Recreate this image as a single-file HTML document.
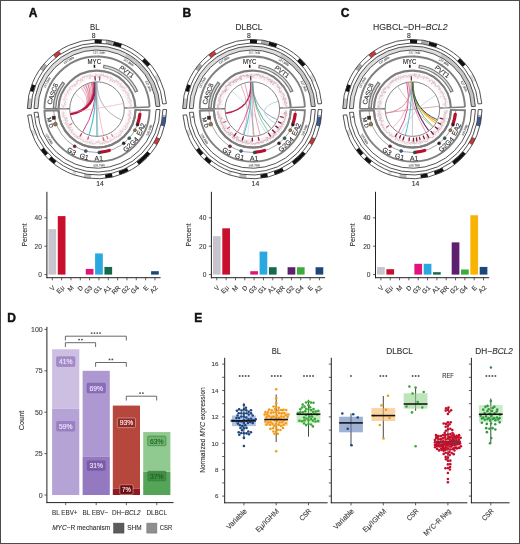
<!DOCTYPE html><html><head><meta charset="utf-8"><style>html,body{margin:0;padding:0;background:#fff;width:520px;height:544px;overflow:hidden;position:relative;font-family:"Liberation Sans",sans-serif}</style></head><body><svg width="520" height="544" viewBox="0 0 520 544" style="position:absolute;left:0;top:0;will-change:transform;font-family:'Liberation Sans', sans-serif">
<rect x="0" y="0" width="520" height="544" fill="#fff"/>
<text x="28.8" y="17" font-size="12" fill="#111" text-anchor="start" font-weight="bold" stroke="#111" stroke-width="0.45">A</text>
<text x="182.6" y="17" font-size="12" fill="#111" text-anchor="start" font-weight="bold" stroke="#111" stroke-width="0.45">B</text>
<text x="340.7" y="17" font-size="12" fill="#111" text-anchor="start" font-weight="bold" stroke="#111" stroke-width="0.45">C</text>
<text x="7.3" y="322.2" font-size="12" fill="#111" text-anchor="start" font-weight="bold" stroke="#111" stroke-width="0.45">D</text>
<text x="194.3" y="322.2" font-size="12" fill="#111" text-anchor="start" font-weight="bold" stroke="#111" stroke-width="0.45">E</text>
<text x="94.8" y="30" font-size="9" fill="#333" text-anchor="middle" font-weight="normal" textLength="9.5" lengthAdjust="spacingAndGlyphs" stroke="#333" stroke-width="0.12">BL</text>
<text x="249" y="30" font-size="9" fill="#333" text-anchor="middle" font-weight="normal" textLength="27" lengthAdjust="spacingAndGlyphs" stroke="#333" stroke-width="0.12">DLBCL</text>
<text x="410.3" y="30" font-size="9" fill="#333" text-anchor="middle" textLength="74.5" lengthAdjust="spacingAndGlyphs" stroke="#333" stroke-width="0.12">HGBCL−DH−<tspan font-style="italic">BCL2</tspan></text>
<path d="M27.4 108.49A69.6 69.6 0 0 1 166.39 103.64L162.7 103.93A65.9 65.9 0 0 0 31.1 108.52Z" fill="#fff" stroke="none"/>
<path d="M166.6 109.59A69.6 69.6 0 0 1 27.66 115.17L31.35 114.84A65.9 65.9 0 0 0 162.9 109.56Z" fill="#fff" stroke="none"/>
<path d="M27.4 108.49A69.6 69.6 0 0 1 28.26 98.21L31.91 98.79A65.9 65.9 0 0 0 31.1 108.52Z" fill="#c4c4c4" stroke="none"/>
<path d="M29.77 91.09A69.6 69.6 0 0 1 32.02 84.16L35.48 85.48A65.9 65.9 0 0 0 33.35 92.04Z" fill="#111" stroke="none"/>
<path d="M39.99 69.18A69.6 69.6 0 0 1 44.47 63.44L47.26 65.87A65.9 65.9 0 0 0 43.02 71.3Z" fill="#aaa" stroke="none"/>
<path d="M53.2 55.01A69.6 69.6 0 0 1 59.09 50.73L61.11 53.83A65.9 65.9 0 0 0 55.53 57.89Z" fill="#c23a3a" stroke="none"/>
<path d="M94.57 39.54A69.6 69.6 0 0 1 101.86 39.67L101.6 43.36A65.9 65.9 0 0 0 94.7 43.24Z" fill="#111" stroke="none"/>
<path d="M106.08 40.1A69.6 69.6 0 0 1 113.25 41.42L112.38 45.02A65.9 65.9 0 0 0 105.6 43.76Z" fill="#aaa" stroke="none"/>
<path d="M113.84 41.57A69.6 69.6 0 0 1 121.94 44.12L120.62 47.58A65.9 65.9 0 0 0 112.94 45.16Z" fill="#111" stroke="none"/>
<path d="M144.47 58.2A69.6 69.6 0 0 1 150.32 64.36L147.48 66.74A65.9 65.9 0 0 0 141.94 60.9Z" fill="#111" stroke="none"/>
<path d="M157.28 74.3A69.6 69.6 0 0 1 160.58 80.79L157.2 82.3A65.9 65.9 0 0 0 154.07 76.15Z" fill="#ddd" stroke="none"/>
<path d="M166.15 116.98A69.6 69.6 0 0 1 164.38 126.53L160.8 125.6A65.9 65.9 0 0 0 162.48 116.56Z" fill="#3d5a8e" stroke="none"/>
<path d="M166.34 115.17A69.6 69.6 0 0 1 166.15 116.98L162.48 116.56A65.9 65.9 0 0 0 162.65 114.84Z" fill="#9aaccc" stroke="none"/>
<path d="M160.08 138.51A69.6 69.6 0 0 1 156.66 144.95L153.49 143.04A65.9 65.9 0 0 0 156.73 136.95Z" fill="#c23a3a" stroke="none"/>
<path d="M150.32 153.84A69.6 69.6 0 0 1 138.89 164.69L136.66 161.73A65.9 65.9 0 0 0 147.48 151.46Z" fill="#111" stroke="none"/>
<path d="M128.6 171.11A69.6 69.6 0 0 1 119.66 174.91L118.45 171.41A65.9 65.9 0 0 0 126.92 167.82Z" fill="#111" stroke="none"/>
<path d="M112.66 176.92A69.6 69.6 0 0 1 105.48 178.18L105.03 174.51A65.9 65.9 0 0 0 111.82 173.31Z" fill="#111" stroke="none"/>
<path d="M90.93 178.44A69.6 69.6 0 0 1 83.72 177.42L84.43 173.79A65.9 65.9 0 0 0 91.26 174.75Z" fill="#bbb" stroke="none"/>
<path d="M75.49 175.29A69.6 69.6 0 0 1 72.06 174.08L73.38 170.62A65.9 65.9 0 0 0 76.64 171.77Z" fill="#ddd" stroke="none"/>
<path d="M54.15 163.95A69.6 69.6 0 0 1 48.65 159.17L51.22 156.5A65.9 65.9 0 0 0 56.43 161.03Z" fill="#111" stroke="none"/>
<path d="M45.28 155.67A69.6 69.6 0 0 1 40.69 150.01L43.69 147.84A65.9 65.9 0 0 0 48.03 153.2Z" fill="#111" stroke="none"/>
<path d="M32.93 136.29A69.6 69.6 0 0 1 30.81 130.61L34.33 129.46A65.9 65.9 0 0 0 36.34 134.85Z" fill="#ddd" stroke="none"/>
<path d="M27.4 108.49A69.6 69.6 0 0 1 166.39 103.64L162.7 103.93A65.9 65.9 0 0 0 31.1 108.52Z" fill="none" stroke="#333" stroke-width="0.85"/>
<path d="M166.6 109.59A69.6 69.6 0 0 1 27.66 115.17L31.35 114.84A65.9 65.9 0 0 0 162.9 109.56Z" fill="none" stroke="#333" stroke-width="0.85"/>
<path d="M34 108.55A63 63 0 0 1 159.94 106.35L156.04 106.52A59.1 59.1 0 0 0 37.9 108.58Z" fill="#dedede" stroke="none"/>
<path d="M126.58 53.47A63 63 0 0 1 159.94 106.35L156.04 106.52A59.1 59.1 0 0 0 124.75 56.92Z" fill="#c6c6c6" stroke="none"/>
<path d="M34 108.55A63 63 0 0 1 159.94 106.35L156.04 106.52A59.1 59.1 0 0 0 37.9 108.58Z" fill="none" stroke="#404040" stroke-width="0.9"/>
<path d="M160 109.54A63 63 0 0 1 34.09 112.4L37.98 112.19A59.1 59.1 0 0 0 156.1 109.51Z" fill="none" stroke="#404040" stroke-width="0.9"/>
<line x1="38.41" y1="116.81" x2="36.32" y2="117.09" stroke="#111" stroke-width="0.9"/>
<text x="47.2" y="82.62" font-size="3" fill="#666" text-anchor="middle" transform="rotate(-62 47.2 82.62)" dy="1" stroke="#666" stroke-width="0.12">127.5Mb</text>
<line x1="50.56" y1="84.41" x2="49.32" y2="83.75" stroke="#666" stroke-width="0.5"/>
<text x="68.8" y="60.26" font-size="3" fill="#666" text-anchor="middle" transform="rotate(-30 68.8 60.26)" dy="1" stroke="#666" stroke-width="0.12">127.6Mb</text>
<line x1="70.7" y1="63.55" x2="70" y2="62.33" stroke="#666" stroke-width="0.5"/>
<text x="98.97" y="52.73" font-size="3" fill="#666" text-anchor="middle" transform="rotate(2 98.97 52.73)" dy="1" stroke="#666" stroke-width="0.12">127.7Mb</text>
<line x1="98.84" y1="56.53" x2="98.88" y2="55.13" stroke="#666" stroke-width="0.5"/>
<text x="128.54" y="62.34" font-size="3" fill="#666" text-anchor="middle" transform="rotate(34 128.54 62.34)" dy="1" stroke="#666" stroke-width="0.12">127.8Mb</text>
<line x1="126.41" y1="65.49" x2="127.2" y2="64.33" stroke="#666" stroke-width="0.5"/>
<text x="148.52" y="86.16" font-size="3" fill="#666" text-anchor="middle" transform="rotate(66 148.52 86.16)" dy="1" stroke="#666" stroke-width="0.12">127.9Mb</text>
<line x1="145.05" y1="87.71" x2="146.33" y2="87.14" stroke="#666" stroke-width="0.5"/>
<text x="149.29" y="130.23" font-size="3" fill="#666" text-anchor="middle" transform="rotate(-68 149.29 130.23)" dy="1" stroke="#666" stroke-width="0.12">105.8Mb</text>
<line x1="145.77" y1="128.8" x2="147.07" y2="129.33" stroke="#666" stroke-width="0.5"/>
<text x="98.97" y="165.47" font-size="3" fill="#666" text-anchor="middle" transform="rotate(-2 98.97 165.47)" dy="1" stroke="#666" stroke-width="0.12">105.7Mb</text>
<line x1="98.84" y1="161.67" x2="98.88" y2="163.07" stroke="#666" stroke-width="0.5"/>
<text x="49.17" y="138.99" font-size="3" fill="#666" text-anchor="middle" transform="rotate(58 49.17 138.99)" dy="1" stroke="#666" stroke-width="0.12">105.6Mb</text>
<line x1="52.39" y1="136.97" x2="51.21" y2="137.72" stroke="#666" stroke-width="0.5"/>
<path d="M44.4 108.64A52.6 52.6 0 0 1 149.56 107.08" fill="none" stroke="#808080" stroke-width="1.9"/>
<path d="M149.59 110.2A52.6 52.6 0 0 1 44.43 110.75L58.52 110.31A38.5 38.5 0 0 0 135.49 109.91Z" fill="none" stroke="#808080" stroke-width="1.9"/>
<path d="M58.5 108.76A38.5 38.5 0 0 1 135.47 107.62" fill="none" stroke="#7c7c7c" stroke-width="2.1"/>
<path d="M135.49 109.91A38.5 38.5 0 0 1 58.52 110.31" fill="none" stroke="#7c7c7c" stroke-width="2.1"/>
<line x1="69.7" y1="108.86" x2="44.4" y2="108.64" stroke="#7e7e7e" stroke-width="1.5"/>
<line x1="124.28" y1="108.05" x2="149.56" y2="107.08" stroke="#7e7e7e" stroke-width="1.5"/>
<path d="M140.37 110.61A43.4 43.4 0 0 1 53.64 110.99" fill="none" stroke="#666" stroke-width="0.6"/>
<path d="M103.95 65.25A44.4 44.4 0 0 1 137.56 91.04L135.28 92.06A41.9 41.9 0 0 0 103.55 67.72Z" fill="#dcdcdc" stroke="#777" stroke-width="1.2"/>
<path d="M53.31 107.96A43.7 43.7 0 0 1 62.56 82.2L64.53 83.73A41.2 41.2 0 0 0 55.81 108.02Z" fill="#dcdcdc" stroke="#777" stroke-width="1.2"/>
<path d="M60.71 108.15A36.3 36.3 0 0 1 133.25 107.2L127.46 107.5A30.5 30.5 0 0 0 66.51 108.3Z" fill="#fcf6f7" stroke="none"/>
<path d="M133.28 110.37A36.3 36.3 0 0 1 60.73 110.68L66.53 110.43A30.5 30.5 0 0 0 127.48 110.16Z" fill="#fcf6f7" stroke="none"/>
<polyline points="63.76,108.23 63.47,107.51 62.48,106.89 64.12,106.6 63.65,106.01 63.72,105.33 65.89,104.84 64.87,103.93 64.01,103.42 65,103.02 66.18,102.7 65.71,102.01 64.78,101.03 63.47,99.97 63.33,99.33 64.08,99.02 64.52,98.36 65.28,98.23 65.63,97.77 64.65,96.67 65.26,96.3 65.77,95.85 66.75,95.88 65.78,94.55 66.19,94.25 66.42,93.55 66.7,93.17 67.12,92.68 68.1,92.52 66.85,90.92 68.06,90.78 69.37,90.97 69.4,90.25 69.4,89.54 69.2,88.64 71.46,89.63 69.46,87.28 70.02,86.76 71.21,86.76 71.43,86.47 72.73,86.77 72.87,86.1 72.82,85.08 74.01,85.48 75.69,86.47 74.5,84.35 75.89,84.83 75.65,83.52 77.08,84.23 77.26,83.35 76.52,81.47 77.83,82.17 77.29,79.96 78.75,80.76 79.2,80.15 79.99,80.77 81.12,81.15 80.57,78.5 82.33,80.71 82.97,80.82 82.25,78.24 82.9,77.79 82.92,76.55 84.19,78.2 84.2,76.18 85.17,76.49 86.34,77.33 86.76,77.37 86.74,75.77 87.76,76.53 87.9,75.14 89.07,76.44 90.1,79.11 89.87,74.78 90.55,74.77 91.6,77.1 92.06,75.09 92.73,75.75 93.54,76.35 93.9,76.05 94.23,75.69 94.87,76.95 95.49,75.97 95.95,73.69 96.49,75.54 96.89,75.03 97.71,75.44 98.18,77.73 99.13,74.67 99.86,73.77 100.49,74.66 100.92,76.3 101.71,73.96 102.27,74.93 102.66,75.88 103.41,74.59 103.66,75.99 104.3,75.99 104.57,76.89 104.94,76.97 105.88,75.29 106.18,77.09 106.81,77.49 107.78,75.89 107.61,78.7 108.83,77.58 109.39,77.29 110.45,76.8 111.11,77.24 110.37,79.92 110.53,81.06 112.59,78.52 113.15,79.09 112.48,81.35 113.63,80.4 114.01,80.56 115.02,80.34 114.47,82.35 116.42,80.48 116.25,81.92 116.82,82.11 118.38,81.07 117.97,82.41 117.94,83.4 118.88,83.46 119.55,83.83 120.47,83.88 121.7,83.75 119.57,86.53 120.85,86.24 121.88,86.21 121.07,87.51 123.2,86.61 122.8,87.98 124.26,87.77 125.16,87.81 125.24,88.45 122.6,90.87 124.51,90.49 124.8,90.94 125.7,90.92 125.13,91.93 126.35,91.94 126.32,92.66 127.48,92.56 128.5,92.89 128.5,93.57 127.67,94.68 127.03,95.41 129.48,95 127.82,96.6 128.46,97.01 127.88,97.78 128.82,98.03 129.99,98.41 128.94,99.43 130.12,99.59 130.1,100.38 131.06,100.75 131.62,101.37 130.78,102.01 129.31,102.84 130.44,103.19 131.38,103.68 130.87,104.49 131.35,105.1 131.36,105.66 131.83,106.44 131.97,107.17" fill="none" stroke="#d4aab8" stroke-width="0.55" stroke-opacity="0.9"/>
<polyline points="130.57,110.27 129.1,110.95 129.5,111.54 130.84,112.35 129.73,112.89 131.36,113.91 130.13,114.42 127.92,114.79 130.18,115.82 129.53,116.39 131.01,117.46 129.38,117.71 130.66,118.52 129.1,118.6 128.25,119.05 128.93,119.94 128.2,120.43 130.14,121.62 129.25,122.15 127.87,122.1 127.91,122.87 128.56,123.68 126.91,123.46 126.09,123.7 127.67,125.21 127.66,126.01 126.27,125.98 125.73,126.14 125.02,126.38 125.63,127.63 125.92,128.38 125.97,129.21 125.51,129.36 124.33,129.15 123.89,129.8 122.95,129.96 122.71,130.23 121.85,129.99 123.01,131.97 121.3,131.44 119.83,130.61 121.74,133.41 120.72,133.34 120.15,133.93 119.89,134.83 119.35,135.2 118.7,135.04 119.22,136.38 118.41,136.48 117.91,136.99 116.32,136.21 116.35,137.58 115.55,137.73 114.27,137.22 113.92,137.71 113.53,138.4 113.56,139.27 113.26,139.87 112.95,140.21 111.7,139.42 111.55,140.21 111.32,140.97 110.03,139.61 110.38,141.95 109.39,141.54 108.75,142.13 107.95,141.14 107.55,141.21 107.56,142.49 106.67,141.36 106.51,142.62 105.51,141.28 104.55,139.47 104.92,143.47 104.04,143.41 102.95,142 102.67,144.12 101.87,143.6 101.02,143.44 100.53,144.37 99.89,142.26 99.32,142.96 98.5,140.5 98.12,142.26 97.48,142.72 96.74,141.45 96.36,142.95 95.68,142.71 94.96,144.19 94.42,143.66 93.58,143.91 92.75,144.34 92.37,143.63 91.87,142.88 90.96,143.54 90.55,143.62 90.38,142.12 90.13,141.59 89.02,143.01 88.52,142.42 87.95,142.19 87.26,141.64 86.87,141.22 86.06,141.64 85.57,141.71 84.96,141.3 84.1,141.99 83.48,141.64 83.3,140.11 82.65,139.78 82.17,139.44 81.78,139.3 81.67,138.72 80.49,139.32 80.19,138.16 79.01,138.77 78.66,137.93 77.47,138.66 78.35,136.61 78.13,136.14 76.26,137.76 76.9,135.71 75.64,135.98 74.58,136.45 74.92,135.39 75.14,134.1 74.16,134.48 73.05,134.54 73.47,133.52 72.9,133.39 72.87,132.84 72.64,131.98 70.95,132.78 71.38,131.72 71.52,130.79 72.56,129.27 69.33,131.03 69.82,130.03 69.6,129.29 69.98,128.18 68.49,128.45 69.24,127.23 67.67,127.66 68.15,126.81 69.29,125.54 68.16,125.43 66.58,125.53 66.97,124.44 68.09,123.32 66.05,123.88 66.25,123.09 64.7,123.09 66.63,121.88 67.96,120.67 65.32,120.84 65.9,120.01 65.2,119.81 67.37,118.42 64.71,118.84 66.57,117.91 65.38,117.45 63.77,117.37 64,116.49 62.61,116.1 63.58,115.12 63.16,114.53 63.41,113.87 64.43,113.09 63.74,112.74 63.59,112.14 62.96,111.59 63.19,111.16" fill="none" stroke="#d4aab8" stroke-width="0.55" stroke-opacity="0.9"/>
<line x1="129.24" y1="118.3" x2="131.26" y2="118.88" stroke="#d8d0d4" stroke-width="0.45"/>
<line x1="109.79" y1="137.44" x2="110.34" y2="138.67" stroke="#d8d0d4" stroke-width="0.45"/>
<line x1="110.33" y1="137.6" x2="111.36" y2="139.82" stroke="#d8d0d4" stroke-width="0.45"/>
<line x1="76.53" y1="82.4" x2="75.81" y2="81.46" stroke="#d8d0d4" stroke-width="0.45"/>
<line x1="79.42" y1="137.67" x2="78.68" y2="138.86" stroke="#d8d0d4" stroke-width="0.45"/>
<line x1="73.48" y1="130.03" x2="71.74" y2="131.57" stroke="#d8d0d4" stroke-width="0.45"/>
<line x1="120.98" y1="87.43" x2="121.73" y2="86.75" stroke="#d8d0d4" stroke-width="0.45"/>
<line x1="122.75" y1="127.78" x2="124.37" y2="128.95" stroke="#d8d0d4" stroke-width="0.45"/>
<line x1="87.64" y1="140.55" x2="87.4" y2="141.33" stroke="#d8d0d4" stroke-width="0.45"/>
<line x1="65.07" y1="120.07" x2="63.22" y2="120.71" stroke="#d8d0d4" stroke-width="0.45"/>
<line x1="120.95" y1="86.85" x2="122.7" y2="85.23" stroke="#d8d0d4" stroke-width="0.45"/>
<line x1="129.29" y1="100.8" x2="131.11" y2="100.34" stroke="#d8d0d4" stroke-width="0.45"/>
<line x1="126.94" y1="93.4" x2="128.3" y2="92.69" stroke="#d8d0d4" stroke-width="0.45"/>
<line x1="121.67" y1="128.14" x2="122.97" y2="129.14" stroke="#d8d0d4" stroke-width="0.45"/>
<line x1="65.06" y1="100.35" x2="64.29" y2="100.14" stroke="#d8d0d4" stroke-width="0.45"/>
<line x1="67.03" y1="99.95" x2="66.03" y2="99.64" stroke="#d8d0d4" stroke-width="0.45"/>
<line x1="129.03" y1="110.71" x2="130.31" y2="110.77" stroke="#d8d0d4" stroke-width="0.45"/>
<line x1="63.59" y1="113.69" x2="61.63" y2="113.96" stroke="#d8d0d4" stroke-width="0.45"/>
<line x1="86.91" y1="141" x2="86.54" y2="142.19" stroke="#d8d0d4" stroke-width="0.45"/>
<line x1="86.28" y1="138.95" x2="85.67" y2="140.66" stroke="#d8d0d4" stroke-width="0.45"/>
<line x1="116.96" y1="84.76" x2="118.35" y2="83.06" stroke="#d8d0d4" stroke-width="0.45"/>
<line x1="69.85" y1="125.92" x2="67.82" y2="127.18" stroke="#d8d0d4" stroke-width="0.45"/>
<line x1="116.04" y1="82.18" x2="117.53" y2="80.06" stroke="#d8d0d4" stroke-width="0.45"/>
<line x1="93.28" y1="140.04" x2="93.09" y2="141.62" stroke="#d8d0d4" stroke-width="0.45"/>
<line x1="119.92" y1="86.94" x2="121.55" y2="85.36" stroke="#d8d0d4" stroke-width="0.45"/>
<line x1="127.9" y1="97.24" x2="129.71" y2="96.54" stroke="#d8d0d4" stroke-width="0.45"/>
<line x1="127.95" y1="112.77" x2="129.95" y2="113.01" stroke="#d8d0d4" stroke-width="0.45"/>
<line x1="73.09" y1="129.64" x2="71.61" y2="130.91" stroke="#d8d0d4" stroke-width="0.45"/>
<line x1="128.93" y1="106.6" x2="131" y2="106.44" stroke="#d8d0d4" stroke-width="0.45"/>
<line x1="66.49" y1="114.94" x2="64.12" y2="115.39" stroke="#d8d0d4" stroke-width="0.45"/>
<line x1="122.07" y1="86.87" x2="122.9" y2="86.13" stroke="#d8d0d4" stroke-width="0.45"/>
<line x1="103.98" y1="139.61" x2="104.3" y2="140.98" stroke="#d8d0d4" stroke-width="0.45"/>
<line x1="64.84" y1="116.36" x2="62.68" y2="116.84" stroke="#d8d0d4" stroke-width="0.45"/>
<line x1="128.48" y1="101.38" x2="130.12" y2="100.98" stroke="#d8d0d4" stroke-width="0.45"/>
<line x1="92.82" y1="142.01" x2="92.67" y2="143.14" stroke="#d8d0d4" stroke-width="0.45"/>
<line x1="127.43" y1="97.33" x2="129.13" y2="96.67" stroke="#d8d0d4" stroke-width="0.45"/>
<line x1="67.42" y1="124.87" x2="66.48" y2="125.38" stroke="#d8d0d4" stroke-width="0.45"/>
<line x1="119.5" y1="87.3" x2="120.1" y2="86.71" stroke="#d8d0d4" stroke-width="0.45"/>
<line x1="69.29" y1="94.02" x2="67.37" y2="92.98" stroke="#d8d0d4" stroke-width="0.45"/>
<line x1="113.93" y1="137.88" x2="114.6" y2="139.02" stroke="#d8d0d4" stroke-width="0.45"/>
<line x1="78.71" y1="80.54" x2="77.47" y2="78.61" stroke="#d8d0d4" stroke-width="0.45"/>
<line x1="68" y1="120.2" x2="66.58" y2="120.74" stroke="#d8d0d4" stroke-width="0.45"/>
<line x1="119.38" y1="133.64" x2="121.02" y2="135.44" stroke="#d8d0d4" stroke-width="0.45"/>
<line x1="128.29" y1="116.57" x2="129.08" y2="116.76" stroke="#d8d0d4" stroke-width="0.45"/>
<line x1="86.41" y1="141.35" x2="85.65" y2="143.66" stroke="#d8d0d4" stroke-width="0.45"/>
<line x1="114.08" y1="136.19" x2="114.74" y2="137.23" stroke="#d8d0d4" stroke-width="0.45"/>
<line x1="92.35" y1="142.58" x2="92" y2="145.09" stroke="#d8d0d4" stroke-width="0.45"/>
<line x1="82.91" y1="79.53" x2="82.16" y2="77.97" stroke="#d8d0d4" stroke-width="0.45"/>
<line x1="127.05" y1="94.55" x2="129.28" y2="93.47" stroke="#d8d0d4" stroke-width="0.45"/>
<line x1="102.77" y1="141.69" x2="103.12" y2="143.71" stroke="#d8d0d4" stroke-width="0.45"/>
<line x1="115.86" y1="135.7" x2="116.58" y2="136.72" stroke="#d8d0d4" stroke-width="0.45"/>
<line x1="91.83" y1="140.03" x2="91.5" y2="141.96" stroke="#d8d0d4" stroke-width="0.45"/>
<line x1="121.95" y1="87.99" x2="123.44" y2="86.73" stroke="#d8d0d4" stroke-width="0.45"/>
<line x1="130.64" y1="104.67" x2="131.86" y2="104.51" stroke="#d8d0d4" stroke-width="0.45"/>
<line x1="63.34" y1="105.37" x2="61.99" y2="105.21" stroke="#d8d0d4" stroke-width="0.45"/>
<line x1="103.15" y1="77.45" x2="103.51" y2="75.61" stroke="#d8d0d4" stroke-width="0.45"/>
<line x1="64.12" y1="113.1" x2="62.76" y2="113.27" stroke="#d8d0d4" stroke-width="0.45"/>
<line x1="128.6" y1="116.02" x2="130.26" y2="116.38" stroke="#d8d0d4" stroke-width="0.45"/>
<line x1="124.46" y1="93.67" x2="125.78" y2="92.93" stroke="#d8d0d4" stroke-width="0.45"/>
<line x1="121.39" y1="89.01" x2="123.14" y2="87.56" stroke="#d8d0d4" stroke-width="0.45"/>
<line x1="117.28" y1="85.06" x2="118.46" y2="83.67" stroke="#d8d0d4" stroke-width="0.45"/>
<line x1="78.96" y1="137.14" x2="77.92" y2="138.75" stroke="#d8d0d4" stroke-width="0.45"/>
<line x1="101.32" y1="140.82" x2="101.46" y2="141.86" stroke="#d8d0d4" stroke-width="0.45"/>
<line x1="98.56" y1="77.09" x2="98.62" y2="75.79" stroke="#d8d0d4" stroke-width="0.45"/>
<line x1="127.82" y1="102.84" x2="128.83" y2="102.64" stroke="#d8d0d4" stroke-width="0.45"/>
<line x1="98.09" y1="77.53" x2="98.16" y2="75.29" stroke="#d8d0d4" stroke-width="0.45"/>
<line x1="127.74" y1="116.41" x2="129.27" y2="116.77" stroke="#d8d0d4" stroke-width="0.45"/>
<line x1="74.93" y1="133.27" x2="73.72" y2="134.6" stroke="#d8d0d4" stroke-width="0.45"/>
<line x1="121.66" y1="89.35" x2="123.16" y2="88.15" stroke="#d8d0d4" stroke-width="0.45"/>
<line x1="67.96" y1="92.69" x2="67.17" y2="92.25" stroke="#d8d0d4" stroke-width="0.45"/>
<line x1="98.29" y1="141.22" x2="98.37" y2="143.25" stroke="#d8d0d4" stroke-width="0.45"/>
<line x1="123.5" y1="125.92" x2="125" y2="126.87" stroke="#d8d0d4" stroke-width="0.45"/>
<line x1="69.1" y1="94.01" x2="67.79" y2="93.3" stroke="#d8d0d4" stroke-width="0.45"/>
<line x1="104.81" y1="77.05" x2="105.42" y2="74.55" stroke="#d8d0d4" stroke-width="0.45"/>
<line x1="118.11" y1="83.07" x2="118.87" y2="82.13" stroke="#d8d0d4" stroke-width="0.45"/>
<line x1="105.55" y1="139.98" x2="106.02" y2="141.68" stroke="#d8d0d4" stroke-width="0.45"/>
<line x1="69.09" y1="90.6" x2="68.11" y2="89.95" stroke="#d8d0d4" stroke-width="0.45"/>
<line x1="128.05" y1="101.92" x2="130.25" y2="101.42" stroke="#d8d0d4" stroke-width="0.45"/>
<line x1="124.56" y1="126.97" x2="126.37" y2="128.15" stroke="#d8d0d4" stroke-width="0.45"/>
<line x1="98.49" y1="77.96" x2="98.6" y2="75.67" stroke="#d8d0d4" stroke-width="0.45"/>
<line x1="110.79" y1="78.64" x2="111.83" y2="76.34" stroke="#d8d0d4" stroke-width="0.45"/>
<line x1="118.75" y1="131.62" x2="120.38" y2="133.3" stroke="#d8d0d4" stroke-width="0.45"/>
<line x1="118.44" y1="132.5" x2="119.23" y2="133.37" stroke="#d8d0d4" stroke-width="0.45"/>
<line x1="128.33" y1="110.6" x2="130.76" y2="110.72" stroke="#d8d0d4" stroke-width="0.45"/>
<line x1="106.22" y1="141.26" x2="106.63" y2="142.69" stroke="#d8d0d4" stroke-width="0.45"/>
<line x1="69.63" y1="124.49" x2="67.81" y2="125.51" stroke="#d8d0d4" stroke-width="0.45"/>
<line x1="98.43" y1="78.12" x2="98.47" y2="77.11" stroke="#d8d0d4" stroke-width="0.45"/>
<line x1="87.68" y1="77.14" x2="87.27" y2="75.72" stroke="#d8d0d4" stroke-width="0.45"/>
<line x1="129.64" y1="105.44" x2="130.91" y2="105.3" stroke="#d8d0d4" stroke-width="0.45"/>
<line x1="118.54" y1="134.12" x2="120.14" y2="135.99" stroke="#d8d0d4" stroke-width="0.45"/>
<line x1="76.84" y1="136.36" x2="75.54" y2="138.12" stroke="#d8d0d4" stroke-width="0.45"/>
<line x1="125.08" y1="94.14" x2="125.94" y2="93.68" stroke="#d8d0d4" stroke-width="0.45"/>
<line x1="82.34" y1="136.85" x2="81.49" y2="138.45" stroke="#d8d0d4" stroke-width="0.45"/>
<line x1="126.87" y1="100.31" x2="128.01" y2="99.97" stroke="#d8d0d4" stroke-width="0.45"/>
<line x1="83.24" y1="138.67" x2="82.2" y2="140.91" stroke="#d8d0d4" stroke-width="0.45"/>
<line x1="71.3" y1="126.94" x2="69.64" y2="128.09" stroke="#d8d0d4" stroke-width="0.45"/>
<line x1="66.17" y1="99.57" x2="64.65" y2="99.09" stroke="#d8d0d4" stroke-width="0.45"/>
<line x1="65.71" y1="118.88" x2="64.62" y2="119.22" stroke="#d8d0d4" stroke-width="0.45"/>
<line x1="129.51" y1="111.07" x2="130.66" y2="111.14" stroke="#d8d0d4" stroke-width="0.45"/>
<circle cx="119.9" cy="81.87" r="0.45" fill="#eab0bd"/>
<circle cx="62.56" cy="114.31" r="0.45" fill="#eab0bd"/>
<circle cx="64.55" cy="93.99" r="0.45" fill="#eab0bd"/>
<circle cx="131.09" cy="100.1" r="0.45" fill="#eab0bd"/>
<circle cx="84.24" cy="81.83" r="0.45" fill="#eab0bd"/>
<circle cx="71.56" cy="127.06" r="0.45" fill="#eab0bd"/>
<circle cx="65.73" cy="99.34" r="0.45" fill="#eab0bd"/>
<circle cx="61.89" cy="112.39" r="0.45" fill="#eab0bd"/>
<circle cx="126.14" cy="87.21" r="0.45" fill="#eab0bd"/>
<circle cx="87.49" cy="143.11" r="0.45" fill="#eab0bd"/>
<circle cx="116.67" cy="134.29" r="0.45" fill="#eab0bd"/>
<circle cx="70.54" cy="128.02" r="0.45" fill="#eab0bd"/>
<circle cx="67.03" cy="123.25" r="0.45" fill="#eab0bd"/>
<circle cx="70.02" cy="127.36" r="0.45" fill="#eab0bd"/>
<circle cx="127.02" cy="94.42" r="0.45" fill="#eab0bd"/>
<circle cx="109.71" cy="81.79" r="0.45" fill="#eab0bd"/>
<circle cx="127.07" cy="127.75" r="0.45" fill="#eab0bd"/>
<circle cx="103.7" cy="74.25" r="0.45" fill="#eab0bd"/>
<circle cx="89.63" cy="143.13" r="0.45" fill="#eab0bd"/>
<circle cx="128.53" cy="90.74" r="0.45" fill="#eab0bd"/>
<circle cx="89.19" cy="141.49" r="0.45" fill="#eab0bd"/>
<circle cx="72.41" cy="86.64" r="0.45" fill="#eab0bd"/>
<circle cx="61.51" cy="104.67" r="0.45" fill="#eab0bd"/>
<circle cx="113.77" cy="82.12" r="0.45" fill="#eab0bd"/>
<circle cx="129.11" cy="119.6" r="0.45" fill="#eab0bd"/>
<circle cx="125.42" cy="125.15" r="0.45" fill="#eab0bd"/>
<circle cx="120.73" cy="135.3" r="0.45" fill="#eab0bd"/>
<circle cx="127.94" cy="98.36" r="0.45" fill="#eab0bd"/>
<circle cx="86.84" cy="136.29" r="0.45" fill="#eab0bd"/>
<circle cx="80.91" cy="82.09" r="0.45" fill="#eab0bd"/>
<circle cx="89.67" cy="74.14" r="0.45" fill="#eab0bd"/>
<circle cx="79.8" cy="84.75" r="0.45" fill="#eab0bd"/>
<circle cx="110.83" cy="79.34" r="0.45" fill="#eab0bd"/>
<circle cx="81.91" cy="142.3" r="0.45" fill="#eab0bd"/>
<circle cx="77.62" cy="136.51" r="0.45" fill="#eab0bd"/>
<line x1="95.23" y1="80.15" x2="95.02" y2="76.66" stroke="#8a2a48" stroke-width="1.3" stroke-linecap="round"/>
<line x1="99.53" y1="80.21" x2="99.83" y2="76.72" stroke="#a06070" stroke-width="1.3" stroke-linecap="round"/>
<line x1="81.63" y1="133.69" x2="80.04" y2="136.24" stroke="#c04060" stroke-width="1.3" stroke-linecap="round"/>
<line x1="88.52" y1="136.83" x2="87.79" y2="139.22" stroke="#d05070" stroke-width="1.3" stroke-linecap="round"/>
<line x1="103.03" y1="137.47" x2="103.65" y2="140.4" stroke="#d07080" stroke-width="1.3" stroke-linecap="round"/>
<line x1="106.92" y1="136.35" x2="107.77" y2="138.7" stroke="#e08090" stroke-width="1.3" stroke-linecap="round"/>
<line x1="111.5" y1="134.21" x2="112.75" y2="136.38" stroke="#e090a0" stroke-width="1.3" stroke-linecap="round"/>
<line x1="71.89" y1="123.6" x2="69.72" y2="124.85" stroke="#e08090" stroke-width="1.3" stroke-linecap="round"/>
<circle cx="97" cy="109.1" r="27.3" fill="none" stroke="#777" stroke-width="0.9"/>
<path d="M81.13 87.26Q97 109.1 70.5 114.25" fill="none" stroke="#e8a8b8" stroke-width="1.2" stroke-opacity="0.85"/>
<path d="M83.5 85.72Q97 109.1 70.41 113.79" fill="none" stroke="#e498ac" stroke-width="1.3" stroke-opacity="0.85"/>
<path d="M85.59 84.63Q97 109.1 70.41 113.79" fill="none" stroke="#dc8098" stroke-width="1.3" stroke-opacity="0.85"/>
<path d="M87.77 83.73Q97 109.1 70.5 114.25" fill="none" stroke="#d47088" stroke-width="1.2" stroke-opacity="0.85"/>
<path d="M89.56 83.15Q97 109.1 70.41 113.79" fill="none" stroke="#e098b0" stroke-width="1.2" stroke-opacity="0.8"/>
<path d="M91.39 82.69Q97 109.1 70.41 113.79" fill="none" stroke="#cc5878" stroke-width="1.1" stroke-opacity="0.8"/>
<path d="M92.78 82.43Q97 109.1 70.41 113.79" fill="none" stroke="#c03c5c" stroke-width="1.2" stroke-opacity="0.85"/>
<path d="M93.94 82.27Q97 109.1 70.5 114.25" fill="none" stroke="#be1e4c" stroke-width="1.4" stroke-opacity="0.85"/>
<path d="M74.88 93.61Q97 109.1 70.26 112.86" fill="none" stroke="#eab8c4" stroke-width="0.8" stroke-opacity="0.75"/>
<path d="M95.12 82.17Q97 109.1 70.5 114.25" fill="none" stroke="#b5123c" stroke-width="2.2" stroke-opacity="0.95"/>
<path d="M95.59 82.14Q97 109.1 82.69 132" fill="none" stroke="#c0206a" stroke-width="0.9" stroke-opacity="0.9"/>
<path d="M95.59 82.14Q97 109.1 89.11 134.92" fill="none" stroke="#2cb5d0" stroke-width="1.1" stroke-opacity="0.9"/>
<path d="M96.06 82.12Q97 109.1 97 136.1" fill="none" stroke="#2a8a7a" stroke-width="0.9" stroke-opacity="0.9"/>
<path d="M96.53 82.1Q97 109.1 103.53 135.3" fill="none" stroke="#e0a0b0" stroke-width="0.8" stroke-opacity="0.8"/>
<path d="M97 82.1Q97 109.1 121.67 120.08" fill="none" stroke="#888" stroke-width="0.8" stroke-opacity="0.8"/>
<path d="M70.2 112.39Q97 109.1 123.41 103.49" fill="none" stroke="#eba0a8" stroke-width="0.7" stroke-opacity="0.8"/>
<path d="M96.06 82.12Q97 109.1 97.94 136.08" fill="none" stroke="#9ab8d8" stroke-width="0.7" stroke-opacity="0.8"/>
<path d="M139.88 114.36A43.2 43.2 0 0 1 137.72 123.52" fill="none" stroke="#b80f2f" stroke-width="3.3" stroke-linecap="round"/>
<path d="M109.27 150.52A43.2 43.2 0 0 1 100.77 152.14" fill="none" stroke="#b80f2f" stroke-width="3.3" stroke-linecap="round"/>
<rect x="52.15" y="116.14" width="3.2" height="3.2" fill="#4a2418" stroke="#333" stroke-width="0.5"/>
<circle cx="55.35" cy="124.18" r="1.9" fill="#9a7a48" stroke="#333" stroke-width="0.5"/>
<circle cx="74.65" cy="146.3" r="1.5" fill="#8a1c3a" stroke="#333" stroke-width="0.5"/>
<circle cx="85.77" cy="151.02" r="1.5" fill="#3a5f8a" stroke="#333" stroke-width="0.5"/>
<circle cx="99.27" cy="152.44" r="1.5" fill="#1a5a4a" stroke="#333" stroke-width="0.5"/>
<circle cx="123.72" cy="143.3" r="1.5" fill="#222" stroke="#333" stroke-width="0.5"/>
<circle cx="129.25" cy="138.14" r="1.5" fill="#2a6a4a" stroke="#333" stroke-width="0.5"/>
<circle cx="134.96" cy="130.14" r="1.5" fill="#a07840" stroke="#333" stroke-width="0.5"/>
<circle cx="137.52" cy="124.65" r="1.5" fill="#222" stroke="#333" stroke-width="0.5"/>
<line x1="94.54" y1="67.77" x2="94.37" y2="64.78" stroke="#111" stroke-width="1.55"/>
<text x="94.3" y="64.1" font-size="6.9" fill="#222" text-anchor="middle" font-weight="normal" textLength="13.4" lengthAdjust="spacingAndGlyphs" stroke="#222" stroke-width="0.12">MYC</text>
<text x="125.41" y="73.6" font-size="6.6" fill="#333" text-anchor="middle" font-weight="normal" transform="rotate(37 125.41 73.6)" stroke="#333" stroke-width="0.12">PVT1</text>
<text x="52.56" y="93.8" font-size="6.6" fill="#333" text-anchor="middle" font-weight="normal" transform="rotate(-71 52.56 93.8)" dy="2.3" stroke="#333" stroke-width="0.12">CASC8</text>
<text x="49.49" y="119.81" font-size="5.6" fill="#2a2a2a" text-anchor="middle" font-weight="normal" transform="rotate(77.3 49.49 119.81)" dy="1.96" stroke="#2a2a2a" stroke-width="0.12">M</text>
<text x="51.05" y="125.82" font-size="5.6" fill="#2a2a2a" text-anchor="middle" font-weight="normal" transform="rotate(70 51.05 125.82)" dy="1.96" stroke="#2a2a2a" stroke-width="0.12">D</text>
<text x="71.66" y="151.27" font-size="6.9" fill="#2a2a2a" text-anchor="middle" font-weight="normal" transform="rotate(31 71.66 151.27)" dy="2.42" stroke="#2a2a2a" stroke-width="0.12">G3</text>
<text x="84.27" y="156.62" font-size="6.9" fill="#2a2a2a" text-anchor="middle" font-weight="normal" transform="rotate(15 84.27 156.62)" dy="2.42" stroke="#2a2a2a" stroke-width="0.12">G1</text>
<text x="98.72" y="158.27" font-size="6.9" fill="#2a2a2a" text-anchor="middle" font-weight="normal" transform="rotate(-2 98.72 158.27)" dy="2.42" stroke="#2a2a2a" stroke-width="0.12">A1</text>
<text x="130.72" y="144.38" font-size="6.9" fill="#2a2a2a" text-anchor="middle" font-weight="normal" transform="rotate(-43.7 130.72 144.38)" dy="2.42" stroke="#2a2a2a" stroke-width="0.12">G2G4</text>
<text x="140.97" y="129.32" font-size="6.9" fill="#2a2a2a" text-anchor="middle" font-weight="normal" transform="rotate(-65.3 140.97 129.32)" dy="2.42" stroke="#2a2a2a" stroke-width="0.12">EA2</text>
<text x="93.6" y="37.9" font-size="6.8" fill="#333" text-anchor="middle" font-weight="normal" stroke="#333" stroke-width="0.12">8</text>
<text x="100.1" y="185.7" font-size="6.8" fill="#333" text-anchor="middle" font-weight="normal" stroke="#333" stroke-width="0.12">14</text>
<path d="M182.7 108.49A69.6 69.6 0 0 1 321.69 103.64L318 103.93A65.9 65.9 0 0 0 186.4 108.52Z" fill="#fff" stroke="none"/>
<path d="M321.9 109.59A69.6 69.6 0 0 1 182.96 115.17L186.65 114.84A65.9 65.9 0 0 0 318.2 109.56Z" fill="#fff" stroke="none"/>
<path d="M182.7 108.49A69.6 69.6 0 0 1 183.56 98.21L187.21 98.79A65.9 65.9 0 0 0 186.4 108.52Z" fill="#c4c4c4" stroke="none"/>
<path d="M185.07 91.09A69.6 69.6 0 0 1 187.32 84.16L190.78 85.48A65.9 65.9 0 0 0 188.65 92.04Z" fill="#111" stroke="none"/>
<path d="M195.29 69.18A69.6 69.6 0 0 1 199.77 63.44L202.56 65.87A65.9 65.9 0 0 0 198.32 71.3Z" fill="#aaa" stroke="none"/>
<path d="M208.5 55.01A69.6 69.6 0 0 1 214.39 50.73L216.41 53.83A65.9 65.9 0 0 0 210.83 57.89Z" fill="#c23a3a" stroke="none"/>
<path d="M249.87 39.54A69.6 69.6 0 0 1 257.16 39.67L256.9 43.36A65.9 65.9 0 0 0 250 43.24Z" fill="#111" stroke="none"/>
<path d="M261.38 40.1A69.6 69.6 0 0 1 268.55 41.42L267.68 45.02A65.9 65.9 0 0 0 260.9 43.76Z" fill="#aaa" stroke="none"/>
<path d="M269.14 41.57A69.6 69.6 0 0 1 277.24 44.12L275.92 47.58A65.9 65.9 0 0 0 268.24 45.16Z" fill="#111" stroke="none"/>
<path d="M299.77 58.2A69.6 69.6 0 0 1 305.62 64.36L302.78 66.74A65.9 65.9 0 0 0 297.24 60.9Z" fill="#111" stroke="none"/>
<path d="M312.58 74.3A69.6 69.6 0 0 1 315.88 80.79L312.5 82.3A65.9 65.9 0 0 0 309.37 76.15Z" fill="#ddd" stroke="none"/>
<path d="M321.45 116.98A69.6 69.6 0 0 1 319.68 126.53L316.1 125.6A65.9 65.9 0 0 0 317.78 116.56Z" fill="#3d5a8e" stroke="none"/>
<path d="M321.64 115.17A69.6 69.6 0 0 1 321.45 116.98L317.78 116.56A65.9 65.9 0 0 0 317.95 114.84Z" fill="#9aaccc" stroke="none"/>
<path d="M315.38 138.51A69.6 69.6 0 0 1 311.96 144.95L308.79 143.04A65.9 65.9 0 0 0 312.03 136.95Z" fill="#c23a3a" stroke="none"/>
<path d="M305.62 153.84A69.6 69.6 0 0 1 294.19 164.69L291.96 161.73A65.9 65.9 0 0 0 302.78 151.46Z" fill="#111" stroke="none"/>
<path d="M283.9 171.11A69.6 69.6 0 0 1 274.96 174.91L273.75 171.41A65.9 65.9 0 0 0 282.22 167.82Z" fill="#111" stroke="none"/>
<path d="M267.96 176.92A69.6 69.6 0 0 1 260.78 178.18L260.33 174.51A65.9 65.9 0 0 0 267.12 173.31Z" fill="#111" stroke="none"/>
<path d="M246.23 178.44A69.6 69.6 0 0 1 239.02 177.42L239.73 173.79A65.9 65.9 0 0 0 246.56 174.75Z" fill="#bbb" stroke="none"/>
<path d="M230.79 175.29A69.6 69.6 0 0 1 227.36 174.08L228.68 170.62A65.9 65.9 0 0 0 231.94 171.77Z" fill="#ddd" stroke="none"/>
<path d="M209.45 163.95A69.6 69.6 0 0 1 203.95 159.17L206.52 156.5A65.9 65.9 0 0 0 211.73 161.03Z" fill="#111" stroke="none"/>
<path d="M200.58 155.67A69.6 69.6 0 0 1 195.99 150.01L198.99 147.84A65.9 65.9 0 0 0 203.33 153.2Z" fill="#111" stroke="none"/>
<path d="M188.23 136.29A69.6 69.6 0 0 1 186.11 130.61L189.63 129.46A65.9 65.9 0 0 0 191.64 134.85Z" fill="#ddd" stroke="none"/>
<path d="M182.7 108.49A69.6 69.6 0 0 1 321.69 103.64L318 103.93A65.9 65.9 0 0 0 186.4 108.52Z" fill="none" stroke="#333" stroke-width="0.85"/>
<path d="M321.9 109.59A69.6 69.6 0 0 1 182.96 115.17L186.65 114.84A65.9 65.9 0 0 0 318.2 109.56Z" fill="none" stroke="#333" stroke-width="0.85"/>
<path d="M189.3 108.55A63 63 0 0 1 315.24 106.35L311.34 106.52A59.1 59.1 0 0 0 193.2 108.58Z" fill="#dedede" stroke="none"/>
<path d="M281.88 53.47A63 63 0 0 1 315.24 106.35L311.34 106.52A59.1 59.1 0 0 0 280.05 56.92Z" fill="#c6c6c6" stroke="none"/>
<path d="M189.3 108.55A63 63 0 0 1 315.24 106.35L311.34 106.52A59.1 59.1 0 0 0 193.2 108.58Z" fill="none" stroke="#404040" stroke-width="0.9"/>
<path d="M315.3 109.54A63 63 0 0 1 189.39 112.4L193.28 112.19A59.1 59.1 0 0 0 311.4 109.51Z" fill="none" stroke="#404040" stroke-width="0.9"/>
<line x1="193.71" y1="116.81" x2="191.62" y2="117.09" stroke="#111" stroke-width="0.9"/>
<text x="202.5" y="82.62" font-size="3" fill="#666" text-anchor="middle" transform="rotate(-62 202.5 82.62)" dy="1" stroke="#666" stroke-width="0.12">127.5Mb</text>
<line x1="205.86" y1="84.41" x2="204.62" y2="83.75" stroke="#666" stroke-width="0.5"/>
<text x="224.1" y="60.26" font-size="3" fill="#666" text-anchor="middle" transform="rotate(-30 224.1 60.26)" dy="1" stroke="#666" stroke-width="0.12">127.6Mb</text>
<line x1="226" y1="63.55" x2="225.3" y2="62.33" stroke="#666" stroke-width="0.5"/>
<text x="254.27" y="52.73" font-size="3" fill="#666" text-anchor="middle" transform="rotate(2 254.27 52.73)" dy="1" stroke="#666" stroke-width="0.12">127.7Mb</text>
<line x1="254.14" y1="56.53" x2="254.18" y2="55.13" stroke="#666" stroke-width="0.5"/>
<text x="283.84" y="62.34" font-size="3" fill="#666" text-anchor="middle" transform="rotate(34 283.84 62.34)" dy="1" stroke="#666" stroke-width="0.12">127.8Mb</text>
<line x1="281.71" y1="65.49" x2="282.5" y2="64.33" stroke="#666" stroke-width="0.5"/>
<text x="303.82" y="86.16" font-size="3" fill="#666" text-anchor="middle" transform="rotate(66 303.82 86.16)" dy="1" stroke="#666" stroke-width="0.12">127.9Mb</text>
<line x1="300.35" y1="87.71" x2="301.63" y2="87.14" stroke="#666" stroke-width="0.5"/>
<text x="304.59" y="130.23" font-size="3" fill="#666" text-anchor="middle" transform="rotate(-68 304.59 130.23)" dy="1" stroke="#666" stroke-width="0.12">105.8Mb</text>
<line x1="301.07" y1="128.8" x2="302.37" y2="129.33" stroke="#666" stroke-width="0.5"/>
<text x="254.27" y="165.47" font-size="3" fill="#666" text-anchor="middle" transform="rotate(-2 254.27 165.47)" dy="1" stroke="#666" stroke-width="0.12">105.7Mb</text>
<line x1="254.14" y1="161.67" x2="254.18" y2="163.07" stroke="#666" stroke-width="0.5"/>
<text x="204.47" y="138.99" font-size="3" fill="#666" text-anchor="middle" transform="rotate(58 204.47 138.99)" dy="1" stroke="#666" stroke-width="0.12">105.6Mb</text>
<line x1="207.69" y1="136.97" x2="206.51" y2="137.72" stroke="#666" stroke-width="0.5"/>
<path d="M199.7 108.64A52.6 52.6 0 0 1 304.86 107.08" fill="none" stroke="#808080" stroke-width="1.9"/>
<path d="M304.89 110.2A52.6 52.6 0 0 1 199.73 110.75L213.82 110.31A38.5 38.5 0 0 0 290.79 109.91Z" fill="none" stroke="#808080" stroke-width="1.9"/>
<path d="M213.8 108.76A38.5 38.5 0 0 1 290.77 107.62" fill="none" stroke="#7c7c7c" stroke-width="2.1"/>
<path d="M290.79 109.91A38.5 38.5 0 0 1 213.82 110.31" fill="none" stroke="#7c7c7c" stroke-width="2.1"/>
<line x1="225" y1="108.86" x2="199.7" y2="108.64" stroke="#7e7e7e" stroke-width="1.5"/>
<line x1="279.58" y1="108.05" x2="304.86" y2="107.08" stroke="#7e7e7e" stroke-width="1.5"/>
<path d="M295.67 110.61A43.4 43.4 0 0 1 208.94 110.99" fill="none" stroke="#666" stroke-width="0.6"/>
<path d="M259.25 65.25A44.4 44.4 0 0 1 292.86 91.04L290.58 92.06A41.9 41.9 0 0 0 258.85 67.72Z" fill="#dcdcdc" stroke="#777" stroke-width="1.2"/>
<path d="M208.61 107.96A43.7 43.7 0 0 1 217.86 82.2L219.83 83.73A41.2 41.2 0 0 0 211.11 108.02Z" fill="#dcdcdc" stroke="#777" stroke-width="1.2"/>
<path d="M216.01 108.15A36.3 36.3 0 0 1 288.55 107.2L282.76 107.5A30.5 30.5 0 0 0 221.81 108.3Z" fill="#faf2f4" stroke="none"/>
<path d="M288.58 110.37A36.3 36.3 0 0 1 216.03 110.68L221.83 110.43A30.5 30.5 0 0 0 282.78 110.16Z" fill="#faf2f4" stroke="none"/>
<polyline points="216.93,108.17 219.2,107.86 217.72,107.09 217.92,106.44 218.42,106.05 217.03,105.19 218.52,104.74 219.65,104.52 218.81,103.89 218.99,103.31 219.63,102.91 220.66,102.3 218.43,101.06 218.47,100.31 220.19,99.92 219.71,99.06 218.75,98.12 220.4,97.88 220.4,97.04 220.06,96.05 221.2,96.01 219.98,95.01 221.72,94.92 221.56,94.08 221.67,93.38 222.06,93.07 223.36,93.04 223.55,92.36 222.6,91.35 223.67,91.46 226.05,92.1 224.45,90.41 225.76,90.79 224.7,89.62 227.03,90.42 226.07,89.06 226.34,88.74 226.22,87.83 226.13,87.29 225.7,85.97 226.61,85.72 227.01,85.46 227.7,85.54 227.73,84.99 228.97,85.38 228.47,84.18 229.25,84.47 231,85.83 228.82,82.53 230.73,83.46 230.5,82.44 230.89,81.73 231.98,82.22 232.71,82.31 233.66,82.85 232.85,80.91 234.38,82.28 233.66,79.72 235.08,80.86 236.5,82.12 235.45,79.28 236.31,79.49 237.1,79.87 237.11,79.02 238.04,79.41 238.71,79.59 238.58,78.39 239.52,78.57 239.44,77.21 239.81,76.56 241.54,80.01 240.67,75.67 241.28,76.29 242.08,76.47 242.41,75.55 243.23,76.18 243.66,74.85 244.58,76.5 244.93,75.9 245.63,75.33 246.14,75.84 246.64,76.27 247.08,74.02 248,77.56 248.38,75.29 248.76,74.98 249.57,76.06 250.22,75.6 250.73,74.41 251.58,74.17 252.03,76.74 252.79,75.73 253.38,75.16 254.22,74.42 254.97,75.45 255.74,74.39 256.17,74.8 256.97,73.97 257.16,75.34 258.01,74.98 258.5,74.3 259.14,74.52 259.51,74.83 259.92,75.11 260,76.74 260.61,76.59 261.13,76.85 261.35,77.46 262.56,76.04 263.14,76.18 263.24,77.39 263.84,77.81 264.73,77.5 265.54,77.44 265.96,77.85 266.39,77.77 266.85,78.04 267.75,77.51 267.9,78.71 268.1,80.01 269.25,78.96 269.5,79.86 270.17,79.53 271,79.38 270.02,82.11 271.13,81.25 272.27,80.32 271.13,82.84 272.49,81.69 273.88,81.17 274.43,81.58 272.43,84.66 274.22,83.33 275.34,82.75 275.79,83.1 276.56,83.44 277.11,83.89 277.48,84.56 278.2,84.9 278.06,85.94 277.46,87.2 278.39,87.09 279.22,86.98 278.77,88.03 280.08,88 279.35,89.31 279.76,89.67 280.07,89.97 279.09,91.11 280.46,90.86 280.69,91.26 281.25,91.52 280.93,92.15 281.3,92.57 282.01,93.03 282.44,93.53 282.87,93.92 283.95,93.97 283.52,94.89 284.58,95.34 283.37,96.45 283.38,97.32 284.48,97.63 282.4,99.1 284.02,99.01 286.18,98.76 284.71,99.61 284.38,100.34 284.64,100.66 285.63,101.18 284.83,102.14 283.95,102.74 285.18,102.87 286.94,103.22 286.15,104.07 285.17,104.64 285.52,105.24 286.15,105.67 287.15,106.13 286.35,106.83" fill="none" stroke="#b88a9a" stroke-width="0.55" stroke-opacity="0.9"/>
<polyline points="285.84,110.27 285.26,110.92 285.63,111.38 286.69,112.13 284.2,112.57 287.08,113.65 283.62,113.55 285.26,114.39 286.95,115.53 285.09,115.68 285.12,116.38 285.33,117.06 285.26,117.77 285.77,118.34 284.34,118.75 284.6,119.46 283.88,120.05 285.08,121.21 283.8,121.35 283.25,121.64 283.75,122.32 282.84,122.48 282.66,123.22 283.92,124.57 282.12,124.23 281.44,124.43 281.93,125.19 282.63,126.13 281.66,126.23 281.14,126.35 279.62,126.15 281.2,128.08 280.46,128.48 279.35,128.69 279.73,129.93 278.13,129.45 278.02,130.19 278.27,131.1 277.99,131.58 277.2,131.49 276.45,131.79 275.92,132.2 275.32,132.35 276.44,134.35 275.47,134.34 273.59,133.11 274.72,135.32 273.25,134.81 273.87,136.21 272.96,135.74 273.49,137.4 273.02,137.68 272.47,137.63 271.57,137.78 270.73,137.94 270.19,137.76 270.33,138.69 269.17,138.11 268.85,138.84 267.09,137.07 267.94,140.47 267.13,139.98 266.87,141.17 265.32,139.63 264.9,139.59 264.85,140.92 263.82,140.06 263.56,141.13 263.19,141.32 263.12,142.84 262.12,141.7 261.59,142.82 260.72,141.26 260.74,142.79 260,142.61 259.39,142.46 258.79,141.94 258.27,143.62 257.68,142.35 256.97,143.11 256.19,142.42 255.83,144.02 255.08,143.33 254.57,144.4 253.93,143.27 253.23,143.69 252.81,143.55 252.23,144.5 251.68,143.6 251.01,142.92 250.52,142.33 249.82,142.97 248.9,143.94 248.17,143.23 247.42,143.7 246.79,143.29 246.91,140.34 245.91,142.98 245.35,143.47 245.08,142.8 244.52,141.7 244,142.26 243.74,141.75 242.53,143.15 242.68,140.32 241.97,141.17 241.03,142.01 240.75,141.3 240,141.97 240.14,140.35 239.52,140.05 238.44,141.39 238.62,139.48 238.26,138.9 236.61,140.73 236.6,139.3 237.52,136.17 235.92,138.18 235.51,137.42 234.33,138.42 234.56,137.26 233.49,137.52 233.61,136.64 232.32,137.83 233.84,134.46 232.93,134.96 232.54,134.58 232.43,133.62 229.75,135.85 230.27,134.08 231.44,132.24 228.21,134.9 228.16,133.75 228.51,132.26 228.45,131.83 226.37,132.81 226.32,132.28 226.37,131.32 225.83,131.27 225.17,131.27 225.64,130.2 224.32,130.43 223.96,130.18 225,128.51 224.87,128.13 223.55,128.36 222.67,128.3 224.02,126.83 223.99,126.08 222.87,126.12 222.99,125.53 223.04,124.62 222.51,124.13 220.98,124.15 222.53,122.87 223.05,122.06 220.66,122.52 220.5,122.06 221.33,121.23 220.12,120.84 220.52,120.27 220.11,120.03 222.44,118.51 220.98,118.43 221.47,117.81 219.67,117.55 218.18,117.31 219.7,116.12 218.57,115.85 219.61,115.01 217.52,114.55 217.58,114.13 218.95,113.35 217.68,112.74 217.01,112.23 217.81,111.55 219.07,110.73" fill="none" stroke="#b88a9a" stroke-width="0.55" stroke-opacity="0.9"/>
<line x1="266.26" y1="137.52" x2="267.24" y2="139.51" stroke="#d6b8c0" stroke-width="0.45"/>
<line x1="221.07" y1="99.46" x2="218.76" y2="98.75" stroke="#d6b8c0" stroke-width="0.45"/>
<line x1="282.89" y1="118.17" x2="285.38" y2="118.91" stroke="#d6b8c0" stroke-width="0.45"/>
<line x1="257.65" y1="142.04" x2="258.04" y2="144.42" stroke="#d6b8c0" stroke-width="0.45"/>
<line x1="222.68" y1="123.01" x2="220.61" y2="123.98" stroke="#d6b8c0" stroke-width="0.45"/>
<line x1="253.86" y1="77.3" x2="253.92" y2="76.03" stroke="#d6b8c0" stroke-width="0.45"/>
<line x1="220.05" y1="102.78" x2="218.56" y2="102.48" stroke="#d6b8c0" stroke-width="0.45"/>
<line x1="226.45" y1="126.49" x2="224.62" y2="127.72" stroke="#d6b8c0" stroke-width="0.45"/>
<line x1="242.1" y1="78.8" x2="241.68" y2="77.54" stroke="#d6b8c0" stroke-width="0.45"/>
<line x1="220.83" y1="118.84" x2="219.27" y2="119.32" stroke="#d6b8c0" stroke-width="0.45"/>
<line x1="240.43" y1="80.31" x2="239.87" y2="78.96" stroke="#d6b8c0" stroke-width="0.45"/>
<line x1="220.59" y1="115.4" x2="218.61" y2="115.79" stroke="#d6b8c0" stroke-width="0.45"/>
<line x1="230.12" y1="130.96" x2="229.14" y2="131.92" stroke="#d6b8c0" stroke-width="0.45"/>
<line x1="279.94" y1="93.63" x2="281.24" y2="92.9" stroke="#d6b8c0" stroke-width="0.45"/>
<line x1="265.76" y1="137.47" x2="266.64" y2="139.32" stroke="#d6b8c0" stroke-width="0.45"/>
<line x1="262.27" y1="77.67" x2="262.6" y2="76.61" stroke="#d6b8c0" stroke-width="0.45"/>
<line x1="245.04" y1="140.53" x2="244.52" y2="142.77" stroke="#d6b8c0" stroke-width="0.45"/>
<line x1="220.47" y1="116.77" x2="219.65" y2="116.97" stroke="#d6b8c0" stroke-width="0.45"/>
<line x1="275.15" y1="84.02" x2="276.48" y2="82.56" stroke="#d6b8c0" stroke-width="0.45"/>
<line x1="251.14" y1="141.51" x2="251.05" y2="144" stroke="#d6b8c0" stroke-width="0.45"/>
<line x1="225.44" y1="127.99" x2="223.92" y2="129.06" stroke="#d6b8c0" stroke-width="0.45"/>
<line x1="228.09" y1="89.7" x2="227.18" y2="88.97" stroke="#d6b8c0" stroke-width="0.45"/>
<line x1="258.94" y1="141.98" x2="259.37" y2="144.12" stroke="#d6b8c0" stroke-width="0.45"/>
<line x1="229.28" y1="130" x2="228.65" y2="130.57" stroke="#d6b8c0" stroke-width="0.45"/>
<line x1="253.86" y1="78.08" x2="253.95" y2="76.23" stroke="#d6b8c0" stroke-width="0.45"/>
<line x1="222.29" y1="124.42" x2="221.4" y2="124.87" stroke="#d6b8c0" stroke-width="0.45"/>
<line x1="269.58" y1="137.23" x2="270.62" y2="138.92" stroke="#d6b8c0" stroke-width="0.45"/>
<line x1="279.34" y1="92.54" x2="281.39" y2="91.29" stroke="#d6b8c0" stroke-width="0.45"/>
<line x1="225.58" y1="128.73" x2="224.15" y2="129.78" stroke="#d6b8c0" stroke-width="0.45"/>
<line x1="221.38" y1="101.54" x2="220.18" y2="101.25" stroke="#d6b8c0" stroke-width="0.45"/>
<line x1="251.42" y1="77.46" x2="251.36" y2="75.46" stroke="#d6b8c0" stroke-width="0.45"/>
<line x1="266.1" y1="137.45" x2="267.16" y2="139.63" stroke="#d6b8c0" stroke-width="0.45"/>
<line x1="218.46" y1="107.8" x2="216.61" y2="107.73" stroke="#d6b8c0" stroke-width="0.45"/>
<line x1="272.03" y1="134.1" x2="273.29" y2="135.7" stroke="#d6b8c0" stroke-width="0.45"/>
<line x1="230.34" y1="131.84" x2="229.62" y2="132.59" stroke="#d6b8c0" stroke-width="0.45"/>
<line x1="245.44" y1="140.1" x2="245.22" y2="141.06" stroke="#d6b8c0" stroke-width="0.45"/>
<line x1="240.71" y1="79.66" x2="240.23" y2="78.44" stroke="#d6b8c0" stroke-width="0.45"/>
<line x1="223.95" y1="91.33" x2="222.41" y2="90.36" stroke="#d6b8c0" stroke-width="0.45"/>
<line x1="270.78" y1="135.07" x2="272.05" y2="136.86" stroke="#d6b8c0" stroke-width="0.45"/>
<line x1="219.6" y1="118.4" x2="218.76" y2="118.64" stroke="#d6b8c0" stroke-width="0.45"/>
<line x1="264.28" y1="80.22" x2="264.92" y2="78.69" stroke="#d6b8c0" stroke-width="0.45"/>
<line x1="270.62" y1="136.34" x2="271.42" y2="137.53" stroke="#d6b8c0" stroke-width="0.45"/>
<line x1="220.54" y1="117.59" x2="218.04" y2="118.26" stroke="#d6b8c0" stroke-width="0.45"/>
<line x1="281.77" y1="94.4" x2="282.65" y2="93.97" stroke="#d6b8c0" stroke-width="0.45"/>
<line x1="284.43" y1="116.37" x2="285.62" y2="116.64" stroke="#d6b8c0" stroke-width="0.45"/>
<line x1="274.8" y1="131" x2="275.96" y2="132.14" stroke="#d6b8c0" stroke-width="0.45"/>
<line x1="277.82" y1="129.12" x2="278.67" y2="129.79" stroke="#d6b8c0" stroke-width="0.45"/>
<line x1="241.16" y1="78.97" x2="240.47" y2="77.12" stroke="#d6b8c0" stroke-width="0.45"/>
<line x1="281.2" y1="96.32" x2="282.49" y2="95.75" stroke="#d6b8c0" stroke-width="0.45"/>
<line x1="263.99" y1="79.94" x2="264.68" y2="78.21" stroke="#d6b8c0" stroke-width="0.45"/>
<line x1="283.76" y1="103.37" x2="284.55" y2="103.23" stroke="#d6b8c0" stroke-width="0.45"/>
<line x1="226.08" y1="125.9" x2="225.24" y2="126.44" stroke="#d6b8c0" stroke-width="0.45"/>
<line x1="261.82" y1="77.12" x2="262.53" y2="74.74" stroke="#d6b8c0" stroke-width="0.45"/>
<line x1="251.06" y1="140.69" x2="250.97" y2="143" stroke="#d6b8c0" stroke-width="0.45"/>
<line x1="221.84" y1="101.75" x2="220.86" y2="101.52" stroke="#d6b8c0" stroke-width="0.45"/>
<line x1="282.58" y1="121.66" x2="284.36" y2="122.4" stroke="#d6b8c0" stroke-width="0.45"/>
<line x1="221.15" y1="120.74" x2="219.14" y2="121.49" stroke="#d6b8c0" stroke-width="0.45"/>
<line x1="237.28" y1="78.9" x2="236.19" y2="76.7" stroke="#d6b8c0" stroke-width="0.45"/>
<line x1="238.18" y1="136.97" x2="237.24" y2="138.83" stroke="#d6b8c0" stroke-width="0.45"/>
<line x1="284.67" y1="113.03" x2="285.95" y2="113.18" stroke="#d6b8c0" stroke-width="0.45"/>
<line x1="248.12" y1="142.26" x2="247.85" y2="144.43" stroke="#d6b8c0" stroke-width="0.45"/>
<line x1="263.38" y1="77.8" x2="263.7" y2="76.9" stroke="#d6b8c0" stroke-width="0.45"/>
<line x1="265.78" y1="137.12" x2="266.13" y2="137.85" stroke="#d6b8c0" stroke-width="0.45"/>
<line x1="226.73" y1="88.3" x2="224.74" y2="86.68" stroke="#d6b8c0" stroke-width="0.45"/>
<line x1="284.57" y1="102.51" x2="286.38" y2="102.14" stroke="#d6b8c0" stroke-width="0.45"/>
<line x1="234.57" y1="138.01" x2="233.38" y2="139.94" stroke="#d6b8c0" stroke-width="0.45"/>
<line x1="267.94" y1="82.08" x2="269.14" y2="80" stroke="#d6b8c0" stroke-width="0.45"/>
<line x1="258.83" y1="76.47" x2="259.3" y2="74.16" stroke="#d6b8c0" stroke-width="0.45"/>
<line x1="237.39" y1="81.26" x2="236.65" y2="79.88" stroke="#d6b8c0" stroke-width="0.45"/>
<line x1="234.26" y1="137.39" x2="232.87" y2="139.58" stroke="#d6b8c0" stroke-width="0.45"/>
<line x1="257.56" y1="76.66" x2="257.94" y2="74.31" stroke="#d6b8c0" stroke-width="0.45"/>
<line x1="275.89" y1="86.37" x2="276.76" y2="85.54" stroke="#d6b8c0" stroke-width="0.45"/>
<line x1="232.85" y1="134.93" x2="231.85" y2="136.26" stroke="#d6b8c0" stroke-width="0.45"/>
<line x1="270.39" y1="135.44" x2="271.67" y2="137.31" stroke="#d6b8c0" stroke-width="0.45"/>
<line x1="283.56" y1="101.01" x2="285.6" y2="100.48" stroke="#d6b8c0" stroke-width="0.45"/>
<line x1="269.18" y1="137.61" x2="270.39" y2="139.65" stroke="#d6b8c0" stroke-width="0.45"/>
<line x1="241.26" y1="139.37" x2="240.59" y2="141.21" stroke="#d6b8c0" stroke-width="0.45"/>
<line x1="232.48" y1="133.15" x2="231.22" y2="134.69" stroke="#d6b8c0" stroke-width="0.45"/>
<line x1="284.04" y1="114.57" x2="285.04" y2="114.74" stroke="#d6b8c0" stroke-width="0.45"/>
<line x1="260.67" y1="76.92" x2="261.27" y2="74.61" stroke="#d6b8c0" stroke-width="0.45"/>
<line x1="219.27" y1="113.01" x2="216.9" y2="113.29" stroke="#d6b8c0" stroke-width="0.45"/>
<line x1="238.44" y1="137.38" x2="237.54" y2="139.22" stroke="#d6b8c0" stroke-width="0.45"/>
<line x1="230.3" y1="134.04" x2="229.44" y2="135.01" stroke="#d6b8c0" stroke-width="0.45"/>
<line x1="262.66" y1="139.56" x2="263.17" y2="141.05" stroke="#d6b8c0" stroke-width="0.45"/>
<line x1="256.8" y1="141.82" x2="256.94" y2="142.86" stroke="#d6b8c0" stroke-width="0.45"/>
<line x1="272.29" y1="133.03" x2="273.04" y2="133.93" stroke="#d6b8c0" stroke-width="0.45"/>
<line x1="237.71" y1="139.52" x2="237.16" y2="140.65" stroke="#d6b8c0" stroke-width="0.45"/>
<line x1="250.03" y1="140.57" x2="249.91" y2="142.26" stroke="#d6b8c0" stroke-width="0.45"/>
<line x1="270.69" y1="83.83" x2="271.62" y2="82.56" stroke="#d6b8c0" stroke-width="0.45"/>
<line x1="284.12" y1="119.75" x2="285.05" y2="120.06" stroke="#d6b8c0" stroke-width="0.45"/>
<line x1="260.01" y1="79.06" x2="260.3" y2="77.92" stroke="#d6b8c0" stroke-width="0.45"/>
<line x1="256.28" y1="75.88" x2="256.58" y2="73.41" stroke="#d6b8c0" stroke-width="0.45"/>
<line x1="245.86" y1="77.3" x2="245.51" y2="75.59" stroke="#d6b8c0" stroke-width="0.45"/>
<line x1="286.12" y1="107.17" x2="288.63" y2="107.02" stroke="#d6b8c0" stroke-width="0.45"/>
<line x1="221.28" y1="100.37" x2="219.59" y2="99.9" stroke="#d6b8c0" stroke-width="0.45"/>
<line x1="271.73" y1="135.26" x2="273.09" y2="137.09" stroke="#d6b8c0" stroke-width="0.45"/>
<line x1="226.47" y1="89.57" x2="224.64" y2="88.19" stroke="#d6b8c0" stroke-width="0.45"/>
<line x1="237.88" y1="81.07" x2="237" y2="79.38" stroke="#d6b8c0" stroke-width="0.45"/>
<line x1="232.95" y1="82.82" x2="232.35" y2="81.99" stroke="#d6b8c0" stroke-width="0.45"/>
<line x1="240.58" y1="79.32" x2="239.77" y2="77.26" stroke="#d6b8c0" stroke-width="0.45"/>
<line x1="277.6" y1="130.01" x2="279.09" y2="131.24" stroke="#d6b8c0" stroke-width="0.45"/>
<line x1="279.48" y1="88.8" x2="280.98" y2="87.68" stroke="#d6b8c0" stroke-width="0.45"/>
<line x1="274.06" y1="131.46" x2="274.93" y2="132.36" stroke="#d6b8c0" stroke-width="0.45"/>
<line x1="281.46" y1="126.33" x2="283.24" y2="127.38" stroke="#d6b8c0" stroke-width="0.45"/>
<line x1="221.17" y1="96.94" x2="220.07" y2="96.51" stroke="#d6b8c0" stroke-width="0.45"/>
<line x1="278.48" y1="126.74" x2="279.24" y2="127.25" stroke="#d6b8c0" stroke-width="0.45"/>
<line x1="248.3" y1="141.31" x2="248.07" y2="143.18" stroke="#d6b8c0" stroke-width="0.45"/>
<line x1="261.94" y1="140.43" x2="262.39" y2="141.91" stroke="#d6b8c0" stroke-width="0.45"/>
<circle cx="267.06" cy="79.61" r="0.45" fill="#eab0bd"/>
<circle cx="252.07" cy="78.13" r="0.45" fill="#eab0bd"/>
<circle cx="241.17" cy="138.64" r="0.45" fill="#eab0bd"/>
<circle cx="258.99" cy="142.53" r="0.45" fill="#eab0bd"/>
<circle cx="286.39" cy="101.66" r="0.45" fill="#eab0bd"/>
<circle cx="266.65" cy="83.87" r="0.45" fill="#eab0bd"/>
<circle cx="232.91" cy="137.78" r="0.45" fill="#eab0bd"/>
<circle cx="255.53" cy="144.85" r="0.45" fill="#eab0bd"/>
<circle cx="279.4" cy="91.71" r="0.45" fill="#eab0bd"/>
<circle cx="279.49" cy="131.99" r="0.45" fill="#eab0bd"/>
<circle cx="259.56" cy="75.18" r="0.45" fill="#eab0bd"/>
<circle cx="222.79" cy="118.27" r="0.45" fill="#eab0bd"/>
<circle cx="222.39" cy="104.8" r="0.45" fill="#eab0bd"/>
<circle cx="271.26" cy="133.14" r="0.45" fill="#eab0bd"/>
<circle cx="224.48" cy="119.46" r="0.45" fill="#eab0bd"/>
<circle cx="227.86" cy="129.21" r="0.45" fill="#eab0bd"/>
<circle cx="225.1" cy="125.07" r="0.45" fill="#eab0bd"/>
<circle cx="226.8" cy="86.51" r="0.45" fill="#eab0bd"/>
<circle cx="263.75" cy="74.92" r="0.45" fill="#eab0bd"/>
<circle cx="239.29" cy="137.15" r="0.45" fill="#eab0bd"/>
<circle cx="285.37" cy="107.08" r="0.45" fill="#eab0bd"/>
<circle cx="248.44" cy="139.84" r="0.45" fill="#eab0bd"/>
<circle cx="282.45" cy="122.24" r="0.45" fill="#eab0bd"/>
<circle cx="280.63" cy="126.34" r="0.45" fill="#eab0bd"/>
<circle cx="281.42" cy="96.07" r="0.45" fill="#eab0bd"/>
<circle cx="281.28" cy="86.98" r="0.45" fill="#eab0bd"/>
<circle cx="281.81" cy="113.21" r="0.45" fill="#eab0bd"/>
<circle cx="279.73" cy="87.78" r="0.45" fill="#eab0bd"/>
<circle cx="264.88" cy="135.9" r="0.45" fill="#eab0bd"/>
<circle cx="280.1" cy="92.47" r="0.45" fill="#eab0bd"/>
<circle cx="235.44" cy="135.12" r="0.45" fill="#eab0bd"/>
<circle cx="222.48" cy="127.62" r="0.45" fill="#eab0bd"/>
<circle cx="219.97" cy="103.97" r="0.45" fill="#eab0bd"/>
<circle cx="285.34" cy="115.91" r="0.45" fill="#eab0bd"/>
<circle cx="229.64" cy="129.53" r="0.45" fill="#eab0bd"/>
<line x1="250.78" y1="80.14" x2="250.6" y2="76.64" stroke="#7a3048" stroke-width="1.3" stroke-linecap="round"/>
<line x1="236.08" y1="133.14" x2="234.13" y2="136.04" stroke="#8a1030" stroke-width="1.3" stroke-linecap="round"/>
<line x1="243.34" y1="136.68" x2="242.26" y2="140.01" stroke="#8a1030" stroke-width="1.3" stroke-linecap="round"/>
<line x1="252.3" y1="138.1" x2="252.3" y2="141.1" stroke="#8a1030" stroke-width="1.3" stroke-linecap="round"/>
<line x1="258.33" y1="137.47" x2="258.95" y2="140.4" stroke="#9a2040" stroke-width="1.3" stroke-linecap="round"/>
<line x1="268.52" y1="133.14" x2="270.47" y2="136.04" stroke="#8a1030" stroke-width="1.3" stroke-linecap="round"/>
<line x1="272.45" y1="129.96" x2="274.88" y2="132.48" stroke="#8a1030" stroke-width="1.3" stroke-linecap="round"/>
<line x1="275.76" y1="126.15" x2="278.19" y2="127.91" stroke="#8a1030" stroke-width="1.3" stroke-linecap="round"/>
<line x1="278.37" y1="121.81" x2="281.06" y2="123.13" stroke="#8a1030" stroke-width="1.3" stroke-linecap="round"/>
<line x1="229.45" y1="126.95" x2="227.48" y2="128.49" stroke="#c07080" stroke-width="1.3" stroke-linecap="round"/>
<line x1="226.02" y1="121.36" x2="223.75" y2="122.41" stroke="#c07080" stroke-width="1.3" stroke-linecap="round"/>
<line x1="280.31" y1="116.61" x2="283.21" y2="117.38" stroke="#a03050" stroke-width="1.3" stroke-linecap="round"/>
<circle cx="252.3" cy="109.1" r="27.3" fill="none" stroke="#777" stroke-width="0.9"/>
<path d="M250.89 82.14Q252.3 109.1 225.63 113.32" fill="none" stroke="#b5123c" stroke-width="1.5" stroke-opacity="0.95"/>
<path d="M240.89 84.63Q252.3 109.1 243.07 134.47" fill="none" stroke="#e08aa0" stroke-width="0.8" stroke-opacity="0.8"/>
<path d="M244.86 83.15Q252.3 109.1 254.18 136.03" fill="none" stroke="#d07890" stroke-width="0.8" stroke-opacity="0.8"/>
<path d="M232.24 91.03Q252.3 109.1 265.8 132.48" fill="none" stroke="#a8d8e0" stroke-width="0.8" stroke-opacity="0.8"/>
<path d="M251.36 82.12Q252.3 109.1 243.96 134.78" fill="none" stroke="#2cb5d0" stroke-width="1" stroke-opacity="0.9"/>
<path d="M251.36 82.12Q252.3 109.1 237.59 131.74" fill="none" stroke="#d04070" stroke-width="0.9" stroke-opacity="0.9"/>
<path d="M251.83 82.1Q252.3 109.1 253.24 136.08" fill="none" stroke="#999" stroke-width="0.8" stroke-opacity="0.8"/>
<path d="M252.3 82.1Q252.3 109.1 260.19 134.92" fill="none" stroke="#d87090" stroke-width="0.8" stroke-opacity="0.8"/>
<path d="M252.3 82.1Q252.3 109.1 271.06 128.52" fill="none" stroke="#2a8a6a" stroke-width="0.8" stroke-opacity="0.9"/>
<path d="M252.77 82.1Q252.3 109.1 267.79 131.22" fill="none" stroke="#3a9a5a" stroke-width="0.7" stroke-opacity="0.8"/>
<path d="M252.77 82.1Q252.3 109.1 277.15 119.65" fill="none" stroke="#7088a8" stroke-width="0.9" stroke-opacity="0.85"/>
<path d="M278.12 101.21Q252.3 109.1 275.2 123.41" fill="none" stroke="#a8c8e0" stroke-width="1" stroke-opacity="0.8"/>
<path d="M251.83 82.1Q252.3 109.1 247.61 135.69" fill="none" stroke="#b0d0e8" stroke-width="0.7" stroke-opacity="0.8"/>
<path d="M295.18 114.36A43.2 43.2 0 0 1 293.02 123.52" fill="none" stroke="#b80f2f" stroke-width="3.3" stroke-linecap="round"/>
<path d="M264.57 150.52A43.2 43.2 0 0 1 256.07 152.14" fill="none" stroke="#b80f2f" stroke-width="3.3" stroke-linecap="round"/>
<rect x="207.45" y="116.14" width="3.2" height="3.2" fill="#4a2418" stroke="#333" stroke-width="0.5"/>
<circle cx="210.65" cy="124.18" r="1.9" fill="#9a7a48" stroke="#333" stroke-width="0.5"/>
<circle cx="229.95" cy="146.3" r="1.5" fill="#8a1c3a" stroke="#333" stroke-width="0.5"/>
<circle cx="241.07" cy="151.02" r="1.5" fill="#3a5f8a" stroke="#333" stroke-width="0.5"/>
<circle cx="254.57" cy="152.44" r="1.5" fill="#1a5a4a" stroke="#333" stroke-width="0.5"/>
<circle cx="279.02" cy="143.3" r="1.5" fill="#222" stroke="#333" stroke-width="0.5"/>
<circle cx="284.55" cy="138.14" r="1.5" fill="#2a6a4a" stroke="#333" stroke-width="0.5"/>
<circle cx="290.26" cy="130.14" r="1.5" fill="#a07840" stroke="#333" stroke-width="0.5"/>
<circle cx="292.82" cy="124.65" r="1.5" fill="#222" stroke="#333" stroke-width="0.5"/>
<line x1="249.84" y1="67.77" x2="249.67" y2="64.78" stroke="#111" stroke-width="1.55"/>
<text x="249.6" y="64.1" font-size="6.9" fill="#222" text-anchor="middle" font-weight="normal" textLength="13.4" lengthAdjust="spacingAndGlyphs" stroke="#222" stroke-width="0.12">MYC</text>
<text x="280.71" y="73.6" font-size="6.6" fill="#333" text-anchor="middle" font-weight="normal" transform="rotate(37 280.71 73.6)" stroke="#333" stroke-width="0.12">PVT1</text>
<text x="207.86" y="93.8" font-size="6.6" fill="#333" text-anchor="middle" font-weight="normal" transform="rotate(-71 207.86 93.8)" dy="2.3" stroke="#333" stroke-width="0.12">CASC8</text>
<text x="204.79" y="119.81" font-size="5.6" fill="#2a2a2a" text-anchor="middle" font-weight="normal" transform="rotate(77.3 204.79 119.81)" dy="1.96" stroke="#2a2a2a" stroke-width="0.12">M</text>
<text x="206.35" y="125.82" font-size="5.6" fill="#2a2a2a" text-anchor="middle" font-weight="normal" transform="rotate(70 206.35 125.82)" dy="1.96" stroke="#2a2a2a" stroke-width="0.12">D</text>
<text x="226.96" y="151.27" font-size="6.9" fill="#2a2a2a" text-anchor="middle" font-weight="normal" transform="rotate(31 226.96 151.27)" dy="2.42" stroke="#2a2a2a" stroke-width="0.12">G3</text>
<text x="239.57" y="156.62" font-size="6.9" fill="#2a2a2a" text-anchor="middle" font-weight="normal" transform="rotate(15 239.57 156.62)" dy="2.42" stroke="#2a2a2a" stroke-width="0.12">G1</text>
<text x="254.02" y="158.27" font-size="6.9" fill="#2a2a2a" text-anchor="middle" font-weight="normal" transform="rotate(-2 254.02 158.27)" dy="2.42" stroke="#2a2a2a" stroke-width="0.12">A1</text>
<text x="286.02" y="144.38" font-size="6.9" fill="#2a2a2a" text-anchor="middle" font-weight="normal" transform="rotate(-43.7 286.02 144.38)" dy="2.42" stroke="#2a2a2a" stroke-width="0.12">G2G4</text>
<text x="296.27" y="129.32" font-size="6.9" fill="#2a2a2a" text-anchor="middle" font-weight="normal" transform="rotate(-65.3 296.27 129.32)" dy="2.42" stroke="#2a2a2a" stroke-width="0.12">EA2</text>
<text x="248.9" y="37.9" font-size="6.8" fill="#333" text-anchor="middle" font-weight="normal" stroke="#333" stroke-width="0.12">8</text>
<text x="255.4" y="185.7" font-size="6.8" fill="#333" text-anchor="middle" font-weight="normal" stroke="#333" stroke-width="0.12">14</text>
<path d="M342.8 108.49A69.6 69.6 0 0 1 481.79 103.64L478.1 103.93A65.9 65.9 0 0 0 346.5 108.52Z" fill="#fff" stroke="none"/>
<path d="M482 109.59A69.6 69.6 0 0 1 343.06 115.17L346.75 114.84A65.9 65.9 0 0 0 478.3 109.56Z" fill="#fff" stroke="none"/>
<path d="M342.8 108.49A69.6 69.6 0 0 1 343.66 98.21L347.31 98.79A65.9 65.9 0 0 0 346.5 108.52Z" fill="#c4c4c4" stroke="none"/>
<path d="M345.17 91.09A69.6 69.6 0 0 1 347.42 84.16L350.88 85.48A65.9 65.9 0 0 0 348.75 92.04Z" fill="#111" stroke="none"/>
<path d="M355.39 69.18A69.6 69.6 0 0 1 359.87 63.44L362.66 65.87A65.9 65.9 0 0 0 358.42 71.3Z" fill="#aaa" stroke="none"/>
<path d="M368.6 55.01A69.6 69.6 0 0 1 374.49 50.73L376.51 53.83A65.9 65.9 0 0 0 370.93 57.89Z" fill="#c23a3a" stroke="none"/>
<path d="M409.97 39.54A69.6 69.6 0 0 1 417.26 39.67L417 43.36A65.9 65.9 0 0 0 410.1 43.24Z" fill="#111" stroke="none"/>
<path d="M421.48 40.1A69.6 69.6 0 0 1 428.65 41.42L427.78 45.02A65.9 65.9 0 0 0 421 43.76Z" fill="#aaa" stroke="none"/>
<path d="M429.24 41.57A69.6 69.6 0 0 1 437.34 44.12L436.02 47.58A65.9 65.9 0 0 0 428.34 45.16Z" fill="#111" stroke="none"/>
<path d="M459.87 58.2A69.6 69.6 0 0 1 465.72 64.36L462.88 66.74A65.9 65.9 0 0 0 457.34 60.9Z" fill="#111" stroke="none"/>
<path d="M472.68 74.3A69.6 69.6 0 0 1 475.98 80.79L472.6 82.3A65.9 65.9 0 0 0 469.47 76.15Z" fill="#ddd" stroke="none"/>
<path d="M481.55 116.98A69.6 69.6 0 0 1 479.78 126.53L476.2 125.6A65.9 65.9 0 0 0 477.88 116.56Z" fill="#3d5a8e" stroke="none"/>
<path d="M481.74 115.17A69.6 69.6 0 0 1 481.55 116.98L477.88 116.56A65.9 65.9 0 0 0 478.05 114.84Z" fill="#9aaccc" stroke="none"/>
<path d="M475.48 138.51A69.6 69.6 0 0 1 472.06 144.95L468.89 143.04A65.9 65.9 0 0 0 472.13 136.95Z" fill="#c23a3a" stroke="none"/>
<path d="M465.72 153.84A69.6 69.6 0 0 1 454.29 164.69L452.06 161.73A65.9 65.9 0 0 0 462.88 151.46Z" fill="#111" stroke="none"/>
<path d="M444 171.11A69.6 69.6 0 0 1 435.06 174.91L433.85 171.41A65.9 65.9 0 0 0 442.32 167.82Z" fill="#111" stroke="none"/>
<path d="M428.06 176.92A69.6 69.6 0 0 1 420.88 178.18L420.43 174.51A65.9 65.9 0 0 0 427.22 173.31Z" fill="#111" stroke="none"/>
<path d="M406.33 178.44A69.6 69.6 0 0 1 399.12 177.42L399.83 173.79A65.9 65.9 0 0 0 406.66 174.75Z" fill="#bbb" stroke="none"/>
<path d="M390.89 175.29A69.6 69.6 0 0 1 387.46 174.08L388.78 170.62A65.9 65.9 0 0 0 392.04 171.77Z" fill="#ddd" stroke="none"/>
<path d="M369.55 163.95A69.6 69.6 0 0 1 364.05 159.17L366.62 156.5A65.9 65.9 0 0 0 371.83 161.03Z" fill="#111" stroke="none"/>
<path d="M360.68 155.67A69.6 69.6 0 0 1 356.09 150.01L359.09 147.84A65.9 65.9 0 0 0 363.43 153.2Z" fill="#111" stroke="none"/>
<path d="M348.33 136.29A69.6 69.6 0 0 1 346.21 130.61L349.73 129.46A65.9 65.9 0 0 0 351.74 134.85Z" fill="#ddd" stroke="none"/>
<path d="M342.8 108.49A69.6 69.6 0 0 1 481.79 103.64L478.1 103.93A65.9 65.9 0 0 0 346.5 108.52Z" fill="none" stroke="#333" stroke-width="0.85"/>
<path d="M482 109.59A69.6 69.6 0 0 1 343.06 115.17L346.75 114.84A65.9 65.9 0 0 0 478.3 109.56Z" fill="none" stroke="#333" stroke-width="0.85"/>
<path d="M349.4 108.55A63 63 0 0 1 475.34 106.35L471.44 106.52A59.1 59.1 0 0 0 353.3 108.58Z" fill="#dedede" stroke="none"/>
<path d="M441.98 53.47A63 63 0 0 1 475.34 106.35L471.44 106.52A59.1 59.1 0 0 0 440.15 56.92Z" fill="#c6c6c6" stroke="none"/>
<path d="M349.4 108.55A63 63 0 0 1 475.34 106.35L471.44 106.52A59.1 59.1 0 0 0 353.3 108.58Z" fill="none" stroke="#404040" stroke-width="0.9"/>
<path d="M475.4 109.54A63 63 0 0 1 349.49 112.4L353.38 112.19A59.1 59.1 0 0 0 471.5 109.51Z" fill="none" stroke="#404040" stroke-width="0.9"/>
<line x1="353.81" y1="116.81" x2="351.72" y2="117.09" stroke="#111" stroke-width="0.9"/>
<text x="362.6" y="82.62" font-size="3" fill="#666" text-anchor="middle" transform="rotate(-62 362.6 82.62)" dy="1" stroke="#666" stroke-width="0.12">127.5Mb</text>
<line x1="365.96" y1="84.41" x2="364.72" y2="83.75" stroke="#666" stroke-width="0.5"/>
<text x="384.2" y="60.26" font-size="3" fill="#666" text-anchor="middle" transform="rotate(-30 384.2 60.26)" dy="1" stroke="#666" stroke-width="0.12">127.6Mb</text>
<line x1="386.1" y1="63.55" x2="385.4" y2="62.33" stroke="#666" stroke-width="0.5"/>
<text x="414.37" y="52.73" font-size="3" fill="#666" text-anchor="middle" transform="rotate(2 414.37 52.73)" dy="1" stroke="#666" stroke-width="0.12">127.7Mb</text>
<line x1="414.24" y1="56.53" x2="414.28" y2="55.13" stroke="#666" stroke-width="0.5"/>
<text x="443.94" y="62.34" font-size="3" fill="#666" text-anchor="middle" transform="rotate(34 443.94 62.34)" dy="1" stroke="#666" stroke-width="0.12">127.8Mb</text>
<line x1="441.81" y1="65.49" x2="442.6" y2="64.33" stroke="#666" stroke-width="0.5"/>
<text x="463.92" y="86.16" font-size="3" fill="#666" text-anchor="middle" transform="rotate(66 463.92 86.16)" dy="1" stroke="#666" stroke-width="0.12">127.9Mb</text>
<line x1="460.45" y1="87.71" x2="461.73" y2="87.14" stroke="#666" stroke-width="0.5"/>
<text x="464.69" y="130.23" font-size="3" fill="#666" text-anchor="middle" transform="rotate(-68 464.69 130.23)" dy="1" stroke="#666" stroke-width="0.12">105.8Mb</text>
<line x1="461.17" y1="128.8" x2="462.47" y2="129.33" stroke="#666" stroke-width="0.5"/>
<text x="414.37" y="165.47" font-size="3" fill="#666" text-anchor="middle" transform="rotate(-2 414.37 165.47)" dy="1" stroke="#666" stroke-width="0.12">105.7Mb</text>
<line x1="414.24" y1="161.67" x2="414.28" y2="163.07" stroke="#666" stroke-width="0.5"/>
<text x="364.57" y="138.99" font-size="3" fill="#666" text-anchor="middle" transform="rotate(58 364.57 138.99)" dy="1" stroke="#666" stroke-width="0.12">105.6Mb</text>
<line x1="367.79" y1="136.97" x2="366.61" y2="137.72" stroke="#666" stroke-width="0.5"/>
<path d="M359.8 108.64A52.6 52.6 0 0 1 464.96 107.08" fill="none" stroke="#808080" stroke-width="1.9"/>
<path d="M464.99 110.2A52.6 52.6 0 0 1 359.83 110.75L373.92 110.31A38.5 38.5 0 0 0 450.89 109.91Z" fill="none" stroke="#808080" stroke-width="1.9"/>
<path d="M373.9 108.76A38.5 38.5 0 0 1 450.87 107.62" fill="none" stroke="#7c7c7c" stroke-width="2.1"/>
<path d="M450.89 109.91A38.5 38.5 0 0 1 373.92 110.31" fill="none" stroke="#7c7c7c" stroke-width="2.1"/>
<line x1="385.1" y1="108.86" x2="359.8" y2="108.64" stroke="#7e7e7e" stroke-width="1.5"/>
<line x1="439.68" y1="108.05" x2="464.96" y2="107.08" stroke="#7e7e7e" stroke-width="1.5"/>
<path d="M455.77 110.61A43.4 43.4 0 0 1 369.04 110.99" fill="none" stroke="#666" stroke-width="0.6"/>
<path d="M419.35 65.25A44.4 44.4 0 0 1 452.96 91.04L450.68 92.06A41.9 41.9 0 0 0 418.95 67.72Z" fill="#dcdcdc" stroke="#777" stroke-width="1.2"/>
<path d="M368.71 107.96A43.7 43.7 0 0 1 377.96 82.2L379.93 83.73A41.2 41.2 0 0 0 371.21 108.02Z" fill="#dcdcdc" stroke="#777" stroke-width="1.2"/>
<path d="M376.11 108.15A36.3 36.3 0 0 1 448.65 107.2L442.86 107.5A30.5 30.5 0 0 0 381.91 108.3Z" fill="#fbf5f6" stroke="none"/>
<path d="M448.68 110.37A36.3 36.3 0 0 1 376.13 110.68L381.93 110.43A30.5 30.5 0 0 0 442.88 110.16Z" fill="#fbf5f6" stroke="none"/>
<polyline points="378.89,108.22 377.96,107.66 379.51,107.35 378.97,106.85 377.45,106.15 379.29,105.65 378.41,104.78 379.69,104.28 381.37,103.94 378.21,102.81 377.83,102 379.2,101.53 381.16,101.23 379.61,100 379.57,99.46 379.52,98.9 379.53,98.06 379.03,97.06 379.5,96.75 380.5,96.28 380.05,95.59 382.08,95.92 382.35,95.16 382.43,94.6 382.61,93.9 381.61,92.96 381.39,91.93 384.79,92.92 383.76,91.89 386.07,92.6 382.7,89.86 384.08,90.11 384.16,89.37 383.82,88.3 385.51,88.84 385.55,87.83 385.99,87.72 385.82,87.11 386.04,86.79 387.03,86.74 389.5,88.05 388.24,85.81 388.56,85.24 388.83,84.79 389.17,84.44 389.1,83.82 390.08,84.15 390.49,83.91 391.14,83.64 390.33,81.85 392.01,82.73 391.42,80.84 392.97,82.17 392.3,80.45 393.45,81.33 393.24,79.82 394.32,80.71 394.65,80.34 395.04,79.91 395.93,80.6 395.36,78 397.09,79.51 397.18,78 398.26,79.12 398.62,78.41 398.32,76.79 399.08,76.48 400.52,78.38 400.66,77.53 401.12,77.05 401.79,77.02 402.41,76.45 403.12,77 403.84,76.87 404.21,75.08 404.67,75.44 405.25,76.26 405.76,75.76 406.79,77.44 407.03,76.46 407.75,76.3 408.17,75.65 408.75,74.87 409.41,77.1 410,76.16 410.43,74.68 410.96,74.15 411.56,75.24 412.25,75.11 412.82,75.57 413.48,76.03 414.12,73.96 414.68,73.94 414.92,77.22 415.86,74.06 416.51,74.54 416.77,75.74 417.28,77.15 417.81,78.39 418.91,74.61 419.73,74.49 419.93,76.98 420.44,77.34 421.26,77.25 422.17,76.33 422.72,76.18 423.04,76.96 423.08,78.42 424.34,77.29 425,76.77 425.47,77.45 426.2,77.44 427.17,77.06 427.03,78.7 427.74,78.29 428.29,78.25 428.75,78.46 429.28,79.1 428.95,80.6 429.6,80.53 429.54,81.57 431.11,80.17 432.07,80.11 432.42,80.67 432.89,80.96 431.41,83.91 434.28,81.28 433.4,83.14 434.6,82.39 434.44,83.79 435.1,83.79 434.82,84.69 435.64,84.52 435.49,85.64 435.57,86.32 437.14,85.9 437.2,86.41 438.66,85.65 439.04,85.87 439.16,86.75 439.39,87.45 439.9,87.68 438.68,89.46 440.56,88.72 439.79,90.03 440.15,90.57 440.38,91.2 441.06,91.26 441.89,91.5 441.09,92.63 442.98,92.37 442.41,93.48 442.5,94.04 443.82,93.92 443.19,94.8 443.36,95.51 442.66,96.25 443.89,96.51 444.95,96.7 443.61,97.95 444.82,98 444.28,98.65 445.77,98.57 444.96,99.67 445.76,100.11 445.09,100.99 445.99,101.37 446.5,101.63 445.99,102.35 444.62,103.07 445.99,103.49 445.2,104.42 445.18,105.06 445.31,105.5 446.02,106.22 445.58,106.93" fill="none" stroke="#c4a4b0" stroke-width="0.55" stroke-opacity="0.9"/>
<polyline points="447.69,110.33 446.14,110.98 447.43,111.88 445.81,112.46 444.13,112.66 446.4,113.61 445.71,114.19 443.57,114.53 445.62,115.6 445.59,116.21 445.08,116.56 443.63,116.66 443.53,117.06 442.93,117.47 444.48,118.46 443.9,118.84 443.93,119.32 445.1,120.16 443.56,120.07 445.2,121.17 442.77,121.1 444.24,122.49 444.2,122.92 441.71,122.49 440.6,122.42 442.28,124.07 443.41,125.31 441.27,125.07 442.07,126.25 440.76,126.35 441.74,127.56 441.63,128.02 440.81,128.39 438.52,127.44 437.99,127.74 440.1,130.08 438.59,129.66 439,130.45 436.16,128.96 438.95,132.19 438.59,132.66 436.28,131.24 436.18,132.23 435.86,132.47 434.22,131.45 433.3,131.31 435.6,134.45 435.13,135.02 433.54,134.09 431.74,133.02 433.3,135.66 433.7,136.94 433.05,137.21 432.38,137.18 432.39,137.92 430.85,136.98 430.46,137.43 429.7,137.3 429.58,138.44 428.75,138.29 428.18,138.96 426.62,136.77 427.83,140.71 427.29,141.13 426.78,141.41 425.54,140.63 425.53,142.08 424.74,141.46 423.74,140.8 422.92,140.38 422.78,141.5 422.33,142.5 421.62,141.49 421.14,141.23 421.01,143.48 419.63,141.04 419.4,142.64 419.04,143.58 418.47,143.78 417.7,142.21 417.31,141.98 416.61,141.25 416.11,143.01 415.42,143.54 415.01,143.02 414.58,142.22 414.21,144.04 413.64,142.09 413.04,143.75 412.29,140.63 411.55,143.31 410.98,142.16 410.2,144.26 409.65,143.62 408.91,143.39 408.66,140.35 407.5,143.07 407.01,142.75 406.42,142.84 405.87,142.44 404.85,143.61 404.69,142.62 404.29,141.74 403.66,141.09 402.86,141.98 402.68,139.83 401.76,141.28 401.38,140.85 400.59,140.69 400.31,140.07 399.97,138.81 398.81,140.56 398,140.49 398.05,139.52 397.72,139.32 397.41,138.89 396.74,138.46 395.29,140.18 396.8,136.18 395.36,137.82 394.91,137.11 394.63,136.45 393.85,136.2 392.95,136.77 392.88,136.2 391.72,136.39 391.12,135.83 391.49,134.58 389.68,135.63 389.65,134.77 389.82,133.68 389.73,132.64 388.75,132.59 388.65,132.07 387.12,132.78 386.35,132.42 386.41,131.43 386.12,131.15 385.73,130.92 385.81,130.08 385.02,130.03 383.99,129.78 383.45,129.54 384.22,128.48 383.61,128.26 383.59,127.29 382.33,127.35 382.98,126.24 382.82,125.88 383.31,124.79 380.94,125.44 381.72,124.51 380.73,124.36 381.83,123.25 381.44,122.83 381.49,121.97 380.97,121.62 382.44,120.52 380.08,120.56 379.09,120.09 381.45,118.74 379.65,118.74 380.23,118.07 381.5,117.09 379.38,117.27 379.04,116.79 378.53,116.22 377.63,115.98 378.93,115.32 381.19,114.12 377.53,114.12 378.69,113.44 379.16,112.61 380.34,112.11 379.07,111.63 377.33,111.16 376.98,110.67" fill="none" stroke="#c4a4b0" stroke-width="0.55" stroke-opacity="0.9"/>
<line x1="403.63" y1="78.43" x2="402.97" y2="76.11" stroke="#d4c4ca" stroke-width="0.45"/>
<line x1="391.15" y1="84.38" x2="389.9" y2="82.93" stroke="#d4c4ca" stroke-width="0.45"/>
<line x1="433.06" y1="82.97" x2="434.57" y2="81.06" stroke="#d4c4ca" stroke-width="0.45"/>
<line x1="392.28" y1="135.53" x2="391.57" y2="136.45" stroke="#d4c4ca" stroke-width="0.45"/>
<line x1="382.74" y1="96.32" x2="381.49" y2="95.78" stroke="#d4c4ca" stroke-width="0.45"/>
<line x1="401.47" y1="77.31" x2="401.09" y2="76.19" stroke="#d4c4ca" stroke-width="0.45"/>
<line x1="398.16" y1="139.77" x2="397.73" y2="140.69" stroke="#d4c4ca" stroke-width="0.45"/>
<line x1="385.33" y1="126.52" x2="384.34" y2="127.16" stroke="#d4c4ca" stroke-width="0.45"/>
<line x1="400.94" y1="80.18" x2="400.31" y2="78.6" stroke="#d4c4ca" stroke-width="0.45"/>
<line x1="437.65" y1="87.01" x2="439.39" y2="85.49" stroke="#d4c4ca" stroke-width="0.45"/>
<line x1="382.6" y1="96.89" x2="381.21" y2="96.32" stroke="#d4c4ca" stroke-width="0.45"/>
<line x1="399.1" y1="80.27" x2="398.57" y2="79.11" stroke="#d4c4ca" stroke-width="0.45"/>
<line x1="423.82" y1="139.02" x2="424.18" y2="139.95" stroke="#d4c4ca" stroke-width="0.45"/>
<line x1="407.05" y1="77.22" x2="406.75" y2="75.43" stroke="#d4c4ca" stroke-width="0.45"/>
<line x1="412.05" y1="76" x2="412.04" y2="74.82" stroke="#d4c4ca" stroke-width="0.45"/>
<line x1="428.41" y1="137.76" x2="428.96" y2="138.73" stroke="#d4c4ca" stroke-width="0.45"/>
<line x1="412.75" y1="141.28" x2="412.77" y2="143.05" stroke="#d4c4ca" stroke-width="0.45"/>
<line x1="439.4" y1="127.87" x2="440.71" y2="128.78" stroke="#d4c4ca" stroke-width="0.45"/>
<line x1="381.45" y1="96.64" x2="379.28" y2="95.76" stroke="#d4c4ca" stroke-width="0.45"/>
<line x1="445.08" y1="107.1" x2="446.36" y2="107.02" stroke="#d4c4ca" stroke-width="0.45"/>
<line x1="386.38" y1="129.48" x2="385.43" y2="130.22" stroke="#d4c4ca" stroke-width="0.45"/>
<line x1="399.12" y1="140.36" x2="398.57" y2="141.66" stroke="#d4c4ca" stroke-width="0.45"/>
<line x1="380.01" y1="111.13" x2="378.89" y2="111.2" stroke="#d4c4ca" stroke-width="0.45"/>
<line x1="419.49" y1="140.32" x2="419.96" y2="142.39" stroke="#d4c4ca" stroke-width="0.45"/>
<line x1="439.61" y1="124.62" x2="441.13" y2="125.49" stroke="#d4c4ca" stroke-width="0.45"/>
<line x1="393.84" y1="135.7" x2="392.83" y2="137.15" stroke="#d4c4ca" stroke-width="0.45"/>
<line x1="391.93" y1="134.13" x2="390.86" y2="135.44" stroke="#d4c4ca" stroke-width="0.45"/>
<line x1="441.54" y1="125.57" x2="442.55" y2="126.15" stroke="#d4c4ca" stroke-width="0.45"/>
<line x1="385.24" y1="89.86" x2="383.77" y2="88.83" stroke="#d4c4ca" stroke-width="0.45"/>
<line x1="423.8" y1="77.41" x2="424.6" y2="75.16" stroke="#d4c4ca" stroke-width="0.45"/>
<line x1="445.24" y1="117.76" x2="447.47" y2="118.34" stroke="#d4c4ca" stroke-width="0.45"/>
<line x1="413.34" y1="140.96" x2="413.37" y2="141.78" stroke="#d4c4ca" stroke-width="0.45"/>
<line x1="427.18" y1="138.84" x2="427.81" y2="140.12" stroke="#d4c4ca" stroke-width="0.45"/>
<line x1="444.82" y1="104.8" x2="446.06" y2="104.63" stroke="#d4c4ca" stroke-width="0.45"/>
<line x1="423.39" y1="139.88" x2="423.89" y2="141.29" stroke="#d4c4ca" stroke-width="0.45"/>
<line x1="387.76" y1="87.66" x2="386.72" y2="86.76" stroke="#d4c4ca" stroke-width="0.45"/>
<line x1="417.84" y1="140.14" x2="418.1" y2="141.63" stroke="#d4c4ca" stroke-width="0.45"/>
<line x1="402.36" y1="78.48" x2="401.79" y2="76.73" stroke="#d4c4ca" stroke-width="0.45"/>
<line x1="388.55" y1="89.04" x2="387.27" y2="87.97" stroke="#d4c4ca" stroke-width="0.45"/>
<line x1="403.3" y1="77.88" x2="402.99" y2="76.83" stroke="#d4c4ca" stroke-width="0.45"/>
<line x1="386.66" y1="89.07" x2="384.72" y2="87.56" stroke="#d4c4ca" stroke-width="0.45"/>
<line x1="390.96" y1="133.59" x2="389.96" y2="134.73" stroke="#d4c4ca" stroke-width="0.45"/>
<line x1="383.68" y1="95.39" x2="382.44" y2="94.8" stroke="#d4c4ca" stroke-width="0.45"/>
<line x1="383.5" y1="121.26" x2="381.19" y2="122.23" stroke="#d4c4ca" stroke-width="0.45"/>
<line x1="444.37" y1="104.45" x2="445.62" y2="104.26" stroke="#d4c4ca" stroke-width="0.45"/>
<line x1="381.97" y1="117.45" x2="380.2" y2="117.93" stroke="#d4c4ca" stroke-width="0.45"/>
<line x1="443.93" y1="111.21" x2="445.13" y2="111.29" stroke="#d4c4ca" stroke-width="0.45"/>
<line x1="379.29" y1="113.28" x2="377.19" y2="113.54" stroke="#d4c4ca" stroke-width="0.45"/>
<line x1="387.27" y1="127.75" x2="385.61" y2="128.98" stroke="#d4c4ca" stroke-width="0.45"/>
<line x1="412.85" y1="140.77" x2="412.87" y2="142.4" stroke="#d4c4ca" stroke-width="0.45"/>
<line x1="381.02" y1="115.26" x2="378.89" y2="115.68" stroke="#d4c4ca" stroke-width="0.45"/>
<line x1="396.32" y1="80.28" x2="395.69" y2="79.16" stroke="#d4c4ca" stroke-width="0.45"/>
<line x1="444.47" y1="110.86" x2="446.83" y2="110.98" stroke="#d4c4ca" stroke-width="0.45"/>
<line x1="414.01" y1="141.57" x2="414.11" y2="143.61" stroke="#d4c4ca" stroke-width="0.45"/>
<line x1="442.49" y1="94.58" x2="443.63" y2="94.03" stroke="#d4c4ca" stroke-width="0.45"/>
<line x1="443.93" y1="117.97" x2="445.37" y2="118.38" stroke="#d4c4ca" stroke-width="0.45"/>
<line x1="382.53" y1="99.06" x2="380.68" y2="98.43" stroke="#d4c4ca" stroke-width="0.45"/>
<line x1="405.05" y1="76.65" x2="404.67" y2="74.98" stroke="#d4c4ca" stroke-width="0.45"/>
<line x1="380.62" y1="119.85" x2="378.63" y2="120.52" stroke="#d4c4ca" stroke-width="0.45"/>
<line x1="434.26" y1="86.94" x2="435.53" y2="85.66" stroke="#d4c4ca" stroke-width="0.45"/>
<line x1="413.9" y1="142.83" x2="413.95" y2="143.99" stroke="#d4c4ca" stroke-width="0.45"/>
<line x1="394.62" y1="80.19" x2="393.5" y2="78.37" stroke="#d4c4ca" stroke-width="0.45"/>
<line x1="445.46" y1="105.93" x2="446.53" y2="105.83" stroke="#d4c4ca" stroke-width="0.45"/>
<line x1="444.18" y1="118.02" x2="445.99" y2="118.53" stroke="#d4c4ca" stroke-width="0.45"/>
<line x1="396.4" y1="82.07" x2="395.42" y2="80.41" stroke="#d4c4ca" stroke-width="0.45"/>
<line x1="389.49" y1="130.59" x2="388.9" y2="131.15" stroke="#d4c4ca" stroke-width="0.45"/>
<line x1="383.95" y1="91.68" x2="382.67" y2="90.9" stroke="#d4c4ca" stroke-width="0.45"/>
<line x1="445.11" y1="99.88" x2="446.94" y2="99.37" stroke="#d4c4ca" stroke-width="0.45"/>
<line x1="415.71" y1="76.16" x2="415.79" y2="75.36" stroke="#d4c4ca" stroke-width="0.45"/>
<line x1="419.41" y1="76.75" x2="419.64" y2="75.67" stroke="#d4c4ca" stroke-width="0.45"/>
<line x1="380.76" y1="101.43" x2="379.41" y2="101.1" stroke="#d4c4ca" stroke-width="0.45"/>
<line x1="381.81" y1="115.74" x2="379.62" y2="116.22" stroke="#d4c4ca" stroke-width="0.45"/>
<line x1="438.11" y1="87.75" x2="439.34" y2="86.73" stroke="#d4c4ca" stroke-width="0.45"/>
<line x1="428.58" y1="136.68" x2="429.19" y2="137.72" stroke="#d4c4ca" stroke-width="0.45"/>
<line x1="444.35" y1="99.37" x2="445.71" y2="98.96" stroke="#d4c4ca" stroke-width="0.45"/>
<line x1="408.94" y1="77.04" x2="408.84" y2="76.07" stroke="#d4c4ca" stroke-width="0.45"/>
<line x1="425.92" y1="79.3" x2="426.65" y2="77.68" stroke="#d4c4ca" stroke-width="0.45"/>
<line x1="438.6" y1="127.24" x2="439.3" y2="127.72" stroke="#d4c4ca" stroke-width="0.45"/>
<line x1="381.02" y1="102.75" x2="379.89" y2="102.52" stroke="#d4c4ca" stroke-width="0.45"/>
<line x1="441.32" y1="122.31" x2="443.3" y2="123.21" stroke="#d4c4ca" stroke-width="0.45"/>
<line x1="439.06" y1="128.53" x2="440.77" y2="129.78" stroke="#d4c4ca" stroke-width="0.45"/>
<line x1="444.39" y1="113.42" x2="445.73" y2="113.6" stroke="#d4c4ca" stroke-width="0.45"/>
<line x1="382" y1="95.31" x2="380.45" y2="94.61" stroke="#d4c4ca" stroke-width="0.45"/>
<line x1="385.6" y1="88.54" x2="384.14" y2="87.41" stroke="#d4c4ca" stroke-width="0.45"/>
<line x1="435.65" y1="131.54" x2="436.39" y2="132.26" stroke="#d4c4ca" stroke-width="0.45"/>
<line x1="380.92" y1="110.29" x2="379.46" y2="110.35" stroke="#d4c4ca" stroke-width="0.45"/>
<line x1="381.06" y1="110.32" x2="379.36" y2="110.39" stroke="#d4c4ca" stroke-width="0.45"/>
<line x1="443.89" y1="105.1" x2="446.33" y2="104.79" stroke="#d4c4ca" stroke-width="0.45"/>
<line x1="439.13" y1="93.33" x2="440.55" y2="92.49" stroke="#d4c4ca" stroke-width="0.45"/>
<line x1="379.34" y1="106.98" x2="376.98" y2="106.82" stroke="#d4c4ca" stroke-width="0.45"/>
<line x1="387.07" y1="127.22" x2="385.43" y2="128.39" stroke="#d4c4ca" stroke-width="0.45"/>
<line x1="423.74" y1="78.73" x2="424.21" y2="77.48" stroke="#d4c4ca" stroke-width="0.45"/>
<line x1="423.44" y1="79.71" x2="424.12" y2="77.9" stroke="#d4c4ca" stroke-width="0.45"/>
<line x1="384.15" y1="90.38" x2="383.41" y2="89.89" stroke="#d4c4ca" stroke-width="0.45"/>
<line x1="381.87" y1="117.16" x2="380.95" y2="117.4" stroke="#d4c4ca" stroke-width="0.45"/>
<line x1="414.02" y1="141.65" x2="414.13" y2="143.83" stroke="#d4c4ca" stroke-width="0.45"/>
<line x1="445.25" y1="110.83" x2="446.19" y2="110.88" stroke="#d4c4ca" stroke-width="0.45"/>
<line x1="427.73" y1="137.8" x2="428.92" y2="140.03" stroke="#d4c4ca" stroke-width="0.45"/>
<line x1="381.28" y1="106.81" x2="379.27" y2="106.66" stroke="#d4c4ca" stroke-width="0.45"/>
<line x1="383.99" y1="124.39" x2="382.16" y2="125.38" stroke="#d4c4ca" stroke-width="0.45"/>
<circle cx="442.1" cy="120.83" r="0.45" fill="#eab0bd"/>
<circle cx="445.14" cy="101.95" r="0.45" fill="#eab0bd"/>
<circle cx="381.82" cy="102.44" r="0.45" fill="#eab0bd"/>
<circle cx="415.23" cy="139.91" r="0.45" fill="#eab0bd"/>
<circle cx="442.9" cy="103.96" r="0.45" fill="#eab0bd"/>
<circle cx="433.86" cy="82.89" r="0.45" fill="#eab0bd"/>
<circle cx="414.45" cy="145.22" r="0.45" fill="#eab0bd"/>
<circle cx="442.6" cy="104.72" r="0.45" fill="#eab0bd"/>
<circle cx="427.98" cy="84.12" r="0.45" fill="#eab0bd"/>
<circle cx="410.82" cy="75.75" r="0.45" fill="#eab0bd"/>
<circle cx="436.16" cy="128.72" r="0.45" fill="#eab0bd"/>
<circle cx="400.61" cy="81.8" r="0.45" fill="#eab0bd"/>
<circle cx="398.86" cy="79.27" r="0.45" fill="#eab0bd"/>
<circle cx="414.17" cy="73.52" r="0.45" fill="#eab0bd"/>
<circle cx="441.42" cy="121.47" r="0.45" fill="#eab0bd"/>
<circle cx="439.05" cy="96.93" r="0.45" fill="#eab0bd"/>
<circle cx="416.68" cy="143.47" r="0.45" fill="#eab0bd"/>
<circle cx="435.2" cy="83.29" r="0.45" fill="#eab0bd"/>
<circle cx="417.2" cy="78.83" r="0.45" fill="#eab0bd"/>
<circle cx="408.82" cy="78.84" r="0.45" fill="#eab0bd"/>
<circle cx="439.16" cy="129.77" r="0.45" fill="#eab0bd"/>
<circle cx="417.02" cy="138.52" r="0.45" fill="#eab0bd"/>
<circle cx="409.68" cy="141.57" r="0.45" fill="#eab0bd"/>
<circle cx="436.27" cy="86.64" r="0.45" fill="#eab0bd"/>
<circle cx="440.28" cy="96.73" r="0.45" fill="#eab0bd"/>
<circle cx="439.3" cy="88.56" r="0.45" fill="#eab0bd"/>
<circle cx="420.7" cy="143.99" r="0.45" fill="#eab0bd"/>
<circle cx="400.9" cy="75.32" r="0.45" fill="#eab0bd"/>
<circle cx="402.4" cy="141.96" r="0.45" fill="#eab0bd"/>
<circle cx="382.76" cy="113.95" r="0.45" fill="#eab0bd"/>
<circle cx="407.14" cy="144.46" r="0.45" fill="#eab0bd"/>
<circle cx="388.92" cy="85.26" r="0.45" fill="#eab0bd"/>
<circle cx="383.25" cy="120.21" r="0.45" fill="#eab0bd"/>
<circle cx="391.12" cy="137.88" r="0.45" fill="#eab0bd"/>
<circle cx="440.08" cy="97.29" r="0.45" fill="#eab0bd"/>
<line x1="411.39" y1="80.12" x2="411.27" y2="76.62" stroke="#7a3048" stroke-width="1.3" stroke-linecap="round"/>
<line x1="397.03" y1="133.69" x2="395.44" y2="136.24" stroke="#8a1030" stroke-width="1.3" stroke-linecap="round"/>
<line x1="400.6" y1="135.59" x2="399.59" y2="137.88" stroke="#a02040" stroke-width="1.3" stroke-linecap="round"/>
<line x1="403.92" y1="136.83" x2="403.04" y2="139.7" stroke="#8a1030" stroke-width="1.3" stroke-linecap="round"/>
<line x1="409.37" y1="137.94" x2="409.11" y2="140.43" stroke="#a02040" stroke-width="1.3" stroke-linecap="round"/>
<line x1="413.41" y1="138.08" x2="413.52" y2="141.08" stroke="#8a1030" stroke-width="1.3" stroke-linecap="round"/>
<line x1="416.44" y1="137.82" x2="416.85" y2="140.79" stroke="#8a1030" stroke-width="1.3" stroke-linecap="round"/>
<line x1="419.42" y1="137.24" x2="420.02" y2="139.66" stroke="#a02040" stroke-width="1.3" stroke-linecap="round"/>
<line x1="423.26" y1="135.99" x2="424.39" y2="138.77" stroke="#8a1030" stroke-width="1.3" stroke-linecap="round"/>
<line x1="426.9" y1="134.21" x2="428.65" y2="137.25" stroke="#8a1030" stroke-width="1.3" stroke-linecap="round"/>
<line x1="431.04" y1="131.32" x2="433.29" y2="134" stroke="#8a1030" stroke-width="1.3" stroke-linecap="round"/>
<line x1="435.25" y1="126.95" x2="437.62" y2="128.8" stroke="#8a1030" stroke-width="1.3" stroke-linecap="round"/>
<line x1="438.01" y1="122.71" x2="440.65" y2="124.12" stroke="#8a1030" stroke-width="1.3" stroke-linecap="round"/>
<line x1="439.98" y1="118.06" x2="442.83" y2="118.99" stroke="#a02040" stroke-width="1.3" stroke-linecap="round"/>
<line x1="388.64" y1="125.73" x2="386.6" y2="127.17" stroke="#c07080" stroke-width="1.3" stroke-linecap="round"/>
<circle cx="412.4" cy="109.1" r="27.3" fill="none" stroke="#777" stroke-width="0.9"/>
<path d="M406.79 82.69Q412.4 109.1 398.49 132.24" fill="none" stroke="#d0407a" stroke-width="1" stroke-opacity="0.9"/>
<path d="M409.11 82.3Q412.4 109.1 392.98 127.86" fill="none" stroke="#e090b0" stroke-width="0.8" stroke-opacity="0.8"/>
<path d="M408.18 82.43Q412.4 109.1 425.9 132.48" fill="none" stroke="#d86090" stroke-width="0.8" stroke-opacity="0.8"/>
<path d="M397.69 86.46Q412.4 109.1 432.46 127.17" fill="none" stroke="#c8a090" stroke-width="0.8" stroke-opacity="0.85"/>
<path d="M410.99 82.14Q412.4 109.1 385.73 113.32" fill="none" stroke="#d87a80" stroke-width="1" stroke-opacity="0.85"/>
<path d="M385.66 112.86Q412.4 109.1 439.25 106.28" fill="none" stroke="#c89098" stroke-width="0.9" stroke-opacity="0.85"/>
<path d="M411.46 82.12Q412.4 109.1 405.41 135.18" fill="none" stroke="#40b8d0" stroke-width="1" stroke-opacity="0.9"/>
<path d="M412.4 82.1Q412.4 109.1 412.4 136.1" fill="none" stroke="#aaa" stroke-width="0.8" stroke-opacity="0.8"/>
<path d="M411.93 82.1Q412.4 109.1 436.46 121.36" fill="none" stroke="#f5a800" stroke-width="1.3" stroke-opacity="0.95"/>
<path d="M413.34 82.12Q412.4 109.1 435.54 123.01" fill="none" stroke="#f0b030" stroke-width="1" stroke-opacity="0.9"/>
<path d="M412.4 82.1Q412.4 109.1 428.65 130.66" fill="none" stroke="#4a1a5a" stroke-width="1.1" stroke-opacity="0.9"/>
<path d="M412.87 82.1Q412.4 109.1 437.25 119.65" fill="none" stroke="#1c3f70" stroke-width="1" stroke-opacity="0.9"/>
<path d="M412.4 82.1Q412.4 109.1 433.08 126.46" fill="none" stroke="#3aaa3a" stroke-width="0.8" stroke-opacity="0.9"/>
<path d="M435.54 95.19Q412.4 109.1 400.99 133.57" fill="none" stroke="#a8c8e8" stroke-width="0.8" stroke-opacity="0.8"/>
<path d="M455.28 114.36A43.2 43.2 0 0 1 453.12 123.52" fill="none" stroke="#b80f2f" stroke-width="3.3" stroke-linecap="round"/>
<path d="M424.67 150.52A43.2 43.2 0 0 1 416.17 152.14" fill="none" stroke="#b80f2f" stroke-width="3.3" stroke-linecap="round"/>
<rect x="367.55" y="116.14" width="3.2" height="3.2" fill="#4a2418" stroke="#333" stroke-width="0.5"/>
<circle cx="370.75" cy="124.18" r="1.9" fill="#9a7a48" stroke="#333" stroke-width="0.5"/>
<circle cx="390.05" cy="146.3" r="1.5" fill="#8a1c3a" stroke="#333" stroke-width="0.5"/>
<circle cx="401.17" cy="151.02" r="1.5" fill="#3a5f8a" stroke="#333" stroke-width="0.5"/>
<circle cx="414.67" cy="152.44" r="1.5" fill="#1a5a4a" stroke="#333" stroke-width="0.5"/>
<circle cx="439.12" cy="143.3" r="1.5" fill="#222" stroke="#333" stroke-width="0.5"/>
<circle cx="444.65" cy="138.14" r="1.5" fill="#2a6a4a" stroke="#333" stroke-width="0.5"/>
<circle cx="450.36" cy="130.14" r="1.5" fill="#a07840" stroke="#333" stroke-width="0.5"/>
<circle cx="452.92" cy="124.65" r="1.5" fill="#222" stroke="#333" stroke-width="0.5"/>
<line x1="409.94" y1="67.77" x2="409.77" y2="64.78" stroke="#111" stroke-width="1.55"/>
<text x="409.7" y="64.1" font-size="6.9" fill="#222" text-anchor="middle" font-weight="normal" textLength="13.4" lengthAdjust="spacingAndGlyphs" stroke="#222" stroke-width="0.12">MYC</text>
<text x="440.81" y="73.6" font-size="6.6" fill="#333" text-anchor="middle" font-weight="normal" transform="rotate(37 440.81 73.6)" stroke="#333" stroke-width="0.12">PVT1</text>
<text x="367.96" y="93.8" font-size="6.6" fill="#333" text-anchor="middle" font-weight="normal" transform="rotate(-71 367.96 93.8)" dy="2.3" stroke="#333" stroke-width="0.12">CASC8</text>
<text x="364.89" y="119.81" font-size="5.6" fill="#2a2a2a" text-anchor="middle" font-weight="normal" transform="rotate(77.3 364.89 119.81)" dy="1.96" stroke="#2a2a2a" stroke-width="0.12">M</text>
<text x="366.45" y="125.82" font-size="5.6" fill="#2a2a2a" text-anchor="middle" font-weight="normal" transform="rotate(70 366.45 125.82)" dy="1.96" stroke="#2a2a2a" stroke-width="0.12">D</text>
<text x="387.06" y="151.27" font-size="6.9" fill="#2a2a2a" text-anchor="middle" font-weight="normal" transform="rotate(31 387.06 151.27)" dy="2.42" stroke="#2a2a2a" stroke-width="0.12">G3</text>
<text x="399.67" y="156.62" font-size="6.9" fill="#2a2a2a" text-anchor="middle" font-weight="normal" transform="rotate(15 399.67 156.62)" dy="2.42" stroke="#2a2a2a" stroke-width="0.12">G1</text>
<text x="414.12" y="158.27" font-size="6.9" fill="#2a2a2a" text-anchor="middle" font-weight="normal" transform="rotate(-2 414.12 158.27)" dy="2.42" stroke="#2a2a2a" stroke-width="0.12">A1</text>
<text x="446.12" y="144.38" font-size="6.9" fill="#2a2a2a" text-anchor="middle" font-weight="normal" transform="rotate(-43.7 446.12 144.38)" dy="2.42" stroke="#2a2a2a" stroke-width="0.12">G2G4</text>
<text x="456.37" y="129.32" font-size="6.9" fill="#2a2a2a" text-anchor="middle" font-weight="normal" transform="rotate(-65.3 456.37 129.32)" dy="2.42" stroke="#2a2a2a" stroke-width="0.12">EA2</text>
<text x="409" y="37.9" font-size="6.8" fill="#333" text-anchor="middle" font-weight="normal" stroke="#333" stroke-width="0.12">8</text>
<text x="415.5" y="185.7" font-size="6.8" fill="#333" text-anchor="middle" font-weight="normal" stroke="#333" stroke-width="0.12">14</text>
<rect x="48.45" y="229.16" width="7.7" height="45.44" fill="#c8c4ce"/>
<rect x="57.78" y="216.1" width="7.7" height="58.5" fill="#c8102e"/>
<rect x="85.77" y="268.92" width="7.7" height="5.68" fill="#e2137b"/>
<rect x="95.1" y="253.44" width="7.7" height="21.16" fill="#2aa8e0"/>
<rect x="104.43" y="266.93" width="7.7" height="7.67" fill="#17694c"/>
<rect x="151.08" y="271.19" width="7.7" height="3.41" fill="#1c4778"/>
<line x1="46.9" y1="191.8" x2="46.9" y2="278.2" stroke="#222" stroke-width="1"/>
<line x1="46.4" y1="277.7" x2="160.6" y2="277.7" stroke="#222" stroke-width="1"/>
<line x1="44.4" y1="274.6" x2="46.9" y2="274.6" stroke="#333" stroke-width="0.8"/>
<text x="41.9" y="276.9" font-size="6.6" fill="#444" text-anchor="end" font-weight="normal" stroke="#444" stroke-width="0.12">0</text>
<line x1="44.4" y1="246.2" x2="46.9" y2="246.2" stroke="#333" stroke-width="0.8"/>
<text x="41.9" y="248.5" font-size="6.6" fill="#444" text-anchor="end" font-weight="normal" stroke="#444" stroke-width="0.12">20</text>
<line x1="44.4" y1="217.8" x2="46.9" y2="217.8" stroke="#333" stroke-width="0.8"/>
<text x="41.9" y="220.1" font-size="6.6" fill="#444" text-anchor="end" font-weight="normal" stroke="#444" stroke-width="0.12">40</text>
<line x1="52.3" y1="277.7" x2="52.3" y2="280.3" stroke="#333" stroke-width="0.8"/>
<text x="55.5" y="288.2" font-size="6.5" fill="#3a3a3a" text-anchor="end" font-weight="normal" transform="rotate(-45 55.5 288.2)" stroke="#3a3a3a" stroke-width="0.12">V</text>
<line x1="61.63" y1="277.7" x2="61.63" y2="280.3" stroke="#333" stroke-width="0.8"/>
<text x="64.83" y="288.2" font-size="6.5" fill="#3a3a3a" text-anchor="end" font-weight="normal" transform="rotate(-45 64.83 288.2)" stroke="#3a3a3a" stroke-width="0.12">Eμ</text>
<line x1="70.96" y1="277.7" x2="70.96" y2="280.3" stroke="#333" stroke-width="0.8"/>
<text x="74.16" y="288.2" font-size="6.5" fill="#3a3a3a" text-anchor="end" font-weight="normal" transform="rotate(-45 74.16 288.2)" stroke="#3a3a3a" stroke-width="0.12">M</text>
<line x1="80.29" y1="277.7" x2="80.29" y2="280.3" stroke="#333" stroke-width="0.8"/>
<text x="83.49" y="288.2" font-size="6.5" fill="#3a3a3a" text-anchor="end" font-weight="normal" transform="rotate(-45 83.49 288.2)" stroke="#3a3a3a" stroke-width="0.12">D</text>
<line x1="89.62" y1="277.7" x2="89.62" y2="280.3" stroke="#333" stroke-width="0.8"/>
<text x="92.82" y="288.2" font-size="6.5" fill="#3a3a3a" text-anchor="end" font-weight="normal" transform="rotate(-45 92.82 288.2)" stroke="#3a3a3a" stroke-width="0.12">G3</text>
<line x1="98.95" y1="277.7" x2="98.95" y2="280.3" stroke="#333" stroke-width="0.8"/>
<text x="102.15" y="288.2" font-size="6.5" fill="#3a3a3a" text-anchor="end" font-weight="normal" transform="rotate(-45 102.15 288.2)" stroke="#3a3a3a" stroke-width="0.12">G1</text>
<line x1="108.28" y1="277.7" x2="108.28" y2="280.3" stroke="#333" stroke-width="0.8"/>
<text x="111.48" y="288.2" font-size="6.5" fill="#3a3a3a" text-anchor="end" font-weight="normal" transform="rotate(-45 111.48 288.2)" stroke="#3a3a3a" stroke-width="0.12">A1</text>
<line x1="117.61" y1="277.7" x2="117.61" y2="280.3" stroke="#333" stroke-width="0.8"/>
<text x="120.81" y="288.2" font-size="6.5" fill="#3a3a3a" text-anchor="end" font-weight="normal" transform="rotate(-45 120.81 288.2)" stroke="#3a3a3a" stroke-width="0.12">RR</text>
<line x1="126.94" y1="277.7" x2="126.94" y2="280.3" stroke="#333" stroke-width="0.8"/>
<text x="130.14" y="288.2" font-size="6.5" fill="#3a3a3a" text-anchor="end" font-weight="normal" transform="rotate(-45 130.14 288.2)" stroke="#3a3a3a" stroke-width="0.12">G2</text>
<line x1="136.27" y1="277.7" x2="136.27" y2="280.3" stroke="#333" stroke-width="0.8"/>
<text x="139.47" y="288.2" font-size="6.5" fill="#3a3a3a" text-anchor="end" font-weight="normal" transform="rotate(-45 139.47 288.2)" stroke="#3a3a3a" stroke-width="0.12">G4</text>
<line x1="145.6" y1="277.7" x2="145.6" y2="280.3" stroke="#333" stroke-width="0.8"/>
<text x="148.8" y="288.2" font-size="6.5" fill="#3a3a3a" text-anchor="end" font-weight="normal" transform="rotate(-45 148.8 288.2)" stroke="#3a3a3a" stroke-width="0.12">E</text>
<line x1="154.93" y1="277.7" x2="154.93" y2="280.3" stroke="#333" stroke-width="0.8"/>
<text x="158.13" y="288.2" font-size="6.5" fill="#3a3a3a" text-anchor="end" font-weight="normal" transform="rotate(-45 158.13 288.2)" stroke="#3a3a3a" stroke-width="0.12">A2</text>
<text x="26.8" y="235" font-size="6.7" fill="#333" text-anchor="middle" font-weight="normal" transform="rotate(-90 26.8 235)" stroke="#333" stroke-width="0.12">Percent</text>
<rect x="212.95" y="236.12" width="7.7" height="38.48" fill="#c8c4ce"/>
<rect x="222.28" y="228.31" width="7.7" height="46.29" fill="#c8102e"/>
<rect x="250.27" y="271.19" width="7.7" height="3.41" fill="#e2137b"/>
<rect x="259.6" y="251.6" width="7.7" height="23" fill="#2aa8e0"/>
<rect x="268.93" y="267.22" width="7.7" height="7.38" fill="#17694c"/>
<rect x="287.59" y="267.22" width="7.7" height="7.38" fill="#5e1f6e"/>
<rect x="296.92" y="267.22" width="7.7" height="7.38" fill="#3cad3c"/>
<rect x="315.58" y="267.22" width="7.7" height="7.38" fill="#1c4778"/>
<line x1="211.4" y1="191.8" x2="211.4" y2="278.2" stroke="#222" stroke-width="1"/>
<line x1="210.9" y1="277.7" x2="325.1" y2="277.7" stroke="#222" stroke-width="1"/>
<line x1="208.9" y1="274.6" x2="211.4" y2="274.6" stroke="#333" stroke-width="0.8"/>
<text x="206.4" y="276.9" font-size="6.6" fill="#444" text-anchor="end" font-weight="normal" stroke="#444" stroke-width="0.12">0</text>
<line x1="208.9" y1="246.2" x2="211.4" y2="246.2" stroke="#333" stroke-width="0.8"/>
<text x="206.4" y="248.5" font-size="6.6" fill="#444" text-anchor="end" font-weight="normal" stroke="#444" stroke-width="0.12">20</text>
<line x1="208.9" y1="217.8" x2="211.4" y2="217.8" stroke="#333" stroke-width="0.8"/>
<text x="206.4" y="220.1" font-size="6.6" fill="#444" text-anchor="end" font-weight="normal" stroke="#444" stroke-width="0.12">40</text>
<line x1="216.8" y1="277.7" x2="216.8" y2="280.3" stroke="#333" stroke-width="0.8"/>
<text x="220" y="288.2" font-size="6.5" fill="#3a3a3a" text-anchor="end" font-weight="normal" transform="rotate(-45 220 288.2)" stroke="#3a3a3a" stroke-width="0.12">V</text>
<line x1="226.13" y1="277.7" x2="226.13" y2="280.3" stroke="#333" stroke-width="0.8"/>
<text x="229.33" y="288.2" font-size="6.5" fill="#3a3a3a" text-anchor="end" font-weight="normal" transform="rotate(-45 229.33 288.2)" stroke="#3a3a3a" stroke-width="0.12">Eμ</text>
<line x1="235.46" y1="277.7" x2="235.46" y2="280.3" stroke="#333" stroke-width="0.8"/>
<text x="238.66" y="288.2" font-size="6.5" fill="#3a3a3a" text-anchor="end" font-weight="normal" transform="rotate(-45 238.66 288.2)" stroke="#3a3a3a" stroke-width="0.12">M</text>
<line x1="244.79" y1="277.7" x2="244.79" y2="280.3" stroke="#333" stroke-width="0.8"/>
<text x="247.99" y="288.2" font-size="6.5" fill="#3a3a3a" text-anchor="end" font-weight="normal" transform="rotate(-45 247.99 288.2)" stroke="#3a3a3a" stroke-width="0.12">D</text>
<line x1="254.12" y1="277.7" x2="254.12" y2="280.3" stroke="#333" stroke-width="0.8"/>
<text x="257.32" y="288.2" font-size="6.5" fill="#3a3a3a" text-anchor="end" font-weight="normal" transform="rotate(-45 257.32 288.2)" stroke="#3a3a3a" stroke-width="0.12">G3</text>
<line x1="263.45" y1="277.7" x2="263.45" y2="280.3" stroke="#333" stroke-width="0.8"/>
<text x="266.65" y="288.2" font-size="6.5" fill="#3a3a3a" text-anchor="end" font-weight="normal" transform="rotate(-45 266.65 288.2)" stroke="#3a3a3a" stroke-width="0.12">G1</text>
<line x1="272.78" y1="277.7" x2="272.78" y2="280.3" stroke="#333" stroke-width="0.8"/>
<text x="275.98" y="288.2" font-size="6.5" fill="#3a3a3a" text-anchor="end" font-weight="normal" transform="rotate(-45 275.98 288.2)" stroke="#3a3a3a" stroke-width="0.12">A1</text>
<line x1="282.11" y1="277.7" x2="282.11" y2="280.3" stroke="#333" stroke-width="0.8"/>
<text x="285.31" y="288.2" font-size="6.5" fill="#3a3a3a" text-anchor="end" font-weight="normal" transform="rotate(-45 285.31 288.2)" stroke="#3a3a3a" stroke-width="0.12">RR</text>
<line x1="291.44" y1="277.7" x2="291.44" y2="280.3" stroke="#333" stroke-width="0.8"/>
<text x="294.64" y="288.2" font-size="6.5" fill="#3a3a3a" text-anchor="end" font-weight="normal" transform="rotate(-45 294.64 288.2)" stroke="#3a3a3a" stroke-width="0.12">G2</text>
<line x1="300.77" y1="277.7" x2="300.77" y2="280.3" stroke="#333" stroke-width="0.8"/>
<text x="303.97" y="288.2" font-size="6.5" fill="#3a3a3a" text-anchor="end" font-weight="normal" transform="rotate(-45 303.97 288.2)" stroke="#3a3a3a" stroke-width="0.12">G4</text>
<line x1="310.1" y1="277.7" x2="310.1" y2="280.3" stroke="#333" stroke-width="0.8"/>
<text x="313.3" y="288.2" font-size="6.5" fill="#3a3a3a" text-anchor="end" font-weight="normal" transform="rotate(-45 313.3 288.2)" stroke="#3a3a3a" stroke-width="0.12">E</text>
<line x1="319.43" y1="277.7" x2="319.43" y2="280.3" stroke="#333" stroke-width="0.8"/>
<text x="322.63" y="288.2" font-size="6.5" fill="#3a3a3a" text-anchor="end" font-weight="normal" transform="rotate(-45 322.63 288.2)" stroke="#3a3a3a" stroke-width="0.12">A2</text>
<text x="191.3" y="235" font-size="6.7" fill="#333" text-anchor="middle" font-weight="normal" transform="rotate(-90 191.3 235)" stroke="#333" stroke-width="0.12">Percent</text>
<rect x="377.05" y="267.07" width="7.7" height="7.53" fill="#c8c4ce"/>
<rect x="386.38" y="269.2" width="7.7" height="5.4" fill="#c8102e"/>
<rect x="414.37" y="263.81" width="7.7" height="10.79" fill="#e2137b"/>
<rect x="423.7" y="263.81" width="7.7" height="10.79" fill="#2aa8e0"/>
<rect x="433.03" y="272.19" width="7.7" height="2.41" fill="#17694c"/>
<rect x="451.69" y="242.37" width="7.7" height="32.23" fill="#5e1f6e"/>
<rect x="461.02" y="269.49" width="7.7" height="5.11" fill="#3cad3c"/>
<rect x="470.35" y="215.24" width="7.7" height="59.36" fill="#f8b400"/>
<rect x="479.68" y="266.93" width="7.7" height="7.67" fill="#1c4778"/>
<line x1="375.5" y1="191.8" x2="375.5" y2="278.2" stroke="#222" stroke-width="1"/>
<line x1="375" y1="277.7" x2="489.2" y2="277.7" stroke="#222" stroke-width="1"/>
<line x1="373" y1="274.6" x2="375.5" y2="274.6" stroke="#333" stroke-width="0.8"/>
<text x="370.5" y="276.9" font-size="6.6" fill="#444" text-anchor="end" font-weight="normal" stroke="#444" stroke-width="0.12">0</text>
<line x1="373" y1="246.2" x2="375.5" y2="246.2" stroke="#333" stroke-width="0.8"/>
<text x="370.5" y="248.5" font-size="6.6" fill="#444" text-anchor="end" font-weight="normal" stroke="#444" stroke-width="0.12">20</text>
<line x1="373" y1="217.8" x2="375.5" y2="217.8" stroke="#333" stroke-width="0.8"/>
<text x="370.5" y="220.1" font-size="6.6" fill="#444" text-anchor="end" font-weight="normal" stroke="#444" stroke-width="0.12">40</text>
<line x1="380.9" y1="277.7" x2="380.9" y2="280.3" stroke="#333" stroke-width="0.8"/>
<text x="384.1" y="288.2" font-size="6.5" fill="#3a3a3a" text-anchor="end" font-weight="normal" transform="rotate(-45 384.1 288.2)" stroke="#3a3a3a" stroke-width="0.12">V</text>
<line x1="390.23" y1="277.7" x2="390.23" y2="280.3" stroke="#333" stroke-width="0.8"/>
<text x="393.43" y="288.2" font-size="6.5" fill="#3a3a3a" text-anchor="end" font-weight="normal" transform="rotate(-45 393.43 288.2)" stroke="#3a3a3a" stroke-width="0.12">Eμ</text>
<line x1="399.56" y1="277.7" x2="399.56" y2="280.3" stroke="#333" stroke-width="0.8"/>
<text x="402.76" y="288.2" font-size="6.5" fill="#3a3a3a" text-anchor="end" font-weight="normal" transform="rotate(-45 402.76 288.2)" stroke="#3a3a3a" stroke-width="0.12">M</text>
<line x1="408.89" y1="277.7" x2="408.89" y2="280.3" stroke="#333" stroke-width="0.8"/>
<text x="412.09" y="288.2" font-size="6.5" fill="#3a3a3a" text-anchor="end" font-weight="normal" transform="rotate(-45 412.09 288.2)" stroke="#3a3a3a" stroke-width="0.12">D</text>
<line x1="418.22" y1="277.7" x2="418.22" y2="280.3" stroke="#333" stroke-width="0.8"/>
<text x="421.42" y="288.2" font-size="6.5" fill="#3a3a3a" text-anchor="end" font-weight="normal" transform="rotate(-45 421.42 288.2)" stroke="#3a3a3a" stroke-width="0.12">G3</text>
<line x1="427.55" y1="277.7" x2="427.55" y2="280.3" stroke="#333" stroke-width="0.8"/>
<text x="430.75" y="288.2" font-size="6.5" fill="#3a3a3a" text-anchor="end" font-weight="normal" transform="rotate(-45 430.75 288.2)" stroke="#3a3a3a" stroke-width="0.12">G1</text>
<line x1="436.88" y1="277.7" x2="436.88" y2="280.3" stroke="#333" stroke-width="0.8"/>
<text x="440.08" y="288.2" font-size="6.5" fill="#3a3a3a" text-anchor="end" font-weight="normal" transform="rotate(-45 440.08 288.2)" stroke="#3a3a3a" stroke-width="0.12">A1</text>
<line x1="446.21" y1="277.7" x2="446.21" y2="280.3" stroke="#333" stroke-width="0.8"/>
<text x="449.41" y="288.2" font-size="6.5" fill="#3a3a3a" text-anchor="end" font-weight="normal" transform="rotate(-45 449.41 288.2)" stroke="#3a3a3a" stroke-width="0.12">RR</text>
<line x1="455.54" y1="277.7" x2="455.54" y2="280.3" stroke="#333" stroke-width="0.8"/>
<text x="458.74" y="288.2" font-size="6.5" fill="#3a3a3a" text-anchor="end" font-weight="normal" transform="rotate(-45 458.74 288.2)" stroke="#3a3a3a" stroke-width="0.12">G2</text>
<line x1="464.87" y1="277.7" x2="464.87" y2="280.3" stroke="#333" stroke-width="0.8"/>
<text x="468.07" y="288.2" font-size="6.5" fill="#3a3a3a" text-anchor="end" font-weight="normal" transform="rotate(-45 468.07 288.2)" stroke="#3a3a3a" stroke-width="0.12">G4</text>
<line x1="474.2" y1="277.7" x2="474.2" y2="280.3" stroke="#333" stroke-width="0.8"/>
<text x="477.4" y="288.2" font-size="6.5" fill="#3a3a3a" text-anchor="end" font-weight="normal" transform="rotate(-45 477.4 288.2)" stroke="#3a3a3a" stroke-width="0.12">E</text>
<line x1="483.53" y1="277.7" x2="483.53" y2="280.3" stroke="#333" stroke-width="0.8"/>
<text x="486.73" y="288.2" font-size="6.5" fill="#3a3a3a" text-anchor="end" font-weight="normal" transform="rotate(-45 486.73 288.2)" stroke="#3a3a3a" stroke-width="0.12">A2</text>
<text x="355.4" y="235" font-size="6.7" fill="#333" text-anchor="middle" font-weight="normal" transform="rotate(-90 355.4 235)" stroke="#333" stroke-width="0.12">Percent</text>
<rect x="52.1" y="408.89" width="27.2" height="86.11" fill="#b5a3d5"/>
<rect x="52.1" y="349.27" width="27.2" height="59.62" fill="#ccbfe1"/>
<rect x="56.6" y="356.8" width="18.2" height="9.6" rx="1.0" fill="#a58bc8" stroke="#9478bc" stroke-width="0.6"/>
<text x="65.7" y="364.2" font-size="7.3" fill="#efe8f8" text-anchor="middle" textLength="13.5" lengthAdjust="spacingAndGlyphs" stroke="#efe8f8" stroke-width="0.12">41%</text>
<rect x="56.6" y="421.5" width="18.2" height="9.6" rx="1.0" fill="#9a80c2" stroke="#9478bc" stroke-width="0.6"/>
<text x="65.7" y="428.9" font-size="7.3" fill="#efe8f8" text-anchor="middle" textLength="13.5" lengthAdjust="spacingAndGlyphs" stroke="#efe8f8" stroke-width="0.12">59%</text>
<rect x="82.6" y="456.91" width="27.2" height="38.09" fill="#9479c0"/>
<rect x="82.6" y="370.8" width="27.2" height="86.11" fill="#ad98d2"/>
<rect x="87.1" y="383.2" width="18.2" height="9.6" rx="1.0" fill="#8a6cb8" stroke="#7a5ca8" stroke-width="0.6"/>
<text x="96.2" y="390.6" font-size="7.3" fill="#efe8f8" text-anchor="middle" textLength="13.5" lengthAdjust="spacingAndGlyphs" stroke="#efe8f8" stroke-width="0.12">69%</text>
<rect x="87.1" y="460.8" width="18.2" height="9.6" rx="1.0" fill="#775aa8" stroke="#7a5ca8" stroke-width="0.6"/>
<text x="96.2" y="468.2" font-size="7.3" fill="#efe8f8" text-anchor="middle" textLength="13.5" lengthAdjust="spacingAndGlyphs" stroke="#efe8f8" stroke-width="0.12">31%</text>
<rect x="112.8" y="488.38" width="27.2" height="6.62" fill="#8b1b1f"/>
<rect x="112.8" y="405.58" width="27.2" height="82.8" fill="#b5473d"/>
<rect x="117.3" y="418" width="18.2" height="9.6" rx="1.0" fill="#922a28" stroke="#e8b0b0" stroke-width="0.6"/>
<text x="126.4" y="425.4" font-size="7.3" fill="#fff4f4" text-anchor="middle" textLength="13.5" lengthAdjust="spacingAndGlyphs" stroke="#fff4f4" stroke-width="0.12">93%</text>
<rect x="119.8" y="484.8" width="13.2" height="9.6" rx="1.0" fill="#6a0c12" stroke="#e8b0b0" stroke-width="0.6"/>
<text x="126.4" y="492.2" font-size="7.3" fill="#fff4f4" text-anchor="middle" textLength="8.6" lengthAdjust="spacingAndGlyphs" stroke="#fff4f4" stroke-width="0.12">7%</text>
<rect x="143.2" y="471.82" width="27.2" height="23.18" fill="#55a558"/>
<rect x="143.2" y="432.07" width="27.2" height="39.74" fill="#91ca90"/>
<rect x="147.7" y="436.1" width="18.2" height="9.6" rx="1.0" fill="#6fb46f" stroke="#3a7a3a" stroke-width="0.6"/>
<text x="156.8" y="443.5" font-size="7.3" fill="#1f5e24" text-anchor="middle" textLength="13.5" lengthAdjust="spacingAndGlyphs" stroke="#1f5e24" stroke-width="0.12">63%</text>
<rect x="147.7" y="471.3" width="18.2" height="9.6" rx="1.0" fill="#3f8e43" stroke="#3a7a3a" stroke-width="0.6"/>
<text x="156.8" y="478.7" font-size="7.3" fill="#1f5e24" text-anchor="middle" textLength="13.5" lengthAdjust="spacingAndGlyphs" stroke="#1f5e24" stroke-width="0.12">37%</text>
<line x1="46.9" y1="326.8" x2="46.9" y2="503.1" stroke="#222" stroke-width="1"/>
<line x1="46.4" y1="502.6" x2="173.5" y2="502.6" stroke="#222" stroke-width="1"/>
<line x1="44.4" y1="495" x2="46.9" y2="495" stroke="#333" stroke-width="0.8"/>
<text x="42.7" y="497.5" font-size="7" fill="#444" text-anchor="end" font-weight="normal" stroke="#444" stroke-width="0.12">0</text>
<line x1="44.4" y1="453.6" x2="46.9" y2="453.6" stroke="#333" stroke-width="0.8"/>
<text x="42.7" y="456.1" font-size="7" fill="#444" text-anchor="end" font-weight="normal" stroke="#444" stroke-width="0.12">25</text>
<line x1="44.4" y1="412.2" x2="46.9" y2="412.2" stroke="#333" stroke-width="0.8"/>
<text x="42.7" y="414.7" font-size="7" fill="#444" text-anchor="end" font-weight="normal" stroke="#444" stroke-width="0.12">50</text>
<line x1="44.4" y1="370.8" x2="46.9" y2="370.8" stroke="#333" stroke-width="0.8"/>
<text x="42.7" y="373.3" font-size="7" fill="#444" text-anchor="end" font-weight="normal" stroke="#444" stroke-width="0.12">75</text>
<line x1="44.4" y1="329.4" x2="46.9" y2="329.4" stroke="#333" stroke-width="0.8"/>
<text x="42.7" y="331.9" font-size="7" fill="#444" text-anchor="end" font-weight="normal" stroke="#444" stroke-width="0.12">100</text>
<line x1="65.7" y1="502.6" x2="65.7" y2="505.2" stroke="#333" stroke-width="0.8"/>
<line x1="96.2" y1="502.6" x2="96.2" y2="505.2" stroke="#333" stroke-width="0.8"/>
<line x1="126.4" y1="502.6" x2="126.4" y2="505.2" stroke="#333" stroke-width="0.8"/>
<line x1="156.8" y1="502.6" x2="156.8" y2="505.2" stroke="#333" stroke-width="0.8"/>
<text x="64.8" y="514.6" font-size="7.6" fill="#333" text-anchor="middle" textLength="25.4" lengthAdjust="spacingAndGlyphs" stroke="#333" stroke-width="0.12">BL EBV+</text>
<text x="95.3" y="514.6" font-size="7.6" fill="#333" text-anchor="middle" textLength="25.8" lengthAdjust="spacingAndGlyphs" stroke="#333" stroke-width="0.12">BL EBV−</text>
<text x="126.2" y="514.6" font-size="7.6" fill="#333" text-anchor="middle" textLength="28.5" lengthAdjust="spacingAndGlyphs" stroke="#333" stroke-width="0.12">DH−<tspan font-style="italic">BCL2</tspan></text>
<text x="156.7" y="514.6" font-size="7.6" fill="#333" text-anchor="middle" textLength="20.5" lengthAdjust="spacingAndGlyphs" stroke="#333" stroke-width="0.12">DLBCL</text>
<text x="23.9" y="420.5" font-size="7.8" fill="#333" text-anchor="middle" font-weight="normal" transform="rotate(-90 23.9 420.5)" textLength="19.5" lengthAdjust="spacingAndGlyphs" stroke="#333" stroke-width="0.12">Count</text>
<path d="M65.4 340.5V336.2H126.3V340.5" fill="none" stroke="#444" stroke-width="0.8"/>
<circle cx="91.65" cy="333.1" r="0.95" fill="#555"/>
<circle cx="94.45" cy="333.1" r="0.95" fill="#555"/>
<circle cx="97.25" cy="333.1" r="0.95" fill="#555"/>
<circle cx="100.05" cy="333.1" r="0.95" fill="#555"/>
<path d="M65.4 347V342.7H95.6V347" fill="none" stroke="#444" stroke-width="0.8"/>
<circle cx="79.1" cy="339.6" r="0.95" fill="#555"/>
<circle cx="81.9" cy="339.6" r="0.95" fill="#555"/>
<path d="M95.6 366.8V362.5H126.3V366.8" fill="none" stroke="#444" stroke-width="0.8"/>
<circle cx="109.55" cy="359.4" r="0.95" fill="#555"/>
<circle cx="112.35" cy="359.4" r="0.95" fill="#555"/>
<path d="M126.3 400.5V396.2H156.7V400.5" fill="none" stroke="#444" stroke-width="0.8"/>
<circle cx="140.1" cy="393.1" r="0.95" fill="#555"/>
<circle cx="142.9" cy="393.1" r="0.95" fill="#555"/>
<text x="52.2" y="530.3" font-size="7.5" fill="#333" textLength="58" lengthAdjust="spacingAndGlyphs" stroke="#333" stroke-width="0.12"><tspan font-style="italic">MYC</tspan>−R mechanism</text>
<rect x="113.6" y="523.1" width="10.4" height="10" fill="#5b5b5b" stroke="#444" stroke-width="0.5"/>
<text x="127.2" y="530.3" font-size="7.5" fill="#333" textLength="14.3" lengthAdjust="spacingAndGlyphs" stroke="#333" stroke-width="0.12">SHM</text>
<rect x="146.8" y="523.1" width="10.1" height="10" fill="#8e8e8e" stroke="#777" stroke-width="0.5"/>
<text x="159.8" y="530.3" font-size="7.5" fill="#333" textLength="12.4" lengthAdjust="spacingAndGlyphs" stroke="#333" stroke-width="0.12">CSR</text>
<line x1="224.7" y1="357.8" x2="224.7" y2="503.2" stroke="#222" stroke-width="1"/>
<line x1="224.2" y1="502.8" x2="327.6" y2="502.8" stroke="#222" stroke-width="1"/>
<line x1="222.2" y1="496.1" x2="224.7" y2="496.1" stroke="#333" stroke-width="0.8"/>
<line x1="222.2" y1="482.9" x2="224.7" y2="482.9" stroke="#333" stroke-width="0.8"/>
<line x1="222.2" y1="469.7" x2="224.7" y2="469.7" stroke="#333" stroke-width="0.8"/>
<line x1="222.2" y1="456.5" x2="224.7" y2="456.5" stroke="#333" stroke-width="0.8"/>
<line x1="222.2" y1="443.3" x2="224.7" y2="443.3" stroke="#333" stroke-width="0.8"/>
<line x1="222.2" y1="430.1" x2="224.7" y2="430.1" stroke="#333" stroke-width="0.8"/>
<line x1="222.2" y1="416.9" x2="224.7" y2="416.9" stroke="#333" stroke-width="0.8"/>
<line x1="222.2" y1="403.7" x2="224.7" y2="403.7" stroke="#333" stroke-width="0.8"/>
<line x1="222.2" y1="390.5" x2="224.7" y2="390.5" stroke="#333" stroke-width="0.8"/>
<line x1="222.2" y1="377.3" x2="224.7" y2="377.3" stroke="#333" stroke-width="0.8"/>
<line x1="222.2" y1="364.1" x2="224.7" y2="364.1" stroke="#333" stroke-width="0.8"/>
<line x1="331.3" y1="357.8" x2="331.3" y2="503.2" stroke="#222" stroke-width="1"/>
<line x1="330.8" y1="502.8" x2="467.4" y2="502.8" stroke="#222" stroke-width="1"/>
<line x1="328.8" y1="496.1" x2="331.3" y2="496.1" stroke="#333" stroke-width="0.8"/>
<line x1="328.8" y1="482.9" x2="331.3" y2="482.9" stroke="#333" stroke-width="0.8"/>
<line x1="328.8" y1="469.7" x2="331.3" y2="469.7" stroke="#333" stroke-width="0.8"/>
<line x1="328.8" y1="456.5" x2="331.3" y2="456.5" stroke="#333" stroke-width="0.8"/>
<line x1="328.8" y1="443.3" x2="331.3" y2="443.3" stroke="#333" stroke-width="0.8"/>
<line x1="328.8" y1="430.1" x2="331.3" y2="430.1" stroke="#333" stroke-width="0.8"/>
<line x1="328.8" y1="416.9" x2="331.3" y2="416.9" stroke="#333" stroke-width="0.8"/>
<line x1="328.8" y1="403.7" x2="331.3" y2="403.7" stroke="#333" stroke-width="0.8"/>
<line x1="328.8" y1="390.5" x2="331.3" y2="390.5" stroke="#333" stroke-width="0.8"/>
<line x1="328.8" y1="377.3" x2="331.3" y2="377.3" stroke="#333" stroke-width="0.8"/>
<line x1="328.8" y1="364.1" x2="331.3" y2="364.1" stroke="#333" stroke-width="0.8"/>
<line x1="471.4" y1="357.8" x2="471.4" y2="503.2" stroke="#222" stroke-width="1"/>
<line x1="470.9" y1="502.8" x2="509.6" y2="502.8" stroke="#222" stroke-width="1"/>
<line x1="468.9" y1="496.1" x2="471.4" y2="496.1" stroke="#333" stroke-width="0.8"/>
<line x1="468.9" y1="482.9" x2="471.4" y2="482.9" stroke="#333" stroke-width="0.8"/>
<line x1="468.9" y1="469.7" x2="471.4" y2="469.7" stroke="#333" stroke-width="0.8"/>
<line x1="468.9" y1="456.5" x2="471.4" y2="456.5" stroke="#333" stroke-width="0.8"/>
<line x1="468.9" y1="443.3" x2="471.4" y2="443.3" stroke="#333" stroke-width="0.8"/>
<line x1="468.9" y1="430.1" x2="471.4" y2="430.1" stroke="#333" stroke-width="0.8"/>
<line x1="468.9" y1="416.9" x2="471.4" y2="416.9" stroke="#333" stroke-width="0.8"/>
<line x1="468.9" y1="403.7" x2="471.4" y2="403.7" stroke="#333" stroke-width="0.8"/>
<line x1="468.9" y1="390.5" x2="471.4" y2="390.5" stroke="#333" stroke-width="0.8"/>
<line x1="468.9" y1="377.3" x2="471.4" y2="377.3" stroke="#333" stroke-width="0.8"/>
<line x1="468.9" y1="364.1" x2="471.4" y2="364.1" stroke="#333" stroke-width="0.8"/>
<text x="218.4" y="498.3" font-size="6.2" fill="#444" text-anchor="end" font-weight="normal" stroke="#444" stroke-width="0.12">6</text>
<text x="218.4" y="471.9" font-size="6.2" fill="#444" text-anchor="end" font-weight="normal" stroke="#444" stroke-width="0.12">8</text>
<text x="218.4" y="445.5" font-size="6.2" fill="#444" text-anchor="end" font-weight="normal" textLength="7" lengthAdjust="spacingAndGlyphs" stroke="#444" stroke-width="0.12">10</text>
<text x="218.4" y="419.1" font-size="6.2" fill="#444" text-anchor="end" font-weight="normal" textLength="7" lengthAdjust="spacingAndGlyphs" stroke="#444" stroke-width="0.12">12</text>
<text x="218.4" y="392.7" font-size="6.2" fill="#444" text-anchor="end" font-weight="normal" textLength="7" lengthAdjust="spacingAndGlyphs" stroke="#444" stroke-width="0.12">14</text>
<text x="218.4" y="366.3" font-size="6.2" fill="#444" text-anchor="end" font-weight="normal" textLength="7" lengthAdjust="spacingAndGlyphs" stroke="#444" stroke-width="0.12">16</text>
<text x="0" y="0" font-size="7.7" fill="#333" text-anchor="middle" transform="translate(205.2 430.0) rotate(-90)" textLength="85.5" lengthAdjust="spacingAndGlyphs" stroke="#333" stroke-width="0.12">Normalized <tspan font-style="italic">MYC</tspan> expression</text>
<text x="276.3" y="354.1" font-size="8.8" fill="#333" text-anchor="middle" font-weight="normal" textLength="9.3" lengthAdjust="spacingAndGlyphs" stroke="#333" stroke-width="0.12">BL</text>
<text x="399.6" y="354.2" font-size="8.8" fill="#333" text-anchor="middle" textLength="26.8" lengthAdjust="spacingAndGlyphs" stroke="#333" stroke-width="0.12">DLBCL</text>
<text x="494.1" y="354.2" font-size="8.8" fill="#333" text-anchor="middle" textLength="37.5" lengthAdjust="spacingAndGlyphs" stroke="#333" stroke-width="0.12">DH−<tspan font-style="italic">BCL2</tspan></text>
<circle cx="239.7" cy="376" r="1" fill="#5a5a5a"/>
<circle cx="242.7" cy="376" r="1" fill="#5a5a5a"/>
<circle cx="245.7" cy="376" r="1" fill="#5a5a5a"/>
<circle cx="248.7" cy="376" r="1" fill="#5a5a5a"/>
<circle cx="271.8" cy="376" r="1" fill="#5a5a5a"/>
<circle cx="274.8" cy="376" r="1" fill="#5a5a5a"/>
<circle cx="277.8" cy="376" r="1" fill="#5a5a5a"/>
<circle cx="280.8" cy="376" r="1" fill="#5a5a5a"/>
<circle cx="304" cy="376" r="1" fill="#5a5a5a"/>
<circle cx="307" cy="376" r="1" fill="#5a5a5a"/>
<circle cx="310" cy="376" r="1" fill="#5a5a5a"/>
<circle cx="313" cy="376" r="1" fill="#5a5a5a"/>
<circle cx="351" cy="376" r="1" fill="#5a5a5a"/>
<circle cx="380.3" cy="376" r="1" fill="#5a5a5a"/>
<circle cx="383.3" cy="376" r="1" fill="#5a5a5a"/>
<circle cx="386.3" cy="376" r="1" fill="#5a5a5a"/>
<circle cx="412.6" cy="376" r="1" fill="#5a5a5a"/>
<circle cx="415.6" cy="376" r="1" fill="#5a5a5a"/>
<circle cx="418.6" cy="376" r="1" fill="#5a5a5a"/>
<circle cx="486.4" cy="376" r="1" fill="#5a5a5a"/>
<circle cx="489.4" cy="376" r="1" fill="#5a5a5a"/>
<circle cx="492.4" cy="376" r="1" fill="#5a5a5a"/>
<circle cx="495.4" cy="376" r="1" fill="#5a5a5a"/>
<text x="448.1" y="377.8" font-size="7.8" fill="#333" text-anchor="middle" textLength="11.6" lengthAdjust="spacingAndGlyphs" stroke="#333" stroke-width="0.12">REF</text>
<line x1="243.9" y1="403.04" x2="243.9" y2="438.02" stroke="#333" stroke-width="0.9"/>
<rect x="232" y="415.58" width="23.8" height="10.56" fill="#5f86c4" fill-opacity="0.5" stroke="none"/>
<circle cx="250.9" cy="432.32" r="1.3" fill="#1d4582"/>
<circle cx="243.9" cy="416.46" r="1.3" fill="#1d4582"/>
<circle cx="246.3" cy="410.35" r="1.3" fill="#1d4582"/>
<circle cx="239.9" cy="425.28" r="1.3" fill="#1d4582"/>
<circle cx="246.5" cy="433.36" r="1.3" fill="#1d4582"/>
<circle cx="231.79" cy="420.85" r="1.3" fill="#1d4582"/>
<circle cx="252.7" cy="415.47" r="1.3" fill="#1d4582"/>
<circle cx="239.1" cy="409.33" r="1.3" fill="#1d4582"/>
<circle cx="238.7" cy="432.24" r="1.3" fill="#1d4582"/>
<circle cx="241.3" cy="433" r="1.3" fill="#1d4582"/>
<circle cx="246.5" cy="413.21" r="1.3" fill="#1d4582"/>
<circle cx="237.5" cy="415.51" r="1.3" fill="#1d4582"/>
<circle cx="243.9" cy="405.02" r="1.3" fill="#1d4582"/>
<circle cx="241.5" cy="410.47" r="1.3" fill="#1d4582"/>
<circle cx="238.9" cy="421.21" r="1.3" fill="#1d4582"/>
<circle cx="252.7" cy="422.91" r="1.3" fill="#1d4582"/>
<circle cx="243.9" cy="423.06" r="1.3" fill="#1d4582"/>
<circle cx="240.5" cy="427.97" r="1.3" fill="#1d4582"/>
<circle cx="248.3" cy="431.47" r="1.3" fill="#1d4582"/>
<circle cx="255.7" cy="419.25" r="1.3" fill="#1d4582"/>
<circle cx="251.1" cy="418.76" r="1.3" fill="#1d4582"/>
<circle cx="237.9" cy="423.61" r="1.3" fill="#1d4582"/>
<circle cx="246.5" cy="420.82" r="1.3" fill="#1d4582"/>
<circle cx="246.3" cy="417.5" r="1.3" fill="#1d4582"/>
<circle cx="241.3" cy="413.35" r="1.3" fill="#1d4582"/>
<circle cx="243.9" cy="409.34" r="1.3" fill="#1d4582"/>
<circle cx="236.5" cy="418.12" r="1.3" fill="#1d4582"/>
<circle cx="243.9" cy="437.92" r="1.3" fill="#1d4582"/>
<circle cx="238.7" cy="413.25" r="1.3" fill="#1d4582"/>
<circle cx="248.9" cy="434.26" r="1.3" fill="#1d4582"/>
<circle cx="250.3" cy="421.9" r="1.3" fill="#1d4582"/>
<circle cx="239.3" cy="434.79" r="1.3" fill="#1d4582"/>
<circle cx="253.3" cy="420.18" r="1.3" fill="#1d4582"/>
<circle cx="246.5" cy="427.91" r="1.3" fill="#1d4582"/>
<circle cx="239.1" cy="418.08" r="1.3" fill="#1d4582"/>
<circle cx="233.7" cy="420.68" r="1.3" fill="#1d4582"/>
<circle cx="248.7" cy="411.86" r="1.3" fill="#1d4582"/>
<circle cx="243.9" cy="433.3" r="1.3" fill="#1d4582"/>
<circle cx="247.9" cy="423.05" r="1.3" fill="#1d4582"/>
<circle cx="243.9" cy="413.64" r="1.3" fill="#1d4582"/>
<circle cx="236.3" cy="421.12" r="1.3" fill="#1d4582"/>
<circle cx="241.3" cy="416.54" r="1.3" fill="#1d4582"/>
<circle cx="248.5" cy="419.18" r="1.3" fill="#1d4582"/>
<circle cx="242.1" cy="430.16" r="1.3" fill="#1d4582"/>
<circle cx="248.7" cy="414.62" r="1.3" fill="#1d4582"/>
<circle cx="243.9" cy="428.24" r="1.3" fill="#1d4582"/>
<circle cx="245.3" cy="425.2" r="1.3" fill="#1d4582"/>
<circle cx="251.1" cy="413.41" r="1.3" fill="#1d4582"/>
<circle cx="243.9" cy="420.18" r="1.3" fill="#1d4582"/>
<circle cx="236.9" cy="410.77" r="1.3" fill="#1d4582"/>
<circle cx="242.3" cy="426.16" r="1.3" fill="#1d4582"/>
<circle cx="250.9" cy="410.31" r="1.3" fill="#1d4582"/>
<circle cx="241.5" cy="421.43" r="1.3" fill="#1d4582"/>
<circle cx="245.9" cy="407.69" r="1.3" fill="#1d4582"/>
<circle cx="243.9" cy="445.94" r="1.3" fill="#1d4582"/>
<line x1="232" y1="420.86" x2="255.8" y2="420.86" stroke="#111" stroke-width="1.55"/>
<line x1="276.2" y1="394.46" x2="276.2" y2="441.98" stroke="#333" stroke-width="0.9"/>
<rect x="264.3" y="412.28" width="23.8" height="13.86" fill="#f8be6e" fill-opacity="0.5" stroke="none"/>
<circle cx="281.6" cy="413.36" r="1.3" fill="#f39c1a"/>
<circle cx="270.4" cy="428.91" r="1.3" fill="#f39c1a"/>
<circle cx="275" cy="409.39" r="1.3" fill="#f39c1a"/>
<circle cx="271.8" cy="410.36" r="1.3" fill="#f39c1a"/>
<circle cx="286.2" cy="410.1" r="1.3" fill="#f39c1a"/>
<circle cx="287.6" cy="416.89" r="1.3" fill="#f39c1a"/>
<circle cx="276.2" cy="424.19" r="1.3" fill="#f39c1a"/>
<circle cx="280.4" cy="430.04" r="1.3" fill="#f39c1a"/>
<circle cx="278.4" cy="410.41" r="1.3" fill="#f39c1a"/>
<circle cx="270.6" cy="422.2" r="1.3" fill="#f39c1a"/>
<circle cx="279" cy="412.93" r="1.3" fill="#f39c1a"/>
<circle cx="276.2" cy="431.78" r="1.3" fill="#f39c1a"/>
<circle cx="277.8" cy="429.72" r="1.3" fill="#f39c1a"/>
<circle cx="276.2" cy="411.96" r="1.3" fill="#f39c1a"/>
<circle cx="278.8" cy="407.84" r="1.3" fill="#f39c1a"/>
<circle cx="277.8" cy="433.77" r="1.3" fill="#f39c1a"/>
<circle cx="266.6" cy="424.56" r="1.3" fill="#f39c1a"/>
<circle cx="273" cy="428.21" r="1.3" fill="#f39c1a"/>
<circle cx="273.6" cy="412.2" r="1.3" fill="#f39c1a"/>
<circle cx="273.8" cy="416.82" r="1.3" fill="#f39c1a"/>
<circle cx="276.2" cy="418.08" r="1.3" fill="#f39c1a"/>
<circle cx="282.54" cy="410.35" r="1.3" fill="#f39c1a"/>
<circle cx="265.4" cy="412.03" r="1.3" fill="#f39c1a"/>
<circle cx="274.6" cy="420.07" r="1.3" fill="#f39c1a"/>
<circle cx="276.2" cy="403.3" r="1.3" fill="#f39c1a"/>
<circle cx="276.2" cy="427.58" r="1.3" fill="#f39c1a"/>
<circle cx="284.2" cy="413.03" r="1.3" fill="#f39c1a"/>
<circle cx="281" cy="410.03" r="1.3" fill="#f39c1a"/>
<circle cx="281.2" cy="426.02" r="1.3" fill="#f39c1a"/>
<circle cx="268" cy="422.41" r="1.3" fill="#f39c1a"/>
<circle cx="288.4" cy="414.45" r="1.3" fill="#f39c1a"/>
<circle cx="284" cy="420.28" r="1.3" fill="#f39c1a"/>
<circle cx="274.6" cy="433.83" r="1.3" fill="#f39c1a"/>
<circle cx="271.2" cy="417.67" r="1.3" fill="#f39c1a"/>
<circle cx="279.6" cy="422.44" r="1.3" fill="#f39c1a"/>
<circle cx="282.2" cy="422.13" r="1.3" fill="#f39c1a"/>
<circle cx="267.2" cy="414.4" r="1.3" fill="#f39c1a"/>
<circle cx="276.2" cy="398.17" r="1.3" fill="#f39c1a"/>
<circle cx="280.8" cy="419.56" r="1.3" fill="#f39c1a"/>
<circle cx="285.8" cy="423.29" r="1.3" fill="#f39c1a"/>
<circle cx="274.2" cy="425.9" r="1.3" fill="#f39c1a"/>
<circle cx="276.8" cy="415.58" r="1.3" fill="#f39c1a"/>
<circle cx="268" cy="411.83" r="1.3" fill="#f39c1a"/>
<circle cx="266.6" cy="417.21" r="1.3" fill="#f39c1a"/>
<circle cx="270" cy="424.69" r="1.3" fill="#f39c1a"/>
<circle cx="285.8" cy="415.02" r="1.3" fill="#f39c1a"/>
<circle cx="281.2" cy="416.58" r="1.3" fill="#f39c1a"/>
<circle cx="283" cy="427.99" r="1.3" fill="#f39c1a"/>
<circle cx="283.8" cy="416.82" r="1.3" fill="#f39c1a"/>
<circle cx="277.2" cy="420.83" r="1.3" fill="#f39c1a"/>
<circle cx="273.4" cy="431.5" r="1.3" fill="#f39c1a"/>
<circle cx="276.2" cy="407.05" r="1.3" fill="#f39c1a"/>
<circle cx="272.6" cy="423.87" r="1.3" fill="#f39c1a"/>
<circle cx="269.2" cy="409.58" r="1.3" fill="#f39c1a"/>
<circle cx="283.6" cy="424.73" r="1.3" fill="#f39c1a"/>
<circle cx="278.8" cy="424.89" r="1.3" fill="#f39c1a"/>
<circle cx="271" cy="412.86" r="1.3" fill="#f39c1a"/>
<circle cx="273.6" cy="406.46" r="1.3" fill="#f39c1a"/>
<circle cx="272.26" cy="416.74" r="1.3" fill="#f39c1a"/>
<circle cx="269" cy="416.25" r="1.3" fill="#f39c1a"/>
<circle cx="278.8" cy="417.87" r="1.3" fill="#f39c1a"/>
<circle cx="265.4" cy="421.55" r="1.3" fill="#f39c1a"/>
<circle cx="264.6" cy="414.56" r="1.3" fill="#f39c1a"/>
<circle cx="283.6" cy="409.77" r="1.3" fill="#f39c1a"/>
<circle cx="276.2" cy="451.22" r="1.3" fill="#f39c1a"/>
<circle cx="276.2" cy="389.18" r="1.3" fill="#f39c1a"/>
<line x1="264.3" y1="419.54" x2="288.1" y2="419.54" stroke="#111" stroke-width="1.55"/>
<line x1="308.5" y1="399.74" x2="308.5" y2="436.7" stroke="#333" stroke-width="0.9"/>
<rect x="296.6" y="410.96" width="23.8" height="11.88" fill="#92d48c" fill-opacity="0.5" stroke="none"/>
<circle cx="315.7" cy="411.41" r="1.3" fill="#3aa835"/>
<circle cx="310.1" cy="407.2" r="1.3" fill="#3aa835"/>
<circle cx="306.5" cy="418.54" r="1.3" fill="#3aa835"/>
<circle cx="317.1" cy="414.52" r="1.3" fill="#3aa835"/>
<circle cx="302.1" cy="407.54" r="1.3" fill="#3aa835"/>
<circle cx="305.9" cy="414.96" r="1.3" fill="#3aa835"/>
<circle cx="302.7" cy="404.62" r="1.3" fill="#3aa835"/>
<circle cx="318.3" cy="410.89" r="1.3" fill="#3aa835"/>
<circle cx="312.9" cy="426.4" r="1.3" fill="#3aa835"/>
<circle cx="297.9" cy="413.37" r="1.3" fill="#3aa835"/>
<circle cx="311.1" cy="410.12" r="1.3" fill="#3aa835"/>
<circle cx="313.1" cy="411.81" r="1.3" fill="#3aa835"/>
<circle cx="314.5" cy="413.95" r="1.3" fill="#3aa835"/>
<circle cx="305.3" cy="411.14" r="1.3" fill="#3aa835"/>
<circle cx="308.5" cy="424.05" r="1.3" fill="#3aa835"/>
<circle cx="306.1" cy="402.48" r="1.3" fill="#3aa835"/>
<circle cx="300.3" cy="412.36" r="1.3" fill="#3aa835"/>
<circle cx="311.1" cy="414.25" r="1.3" fill="#3aa835"/>
<circle cx="308.5" cy="401.54" r="1.3" fill="#3aa835"/>
<circle cx="309.5" cy="416.58" r="1.3" fill="#3aa835"/>
<circle cx="306.1" cy="408.7" r="1.3" fill="#3aa835"/>
<circle cx="308.5" cy="409.58" r="1.3" fill="#3aa835"/>
<circle cx="313.5" cy="402.7" r="1.3" fill="#3aa835"/>
<circle cx="318.1" cy="421.08" r="1.3" fill="#3aa835"/>
<circle cx="315.5" cy="421.43" r="1.3" fill="#3aa835"/>
<circle cx="313.5" cy="409" r="1.3" fill="#3aa835"/>
<circle cx="304.5" cy="420.33" r="1.3" fill="#3aa835"/>
<circle cx="306.1" cy="425.09" r="1.3" fill="#3aa835"/>
<circle cx="300.3" cy="409.37" r="1.3" fill="#3aa835"/>
<circle cx="304.1" cy="423.44" r="1.3" fill="#3aa835"/>
<circle cx="299.5" cy="420.75" r="1.3" fill="#3aa835"/>
<circle cx="310.9" cy="402.59" r="1.3" fill="#3aa835"/>
<circle cx="312.1" cy="416.67" r="1.3" fill="#3aa835"/>
<circle cx="308.5" cy="405.14" r="1.3" fill="#3aa835"/>
<circle cx="304.1" cy="417.49" r="1.3" fill="#3aa835"/>
<circle cx="308.5" cy="420.23" r="1.3" fill="#3aa835"/>
<circle cx="302.1" cy="421.32" r="1.3" fill="#3aa835"/>
<circle cx="304.5" cy="406.58" r="1.3" fill="#3aa835"/>
<circle cx="311.1" cy="424.48" r="1.3" fill="#3aa835"/>
<circle cx="310.9" cy="418.99" r="1.3" fill="#3aa835"/>
<circle cx="314.9" cy="418.82" r="1.3" fill="#3aa835"/>
<circle cx="302.9" cy="412.28" r="1.3" fill="#3aa835"/>
<circle cx="308.5" cy="414.23" r="1.3" fill="#3aa835"/>
<circle cx="312.9" cy="420.59" r="1.3" fill="#3aa835"/>
<line x1="296.6" y1="414.26" x2="320.4" y2="414.26" stroke="#111" stroke-width="1.55"/>
<line x1="351" y1="413.5" x2="351" y2="445.8" stroke="#333" stroke-width="0.9"/>
<rect x="339.1" y="416.7" width="23.8" height="15.6" fill="#5f7fb8" fill-opacity="0.6"/>
<circle cx="342.3" cy="413.5" r="1.3" fill="#1d4582"/>
<circle cx="357.7" cy="417.5" r="1.3" fill="#1d4582"/>
<circle cx="347.7" cy="428.8" r="1.3" fill="#1d4582"/>
<circle cx="351.5" cy="445.2" r="1.3" fill="#1d4582"/>
<circle cx="353.2" cy="414.3" r="1.3" fill="#1d4582"/>
<line x1="339.1" y1="422.9" x2="362.9" y2="422.9" stroke="#111" stroke-width="1.55"/>
<line x1="383.3" y1="396" x2="383.3" y2="438.5" stroke="#333" stroke-width="0.9"/>
<rect x="371.4" y="408.1" width="23.8" height="12.9" fill="#f8b866" fill-opacity="0.6"/>
<circle cx="388" cy="395.7" r="1.3" fill="#f39c1a"/>
<circle cx="381.4" cy="405.4" r="1.3" fill="#f39c1a"/>
<circle cx="386" cy="409.7" r="1.3" fill="#f39c1a"/>
<circle cx="389.5" cy="418" r="1.3" fill="#f39c1a"/>
<circle cx="379.8" cy="425" r="1.3" fill="#f39c1a"/>
<circle cx="383.5" cy="438.5" r="1.3" fill="#f39c1a"/>
<circle cx="373.8" cy="415.6" r="1.3" fill="#f39c1a"/>
<line x1="371.4" y1="415.6" x2="395.2" y2="415.6" stroke="#111" stroke-width="1.55"/>
<line x1="415.6" y1="387" x2="415.6" y2="410.8" stroke="#333" stroke-width="0.9"/>
<rect x="403.7" y="393.3" width="23.8" height="15.3" fill="#92d48c" fill-opacity="0.6"/>
<circle cx="409.4" cy="386.5" r="1.3" fill="#3aa835"/>
<circle cx="415.6" cy="387.5" r="1.3" fill="#3aa835"/>
<circle cx="423.7" cy="392" r="1.3" fill="#3aa835"/>
<circle cx="412.6" cy="393.5" r="1.3" fill="#3aa835"/>
<circle cx="417.7" cy="402" r="1.3" fill="#3aa835"/>
<circle cx="406.5" cy="406.5" r="1.3" fill="#3aa835"/>
<circle cx="422.3" cy="407.5" r="1.3" fill="#3aa835"/>
<circle cx="412" cy="412.4" r="1.3" fill="#3aa835"/>
<circle cx="415.6" cy="446.3" r="1.3" fill="#3aa835"/>
<line x1="403.7" y1="404" x2="427.5" y2="404" stroke="#111" stroke-width="1.55"/>
<line x1="447.9" y1="423.5" x2="447.9" y2="461.78" stroke="#333" stroke-width="0.9"/>
<rect x="436" y="435.38" width="23.8" height="13.2" fill="#ea8c8c" fill-opacity="0.55" stroke="none"/>
<line x1="436" y1="441.98" x2="459.8" y2="441.98" stroke="#222" stroke-width="1.55"/>
<circle cx="456.9" cy="448.52" r="1.3" fill="#c20f2b"/>
<circle cx="450.13" cy="436.89" r="1.3" fill="#c20f2b"/>
<circle cx="447.9" cy="434.43" r="1.3" fill="#c20f2b"/>
<circle cx="439.1" cy="450.42" r="1.3" fill="#c20f2b"/>
<circle cx="440.9" cy="436" r="1.3" fill="#c20f2b"/>
<circle cx="435.6" cy="445.07" r="1.3" fill="#c20f2b"/>
<circle cx="438.65" cy="445.13" r="1.3" fill="#c20f2b"/>
<circle cx="443.2" cy="446.13" r="1.3" fill="#c20f2b"/>
<circle cx="441.3" cy="444.69" r="1.3" fill="#c20f2b"/>
<circle cx="453.7" cy="454.16" r="1.3" fill="#c20f2b"/>
<circle cx="445.26" cy="448.98" r="1.3" fill="#c20f2b"/>
<circle cx="454.5" cy="450.47" r="1.3" fill="#c20f2b"/>
<circle cx="440.72" cy="439.53" r="1.3" fill="#c20f2b"/>
<circle cx="447.9" cy="429.4" r="1.3" fill="#c20f2b"/>
<circle cx="446.07" cy="444.77" r="1.3" fill="#c20f2b"/>
<circle cx="447.9" cy="453.55" r="1.3" fill="#c20f2b"/>
<circle cx="451.7" cy="445.22" r="1.3" fill="#c20f2b"/>
<circle cx="453.7" cy="448.59" r="1.3" fill="#c20f2b"/>
<circle cx="452.3" cy="430.07" r="1.3" fill="#c20f2b"/>
<circle cx="438.3" cy="439.02" r="1.3" fill="#c20f2b"/>
<circle cx="445.9" cy="447.26" r="1.3" fill="#c20f2b"/>
<circle cx="448.69" cy="436.71" r="1.3" fill="#c20f2b"/>
<circle cx="440.7" cy="439.24" r="1.3" fill="#c20f2b"/>
<circle cx="451.7" cy="452.94" r="1.3" fill="#c20f2b"/>
<circle cx="441.91" cy="446.01" r="1.3" fill="#c20f2b"/>
<circle cx="454.34" cy="444.16" r="1.3" fill="#c20f2b"/>
<circle cx="445.53" cy="442.52" r="1.3" fill="#c20f2b"/>
<circle cx="459.86" cy="441.8" r="1.3" fill="#c20f2b"/>
<circle cx="445.7" cy="444.79" r="1.3" fill="#c20f2b"/>
<circle cx="437.9" cy="441.44" r="1.3" fill="#c20f2b"/>
<circle cx="439.7" cy="446.35" r="1.3" fill="#c20f2b"/>
<circle cx="443.7" cy="448.32" r="1.3" fill="#c20f2b"/>
<circle cx="452.5" cy="433.04" r="1.3" fill="#c20f2b"/>
<circle cx="456.5" cy="440.36" r="1.3" fill="#c20f2b"/>
<circle cx="449.9" cy="439.86" r="1.3" fill="#c20f2b"/>
<circle cx="445.7" cy="452.75" r="1.3" fill="#c20f2b"/>
<circle cx="436.9" cy="443.69" r="1.3" fill="#c20f2b"/>
<circle cx="458.55" cy="437.45" r="1.3" fill="#c20f2b"/>
<circle cx="443.7" cy="450.82" r="1.3" fill="#c20f2b"/>
<circle cx="456.7" cy="435.68" r="1.3" fill="#c20f2b"/>
<circle cx="454.54" cy="445.11" r="1.3" fill="#c20f2b"/>
<circle cx="434.9" cy="440.09" r="1.3" fill="#c20f2b"/>
<circle cx="450.41" cy="443.48" r="1.3" fill="#c20f2b"/>
<circle cx="443.1" cy="441.26" r="1.3" fill="#c20f2b"/>
<circle cx="436.08" cy="435.02" r="1.3" fill="#c20f2b"/>
<circle cx="436.27" cy="445.2" r="1.3" fill="#c20f2b"/>
<circle cx="444.7" cy="432.73" r="1.3" fill="#c20f2b"/>
<circle cx="455.96" cy="447.59" r="1.3" fill="#c20f2b"/>
<circle cx="441.27" cy="448.54" r="1.3" fill="#c20f2b"/>
<circle cx="455.9" cy="438.13" r="1.3" fill="#c20f2b"/>
<circle cx="443.09" cy="449.39" r="1.3" fill="#c20f2b"/>
<circle cx="434.9" cy="444.99" r="1.3" fill="#c20f2b"/>
<circle cx="437.46" cy="436.89" r="1.3" fill="#c20f2b"/>
<circle cx="445.5" cy="434.97" r="1.3" fill="#c20f2b"/>
<circle cx="443.7" cy="453.89" r="1.3" fill="#c20f2b"/>
<circle cx="452.69" cy="439.43" r="1.3" fill="#c20f2b"/>
<circle cx="445.9" cy="430.7" r="1.3" fill="#c20f2b"/>
<circle cx="443.1" cy="435.07" r="1.3" fill="#c20f2b"/>
<circle cx="452.15" cy="444.16" r="1.3" fill="#c20f2b"/>
<circle cx="450.03" cy="446.45" r="1.3" fill="#c20f2b"/>
<circle cx="444.93" cy="444.52" r="1.3" fill="#c20f2b"/>
<circle cx="441.5" cy="449.94" r="1.3" fill="#c20f2b"/>
<circle cx="453.9" cy="444.32" r="1.3" fill="#c20f2b"/>
<circle cx="449.7" cy="443.83" r="1.3" fill="#c20f2b"/>
<circle cx="447.76" cy="443.56" r="1.3" fill="#c20f2b"/>
<circle cx="459.1" cy="435.15" r="1.3" fill="#c20f2b"/>
<circle cx="457.15" cy="444.1" r="1.3" fill="#c20f2b"/>
<circle cx="449.5" cy="451.88" r="1.3" fill="#c20f2b"/>
<circle cx="438.5" cy="435.98" r="1.3" fill="#c20f2b"/>
<circle cx="450.1" cy="449.44" r="1.3" fill="#c20f2b"/>
<circle cx="447.9" cy="445.47" r="1.3" fill="#c20f2b"/>
<circle cx="460.12" cy="443.49" r="1.3" fill="#c20f2b"/>
<circle cx="441.42" cy="444.82" r="1.3" fill="#c20f2b"/>
<circle cx="437.1" cy="449" r="1.3" fill="#c20f2b"/>
<circle cx="455.64" cy="444.22" r="1.3" fill="#c20f2b"/>
<circle cx="450.3" cy="428.8" r="1.3" fill="#c20f2b"/>
<circle cx="451.36" cy="446.49" r="1.3" fill="#c20f2b"/>
<circle cx="447.46" cy="443.5" r="1.3" fill="#c20f2b"/>
<circle cx="452.1" cy="435.52" r="1.3" fill="#c20f2b"/>
<circle cx="452.5" cy="437.92" r="1.3" fill="#c20f2b"/>
<circle cx="460.7" cy="437.8" r="1.3" fill="#c20f2b"/>
<circle cx="454.98" cy="437.18" r="1.3" fill="#c20f2b"/>
<circle cx="449.7" cy="455.11" r="1.3" fill="#c20f2b"/>
<circle cx="454.5" cy="448.11" r="1.3" fill="#c20f2b"/>
<circle cx="445.5" cy="441.83" r="1.3" fill="#c20f2b"/>
<circle cx="445.7" cy="439.48" r="1.3" fill="#c20f2b"/>
<circle cx="453.6" cy="434.44" r="1.3" fill="#c20f2b"/>
<circle cx="453.27" cy="439.66" r="1.3" fill="#c20f2b"/>
<circle cx="456.3" cy="444.15" r="1.3" fill="#c20f2b"/>
<circle cx="434.9" cy="442.39" r="1.3" fill="#c20f2b"/>
<circle cx="443.5" cy="443.98" r="1.3" fill="#c20f2b"/>
<circle cx="451.9" cy="441.07" r="1.3" fill="#c20f2b"/>
<circle cx="442.9" cy="438.37" r="1.3" fill="#c20f2b"/>
<circle cx="442.3" cy="444.79" r="1.3" fill="#c20f2b"/>
<circle cx="459.07" cy="447.8" r="1.3" fill="#c20f2b"/>
<circle cx="459.3" cy="448.06" r="1.3" fill="#c20f2b"/>
<circle cx="436.1" cy="435.69" r="1.3" fill="#c20f2b"/>
<circle cx="445.24" cy="434.52" r="1.3" fill="#c20f2b"/>
<circle cx="454.3" cy="436.35" r="1.3" fill="#c20f2b"/>
<circle cx="444.9" cy="437.21" r="1.3" fill="#c20f2b"/>
<circle cx="458.3" cy="437.36" r="1.3" fill="#c20f2b"/>
<circle cx="447.7" cy="442.65" r="1.3" fill="#c20f2b"/>
<circle cx="447.9" cy="438.43" r="1.3" fill="#c20f2b"/>
<circle cx="452.5" cy="449.31" r="1.3" fill="#c20f2b"/>
<circle cx="458.7" cy="443.93" r="1.3" fill="#c20f2b"/>
<circle cx="435.1" cy="447.29" r="1.3" fill="#c20f2b"/>
<circle cx="436.1" cy="438.03" r="1.3" fill="#c20f2b"/>
<circle cx="437.3" cy="446.31" r="1.3" fill="#c20f2b"/>
<circle cx="448.99" cy="443.33" r="1.3" fill="#c20f2b"/>
<circle cx="454.1" cy="440.1" r="1.3" fill="#c20f2b"/>
<circle cx="450.3" cy="434.06" r="1.3" fill="#c20f2b"/>
<circle cx="443.02" cy="447.66" r="1.3" fill="#c20f2b"/>
<circle cx="447.9" cy="448.59" r="1.3" fill="#c20f2b"/>
<circle cx="450.1" cy="437.46" r="1.3" fill="#c20f2b"/>
<circle cx="445.7" cy="449.65" r="1.3" fill="#c20f2b"/>
<circle cx="458.9" cy="439.77" r="1.3" fill="#c20f2b"/>
<circle cx="460.9" cy="446.25" r="1.3" fill="#c20f2b"/>
<circle cx="439.3" cy="443.31" r="1.3" fill="#c20f2b"/>
<circle cx="451.1" cy="410.31" r="1.3" fill="#c20f2b"/>
<circle cx="450.7" cy="422.32" r="1.3" fill="#c20f2b"/>
<circle cx="447.9" cy="422.34" r="1.3" fill="#c20f2b"/>
<circle cx="447.9" cy="409.9" r="1.3" fill="#c20f2b"/>
<circle cx="449.5" cy="424.32" r="1.3" fill="#c20f2b"/>
<circle cx="446.1" cy="408.35" r="1.3" fill="#c20f2b"/>
<circle cx="445.7" cy="410.62" r="1.3" fill="#c20f2b"/>
<circle cx="447.9" cy="426.04" r="1.3" fill="#c20f2b"/>
<circle cx="446.1" cy="423.88" r="1.3" fill="#c20f2b"/>
<circle cx="447.9" cy="413.91" r="1.3" fill="#c20f2b"/>
<circle cx="443.7" cy="423.47" r="1.3" fill="#c20f2b"/>
<circle cx="445.7" cy="426.8" r="1.3" fill="#c20f2b"/>
<circle cx="449.3" cy="411.75" r="1.3" fill="#c20f2b"/>
<circle cx="450.3" cy="464.13" r="1.3" fill="#c20f2b"/>
<circle cx="445.9" cy="459.27" r="1.3" fill="#c20f2b"/>
<circle cx="447.9" cy="468.04" r="1.3" fill="#c20f2b"/>
<circle cx="447.9" cy="464.38" r="1.3" fill="#c20f2b"/>
<circle cx="450.3" cy="460.66" r="1.3" fill="#c20f2b"/>
<circle cx="449.9" cy="469.47" r="1.3" fill="#c20f2b"/>
<circle cx="450.1" cy="467.05" r="1.3" fill="#c20f2b"/>
<circle cx="447.9" cy="460.69" r="1.3" fill="#c20f2b"/>
<circle cx="447.9" cy="457.67" r="1.3" fill="#c20f2b"/>
<circle cx="445.7" cy="456.92" r="1.3" fill="#c20f2b"/>
<circle cx="445.5" cy="468.18" r="1.3" fill="#c20f2b"/>
<circle cx="448.5" cy="407.66" r="1.3" fill="#c20f2b"/>
<circle cx="447.9" cy="482.24" r="1.3" fill="#c20f2b"/>
<circle cx="447.9" cy="478.94" r="1.3" fill="#c20f2b"/>
<circle cx="447.9" cy="473" r="1.3" fill="#c20f2b"/>
<line x1="490.8" y1="398.42" x2="490.8" y2="443.3" stroke="#333" stroke-width="0.9"/>
<rect x="478.9" y="405.02" width="23.8" height="17.16" fill="#9ad890" fill-opacity="0.5" stroke="none"/>
<circle cx="486.92" cy="432.13" r="1.3" fill="#2f9a40"/>
<circle cx="488.74" cy="418.09" r="1.3" fill="#2f9a40"/>
<circle cx="495.3" cy="429.54" r="1.3" fill="#2f9a40"/>
<circle cx="490.8" cy="401.1" r="1.3" fill="#2f9a40"/>
<circle cx="490.15" cy="420.41" r="1.3" fill="#2f9a40"/>
<circle cx="486.22" cy="428.14" r="1.3" fill="#2f9a40"/>
<circle cx="495.41" cy="420.15" r="1.3" fill="#2f9a40"/>
<circle cx="489.46" cy="428.71" r="1.3" fill="#2f9a40"/>
<circle cx="499.72" cy="418.1" r="1.3" fill="#2f9a40"/>
<circle cx="491.95" cy="411.05" r="1.3" fill="#2f9a40"/>
<circle cx="497.25" cy="409.58" r="1.3" fill="#2f9a40"/>
<circle cx="492.75" cy="407.95" r="1.3" fill="#2f9a40"/>
<circle cx="492.59" cy="428.14" r="1.3" fill="#2f9a40"/>
<circle cx="481.87" cy="422.79" r="1.3" fill="#2f9a40"/>
<circle cx="487.52" cy="405.88" r="1.3" fill="#2f9a40"/>
<circle cx="494.58" cy="413.35" r="1.3" fill="#2f9a40"/>
<circle cx="481.91" cy="418.54" r="1.3" fill="#2f9a40"/>
<circle cx="480.67" cy="415.87" r="1.3" fill="#2f9a40"/>
<circle cx="487.31" cy="411.23" r="1.3" fill="#2f9a40"/>
<circle cx="491.08" cy="423.44" r="1.3" fill="#2f9a40"/>
<circle cx="489.52" cy="413.9" r="1.3" fill="#2f9a40"/>
<circle cx="494.23" cy="418.03" r="1.3" fill="#2f9a40"/>
<circle cx="485.43" cy="406.86" r="1.3" fill="#2f9a40"/>
<circle cx="496.7" cy="411.6" r="1.3" fill="#2f9a40"/>
<circle cx="484.79" cy="419.7" r="1.3" fill="#2f9a40"/>
<circle cx="486.79" cy="423.92" r="1.3" fill="#2f9a40"/>
<circle cx="499.68" cy="422.35" r="1.3" fill="#2f9a40"/>
<circle cx="486.03" cy="416.4" r="1.3" fill="#2f9a40"/>
<circle cx="498.2" cy="419.39" r="1.3" fill="#2f9a40"/>
<circle cx="491.48" cy="415.88" r="1.3" fill="#2f9a40"/>
<circle cx="483.25" cy="409.64" r="1.3" fill="#2f9a40"/>
<circle cx="494.34" cy="406.73" r="1.3" fill="#2f9a40"/>
<circle cx="496.99" cy="417.47" r="1.3" fill="#2f9a40"/>
<circle cx="483.24" cy="417.67" r="1.3" fill="#2f9a40"/>
<circle cx="492.84" cy="418.85" r="1.3" fill="#2f9a40"/>
<circle cx="487.41" cy="419.08" r="1.3" fill="#2f9a40"/>
<circle cx="495.24" cy="424.25" r="1.3" fill="#2f9a40"/>
<circle cx="488.68" cy="409.3" r="1.3" fill="#2f9a40"/>
<circle cx="499.97" cy="414.59" r="1.3" fill="#2f9a40"/>
<circle cx="484.6" cy="412.93" r="1.3" fill="#2f9a40"/>
<circle cx="490.01" cy="443.3" r="1.3" fill="#2f9a40"/>
<circle cx="491.24" cy="438.02" r="1.3" fill="#2f9a40"/>
<line x1="478.9" y1="414.26" x2="502.7" y2="414.26" stroke="#111" stroke-width="1.55"/>
<circle cx="490.9" cy="367.6" r="1.25" fill="#3a8a44"/>
<text x="247.3" y="511.6" font-size="7.2" fill="#3a3a3a" text-anchor="end" transform="rotate(-45 247.3 511.6)" textLength="25.5" lengthAdjust="spacingAndGlyphs" stroke="#3a3a3a" stroke-width="0.12">Variable</text>
<text x="279.6" y="511.6" font-size="7.2" fill="#3a3a3a" text-anchor="end" transform="rotate(-45 279.6 511.6)" textLength="30" lengthAdjust="spacingAndGlyphs" stroke="#3a3a3a" stroke-width="0.12">Eμ/IGHM</text>
<text x="311.9" y="511.6" font-size="7.2" fill="#3a3a3a" text-anchor="end" transform="rotate(-45 311.9 511.6)" textLength="13.5" lengthAdjust="spacingAndGlyphs" stroke="#3a3a3a" stroke-width="0.12">CSR</text>
<text x="354.4" y="511.6" font-size="7.2" fill="#3a3a3a" text-anchor="end" transform="rotate(-45 354.4 511.6)" textLength="25.5" lengthAdjust="spacingAndGlyphs" stroke="#3a3a3a" stroke-width="0.12">Variable</text>
<text x="386.7" y="511.6" font-size="7.2" fill="#3a3a3a" text-anchor="end" transform="rotate(-45 386.7 511.6)" textLength="30" lengthAdjust="spacingAndGlyphs" stroke="#3a3a3a" stroke-width="0.12">Eμ/IGHM</text>
<text x="419" y="511.6" font-size="7.2" fill="#3a3a3a" text-anchor="end" transform="rotate(-45 419 511.6)" textLength="13.5" lengthAdjust="spacingAndGlyphs" stroke="#3a3a3a" stroke-width="0.12">CSR</text>
<text x="451.3" y="511.6" font-size="7.2" fill="#3a3a3a" text-anchor="end" transform="rotate(-45 451.3 511.6)" textLength="35" lengthAdjust="spacingAndGlyphs" stroke="#3a3a3a" stroke-width="0.12">MYC−R Neg</text>
<text x="494.2" y="511.6" font-size="7.2" fill="#3a3a3a" text-anchor="end" transform="rotate(-45 494.2 511.6)" textLength="13.5" lengthAdjust="spacingAndGlyphs" stroke="#3a3a3a" stroke-width="0.12">CSR</text>
<line x1="243.9" y1="502.8" x2="243.9" y2="505.4" stroke="#333" stroke-width="0.8"/>
<line x1="276.2" y1="502.8" x2="276.2" y2="505.4" stroke="#333" stroke-width="0.8"/>
<line x1="308.5" y1="502.8" x2="308.5" y2="505.4" stroke="#333" stroke-width="0.8"/>
<line x1="351" y1="502.8" x2="351" y2="505.4" stroke="#333" stroke-width="0.8"/>
<line x1="383.3" y1="502.8" x2="383.3" y2="505.4" stroke="#333" stroke-width="0.8"/>
<line x1="415.6" y1="502.8" x2="415.6" y2="505.4" stroke="#333" stroke-width="0.8"/>
<line x1="447.9" y1="502.8" x2="447.9" y2="505.4" stroke="#333" stroke-width="0.8"/>
<line x1="490.8" y1="502.8" x2="490.8" y2="505.4" stroke="#333" stroke-width="0.8"/>
<rect x="0.5" y="0.5" width="519" height="543" fill="none" stroke="#4a4a4a" stroke-width="1"/>
</svg></body></html>
